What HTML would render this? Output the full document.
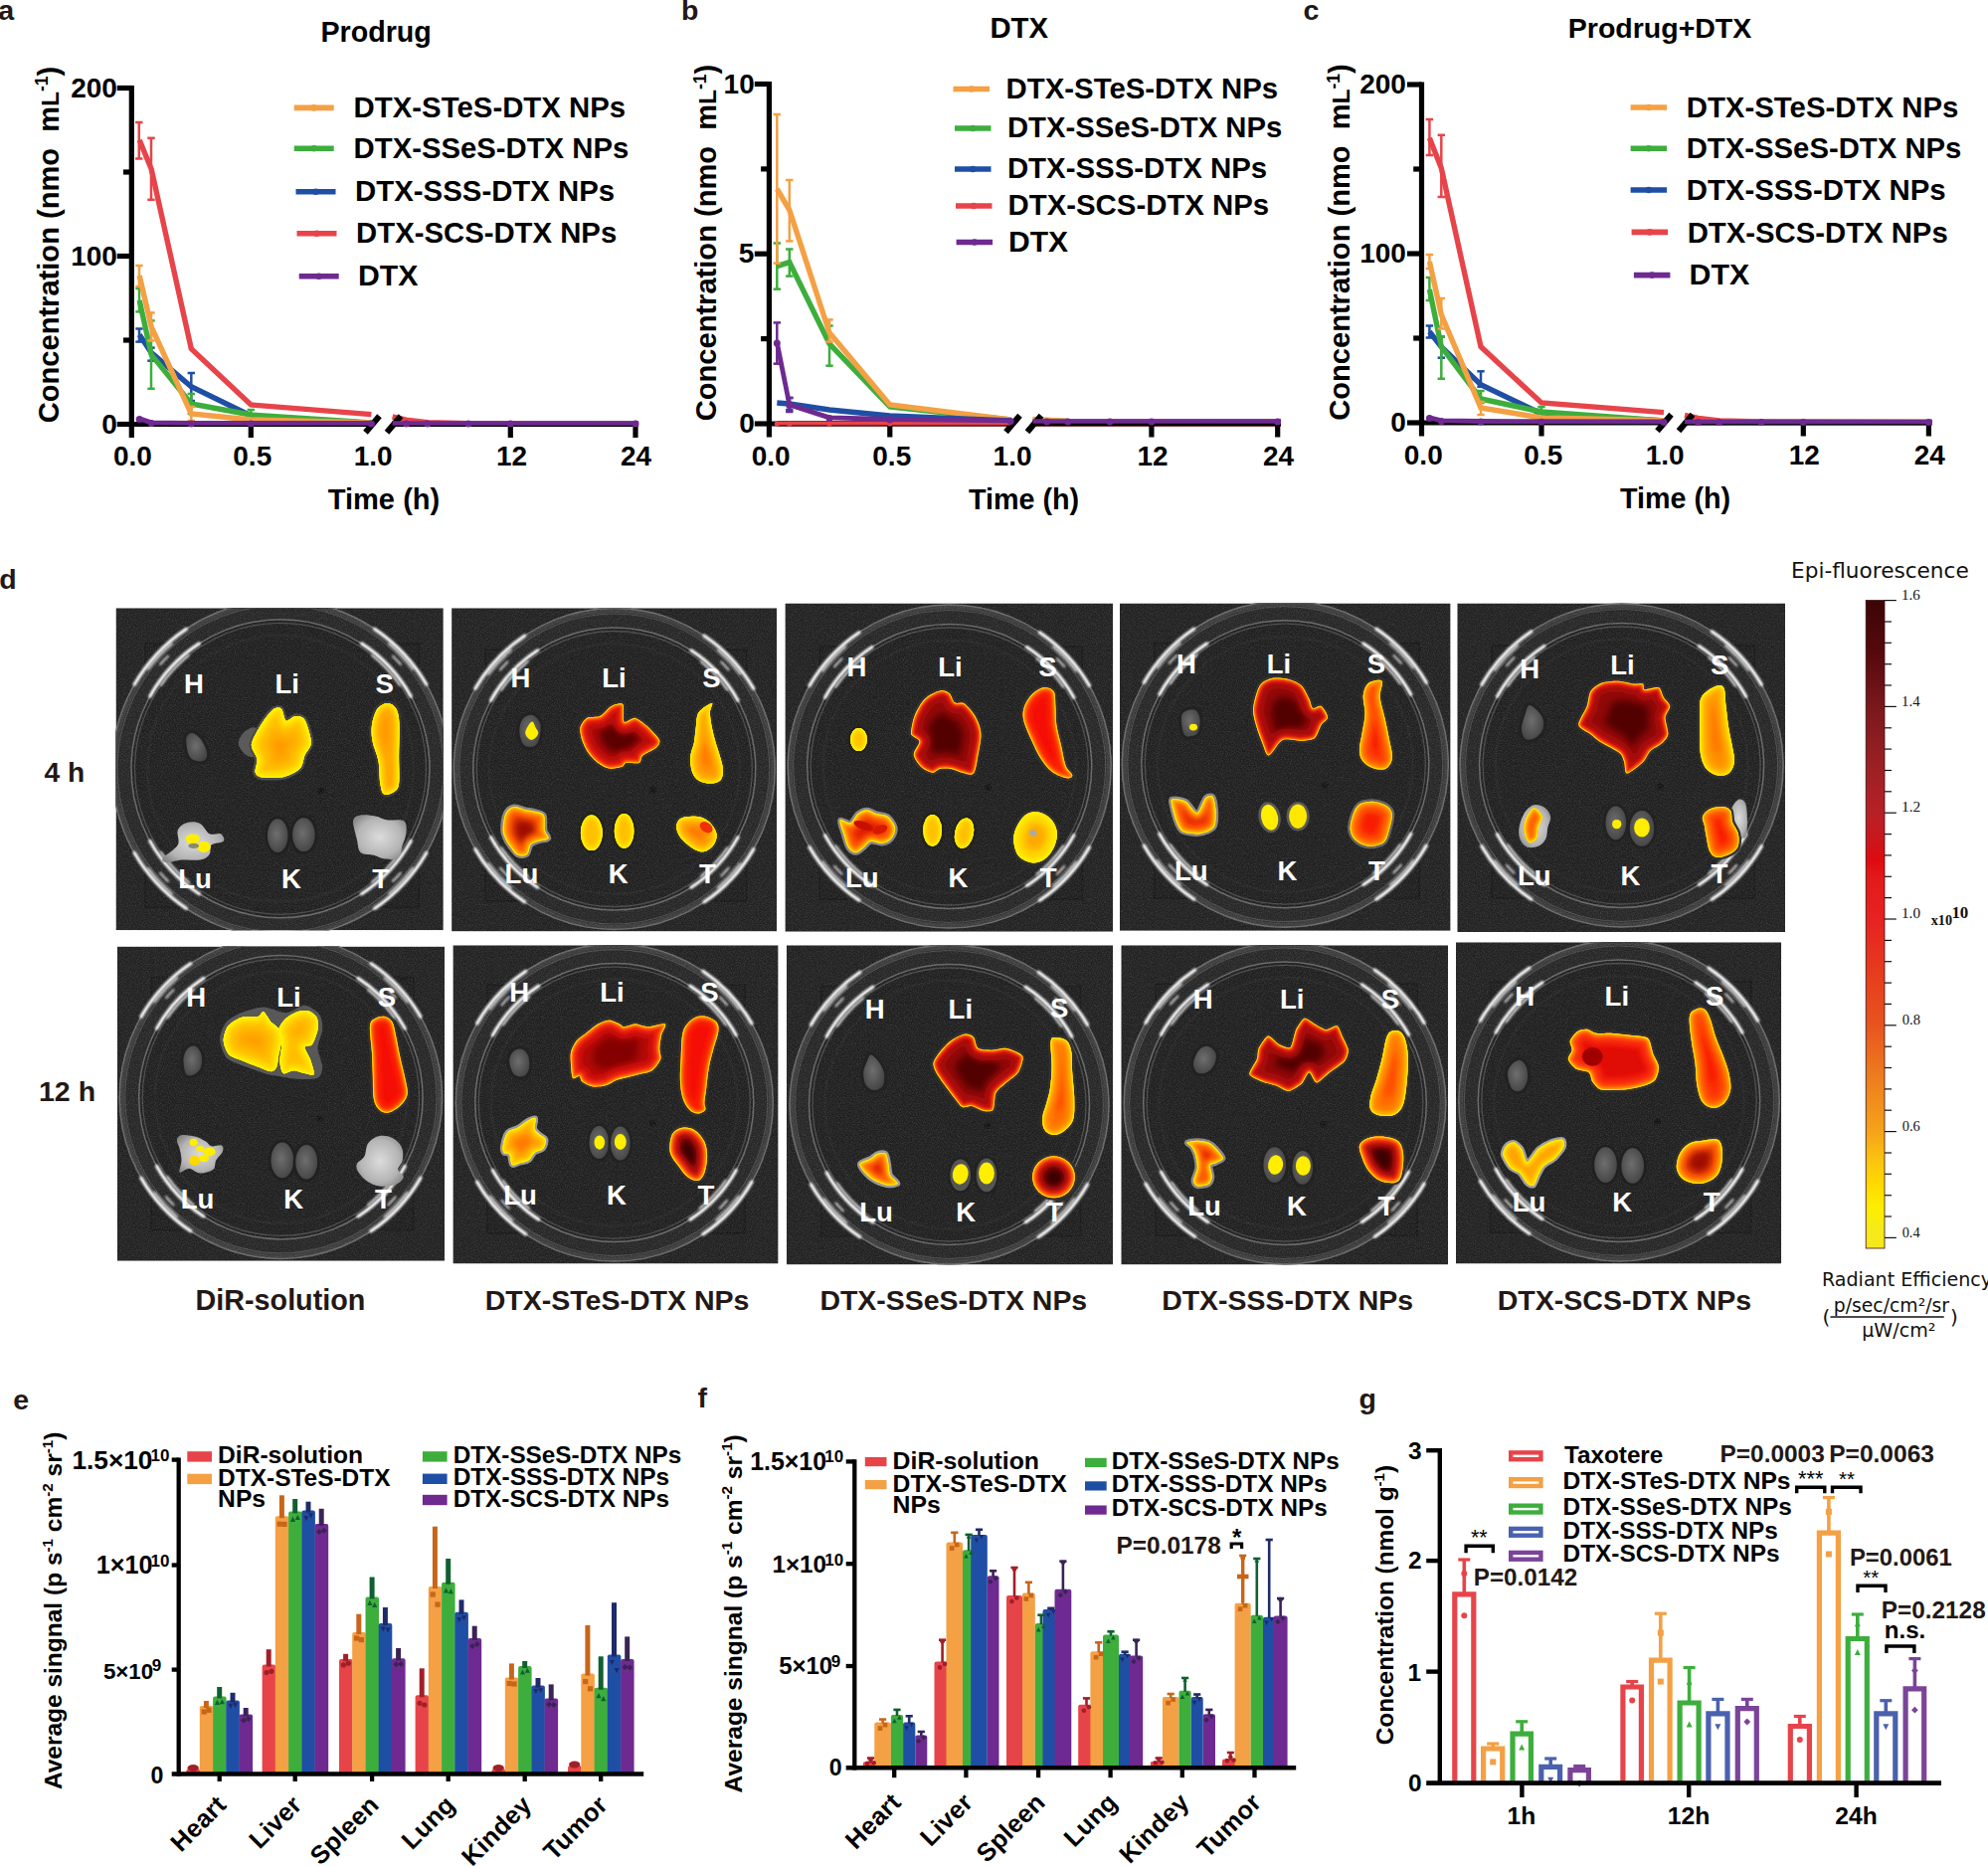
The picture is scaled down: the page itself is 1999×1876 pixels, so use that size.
<!DOCTYPE html>
<html lang="en"><head><meta charset="utf-8"><title>Figure</title>
<style>
html,body{margin:0;padding:0;background:#fff;}
body{width:1999px;height:1876px;overflow:hidden;}
svg{display:block;}
svg{font-family:"Liberation Sans","DejaVu Sans",sans-serif;}
</style></head><body>
<svg width="1999" height="1876" viewBox="0 0 1999 1876">
<rect width="1999" height="1876" fill="#fff"/>
<polyline points="140.2,336.5 152.2,354.6 192.3,388.8 252.3,418.0 373.4,425.5" fill="none" stroke="#1f4fa4" stroke-width="5.4" stroke-linejoin="miter" stroke-linecap="butt"/>
<polyline points="394.6,426.2 408.6,426.2 429.8,426.2 471.0,426.2 513.3,426.2 642.0,426.2" fill="none" stroke="#1f4fa4" stroke-width="5.4" stroke-linejoin="round"/>
<line x1="140.0" y1="330.5" x2="140.0" y2="343.6" stroke="#1f4fa4" stroke-width="2.5" />
<line x1="136.3" y1="330.5" x2="143.7" y2="330.5" stroke="#1f4fa4" stroke-width="2.5" />
<line x1="136.3" y1="343.6" x2="143.7" y2="343.6" stroke="#1f4fa4" stroke-width="2.5" />
<line x1="152.0" y1="349.6" x2="152.0" y2="362.7" stroke="#1f4fa4" stroke-width="2.5" />
<line x1="148.3" y1="349.6" x2="155.7" y2="349.6" stroke="#1f4fa4" stroke-width="2.5" />
<line x1="148.3" y1="362.7" x2="155.7" y2="362.7" stroke="#1f4fa4" stroke-width="2.5" />
<line x1="192.3" y1="375.0" x2="192.3" y2="403.0" stroke="#1f4fa4" stroke-width="2.5" />
<line x1="188.6" y1="375.0" x2="196.0" y2="375.0" stroke="#1f4fa4" stroke-width="2.5" />
<line x1="188.6" y1="403.0" x2="196.0" y2="403.0" stroke="#1f4fa4" stroke-width="2.5" />
<polyline points="140.2,302.0 152.2,356.6 192.3,406.0 252.3,417.0 373.4,425.0" fill="none" stroke="#3dae3c" stroke-width="5.4" stroke-linejoin="miter" stroke-linecap="butt"/>
<polyline points="394.6,426.0 408.6,426.0 429.8,426.0 471.0,426.0 513.3,426.0 642.0,426.0" fill="none" stroke="#3dae3c" stroke-width="5.4" stroke-linejoin="round"/>
<line x1="140.0" y1="290.0" x2="140.0" y2="313.4" stroke="#3dae3c" stroke-width="2.5" />
<line x1="136.3" y1="290.0" x2="143.7" y2="290.0" stroke="#3dae3c" stroke-width="2.5" />
<line x1="136.3" y1="313.4" x2="143.7" y2="313.4" stroke="#3dae3c" stroke-width="2.5" />
<line x1="152.0" y1="322.4" x2="152.0" y2="390.8" stroke="#3dae3c" stroke-width="2.5" />
<line x1="148.3" y1="322.4" x2="155.7" y2="322.4" stroke="#3dae3c" stroke-width="2.5" />
<line x1="148.3" y1="390.8" x2="155.7" y2="390.8" stroke="#3dae3c" stroke-width="2.5" />
<line x1="192.3" y1="396.0" x2="192.3" y2="416.0" stroke="#3dae3c" stroke-width="2.5" />
<line x1="188.6" y1="396.0" x2="196.0" y2="396.0" stroke="#3dae3c" stroke-width="2.5" />
<line x1="188.6" y1="416.0" x2="196.0" y2="416.0" stroke="#3dae3c" stroke-width="2.5" />
<line x1="252.3" y1="412.0" x2="252.3" y2="422.0" stroke="#3dae3c" stroke-width="2.5" />
<line x1="248.6" y1="412.0" x2="256.0" y2="412.0" stroke="#3dae3c" stroke-width="2.5" />
<line x1="248.6" y1="422.0" x2="256.0" y2="422.0" stroke="#3dae3c" stroke-width="2.5" />
<polyline points="140.2,277.0 152.2,328.5 192.3,416.0 252.3,422.0 373.4,425.0" fill="none" stroke="#f4a044" stroke-width="5.4" stroke-linejoin="miter" stroke-linecap="butt"/>
<polyline points="394.6,425.8 408.6,425.8 429.8,425.8 471.0,425.8 513.3,425.8 642.0,425.8" fill="none" stroke="#f4a044" stroke-width="5.4" stroke-linejoin="round"/>
<line x1="140.0" y1="267.0" x2="140.0" y2="288.0" stroke="#f4a044" stroke-width="2.5" />
<line x1="136.3" y1="267.0" x2="143.7" y2="267.0" stroke="#f4a044" stroke-width="2.5" />
<line x1="136.3" y1="288.0" x2="143.7" y2="288.0" stroke="#f4a044" stroke-width="2.5" />
<line x1="152.0" y1="314.4" x2="152.0" y2="342.5" stroke="#f4a044" stroke-width="2.5" />
<line x1="148.3" y1="314.4" x2="155.7" y2="314.4" stroke="#f4a044" stroke-width="2.5" />
<line x1="148.3" y1="342.5" x2="155.7" y2="342.5" stroke="#f4a044" stroke-width="2.5" />
<line x1="192.3" y1="409.0" x2="192.3" y2="423.0" stroke="#f4a044" stroke-width="2.5" />
<line x1="188.6" y1="409.0" x2="196.0" y2="409.0" stroke="#f4a044" stroke-width="2.5" />
<line x1="188.6" y1="423.0" x2="196.0" y2="423.0" stroke="#f4a044" stroke-width="2.5" />
<polyline points="140.2,140.8 152.2,170.0 192.3,350.6 252.3,407.0 373.4,416.6" fill="none" stroke="#e7444a" stroke-width="5.4" stroke-linejoin="miter" stroke-linecap="butt"/>
<polyline points="394.6,419.0 408.6,422.2 429.8,424.8 471.0,425.8 642.0,426.2" fill="none" stroke="#e7444a" stroke-width="5.4" stroke-linejoin="round"/>
<line x1="139.8" y1="123.0" x2="139.8" y2="159.5" stroke="#e7444a" stroke-width="2.5" />
<line x1="136.1" y1="123.0" x2="143.5" y2="123.0" stroke="#e7444a" stroke-width="2.5" />
<line x1="136.1" y1="159.5" x2="143.5" y2="159.5" stroke="#e7444a" stroke-width="2.5" />
<line x1="152.0" y1="138.8" x2="152.0" y2="200.8" stroke="#e7444a" stroke-width="2.5" />
<line x1="148.3" y1="138.8" x2="155.7" y2="138.8" stroke="#e7444a" stroke-width="2.5" />
<line x1="148.3" y1="200.8" x2="155.7" y2="200.8" stroke="#e7444a" stroke-width="2.5" />
<line x1="132.3" y1="85.9" x2="132.3" y2="440.0" stroke="#000" stroke-width="5.2" />
<line x1="129.7" y1="426.5" x2="375.4" y2="426.5" stroke="#000" stroke-width="5.2" />
<line x1="394.6" y1="426.5" x2="642.0" y2="426.5" stroke="#000" stroke-width="5.2" />
<line x1="367.5" y1="434.7" x2="381.5" y2="418.3" stroke="#000" stroke-width="6.0" />
<line x1="389.0" y1="434.7" x2="403.0" y2="418.3" stroke="#000" stroke-width="6.0" />
<line x1="117.7" y1="426.5" x2="132.3" y2="426.5" stroke="#000" stroke-width="5.2" />
<text x="102.3" y="435.7" font-size="28.0" font-weight="bold" textLength="15.6" lengthAdjust="spacingAndGlyphs">0</text>
<line x1="124.0" y1="342.0" x2="132.3" y2="342.0" stroke="#000" stroke-width="5.2" />
<line x1="117.7" y1="257.5" x2="132.3" y2="257.5" stroke="#000" stroke-width="5.2" />
<text x="71.2" y="266.7" font-size="28.0" font-weight="bold" textLength="46.7" lengthAdjust="spacingAndGlyphs">100</text>
<line x1="124.0" y1="173.0" x2="132.3" y2="173.0" stroke="#000" stroke-width="5.2" />
<line x1="117.7" y1="88.5" x2="132.3" y2="88.5" stroke="#000" stroke-width="5.2" />
<text x="71.2" y="97.7" font-size="28.0" font-weight="bold" textLength="46.7" lengthAdjust="spacingAndGlyphs">200</text>
<line x1="252.3" y1="426.5" x2="252.3" y2="440.0" stroke="#000" stroke-width="5.2" />
<line x1="513.3" y1="426.5" x2="513.3" y2="440.0" stroke="#000" stroke-width="5.2" />
<line x1="639.0" y1="426.5" x2="639.0" y2="440.0" stroke="#000" stroke-width="5.2" />
<text x="114.0" y="468.2" font-size="28.0" font-weight="bold" textLength="38.9" lengthAdjust="spacingAndGlyphs">0.0</text>
<text x="234.3" y="468.2" font-size="28.0" font-weight="bold" textLength="38.9" lengthAdjust="spacingAndGlyphs">0.5</text>
<text x="355.7" y="468.2" font-size="28.0" font-weight="bold" textLength="38.9" lengthAdjust="spacingAndGlyphs">1.0</text>
<text x="499.0" y="468.2" font-size="28.0" font-weight="bold" textLength="31.1" lengthAdjust="spacingAndGlyphs">12</text>
<text x="624.0" y="468.2" font-size="28.0" font-weight="bold" textLength="31.1" lengthAdjust="spacingAndGlyphs">24</text>
<polyline points="140.2,420.9 152.2,424.9 192.3,425.4 252.3,425.4 373.4,425.4" fill="none" stroke="#6e2a90" stroke-width="4.800000000000001" stroke-linejoin="round"/>
<polyline points="394.6,425.4 408.6,425.4 429.8,425.4 471.0,425.4 513.3,425.4 642.0,425.4" fill="none" stroke="#6e2a90" stroke-width="4.5" />
<circle cx="140.2" cy="421.4" r="3.5" fill="#6e2a90"/>
<circle cx="152.2" cy="425.4" r="3.5" fill="#6e2a90"/>
<circle cx="192.3" cy="425.9" r="3.5" fill="#6e2a90"/>
<circle cx="252.3" cy="425.9" r="3.5" fill="#6e2a90"/>
<circle cx="373.4" cy="425.9" r="3.5" fill="#6e2a90"/>
<circle cx="408.6" cy="425.9" r="3.5" fill="#6e2a90"/>
<circle cx="429.8" cy="425.9" r="3.5" fill="#6e2a90"/>
<circle cx="471.0" cy="425.9" r="3.5" fill="#6e2a90"/>
<circle cx="513.3" cy="425.9" r="3.5" fill="#6e2a90"/>
<circle cx="639.0" cy="425.9" r="3.5" fill="#6e2a90"/>
<text x="322.4" y="42.3" font-size="28.64" font-weight="bold" textLength="111.4" lengthAdjust="spacingAndGlyphs">Prodrug</text>
<text x="329.7" y="511.5" font-size="29.1" font-weight="bold" textLength="112.6" lengthAdjust="spacingAndGlyphs">Time (h)</text>
<text x="58.6" y="425.2" font-size="29.08" font-weight="bold" textLength="358.4" lengthAdjust="spacingAndGlyphs" transform="rotate(-90 58.6 425.2)" xml:space="preserve"><tspan>Concentration (nmo  m</tspan><tspan font-size="24.43">L</tspan><tspan font-size="17.45" dy="-10.47">-1</tspan><tspan dy="10.47">)</tspan></text>
<line x1="295.7" y1="108.4" x2="335.7" y2="108.4" stroke="#f4a044" stroke-width="5.6" />
<circle cx="315.7" cy="108.4" r="3.3" fill="#f4a044"/>
<text x="355.6" y="117.7" font-size="29.37" font-weight="bold" textLength="273.6" lengthAdjust="spacingAndGlyphs">DTX-STeS-DTX NPs</text>
<line x1="295.7" y1="149.3" x2="335.7" y2="149.3" stroke="#3dae3c" stroke-width="5.6" />
<circle cx="315.7" cy="149.3" r="3.3" fill="#3dae3c"/>
<text x="355.6" y="159.0" font-size="29.28" font-weight="bold" textLength="276.6" lengthAdjust="spacingAndGlyphs">DTX-SSeS-DTX NPs</text>
<line x1="297.5" y1="192.7" x2="337.5" y2="192.7" stroke="#1f4fa4" stroke-width="5.6" />
<circle cx="317.5" cy="192.7" r="3.3" fill="#1f4fa4"/>
<text x="357.1" y="201.8" font-size="29.37" font-weight="bold" textLength="261.1" lengthAdjust="spacingAndGlyphs">DTX-SSS-DTX NPs</text>
<line x1="298.5" y1="234.8" x2="338.5" y2="234.8" stroke="#e7444a" stroke-width="5.6" />
<circle cx="318.5" cy="234.8" r="3.3" fill="#e7444a"/>
<text x="358.1" y="244.0" font-size="29.3" font-weight="bold" textLength="262.1" lengthAdjust="spacingAndGlyphs">DTX-SCS-DTX NPs</text>
<line x1="300.7" y1="277.7" x2="340.7" y2="277.7" stroke="#6e2a90" stroke-width="5.6" />
<circle cx="320.7" cy="277.7" r="3.3" fill="#6e2a90"/>
<text x="360.0" y="286.7" font-size="30.23" font-weight="bold" textLength="60.5" lengthAdjust="spacingAndGlyphs">DTX</text>
<polyline points="781.3,426.0 793.8,426.0 834.0,426.0 894.8,426.0 1016.2,426.0" fill="none" stroke="#e7444a" stroke-width="5.4" stroke-linejoin="miter" stroke-linecap="butt"/>
<polyline points="1038.6,426.0 1052.7,426.0 1073.8,426.0 1116.0,426.0 1157.9,426.0 1288.0,426.0" fill="none" stroke="#e7444a" stroke-width="5.4" stroke-linejoin="round"/>
<polyline points="781.3,267.6 793.8,263.6 834.0,345.6 894.8,409.0 1016.2,422.0" fill="none" stroke="#3dae3c" stroke-width="5.4" stroke-linejoin="miter" stroke-linecap="butt"/>
<polyline points="1038.6,422.5 1073.8,423.5 1288.0,423.6" fill="none" stroke="#3dae3c" stroke-width="5.4" stroke-linejoin="round"/>
<line x1="781.3" y1="244.5" x2="781.3" y2="290.7" stroke="#3dae3c" stroke-width="2.5" />
<line x1="777.6" y1="244.5" x2="785.0" y2="244.5" stroke="#3dae3c" stroke-width="2.5" />
<line x1="777.6" y1="290.7" x2="785.0" y2="290.7" stroke="#3dae3c" stroke-width="2.5" />
<line x1="793.8" y1="250.5" x2="793.8" y2="277.6" stroke="#3dae3c" stroke-width="2.5" />
<line x1="790.1" y1="250.5" x2="797.5" y2="250.5" stroke="#3dae3c" stroke-width="2.5" />
<line x1="790.1" y1="277.6" x2="797.5" y2="277.6" stroke="#3dae3c" stroke-width="2.5" />
<line x1="834.0" y1="327.5" x2="834.0" y2="367.7" stroke="#3dae3c" stroke-width="2.5" />
<line x1="830.3" y1="327.5" x2="837.7" y2="327.5" stroke="#3dae3c" stroke-width="2.5" />
<line x1="830.3" y1="367.7" x2="837.7" y2="367.7" stroke="#3dae3c" stroke-width="2.5" />
<polyline points="781.3,190.0 793.8,211.0 834.0,334.5 894.8,407.0 1016.2,422.0" fill="none" stroke="#f4a044" stroke-width="5.4" stroke-linejoin="miter" stroke-linecap="butt"/>
<polyline points="1038.6,421.5 1073.8,423.5 1288.0,424.0" fill="none" stroke="#f4a044" stroke-width="5.4" stroke-linejoin="round"/>
<line x1="781.3" y1="115.0" x2="781.3" y2="264.6" stroke="#f4a044" stroke-width="2.5" />
<line x1="777.6" y1="115.0" x2="785.0" y2="115.0" stroke="#f4a044" stroke-width="2.5" />
<line x1="777.6" y1="264.6" x2="785.0" y2="264.6" stroke="#f4a044" stroke-width="2.5" />
<line x1="793.8" y1="181.0" x2="793.8" y2="242.4" stroke="#f4a044" stroke-width="2.5" />
<line x1="790.1" y1="181.0" x2="797.5" y2="181.0" stroke="#f4a044" stroke-width="2.5" />
<line x1="790.1" y1="242.4" x2="797.5" y2="242.4" stroke="#f4a044" stroke-width="2.5" />
<line x1="834.0" y1="321.4" x2="834.0" y2="343.6" stroke="#f4a044" stroke-width="2.5" />
<line x1="830.3" y1="321.4" x2="837.7" y2="321.4" stroke="#f4a044" stroke-width="2.5" />
<line x1="830.3" y1="343.6" x2="837.7" y2="343.6" stroke="#f4a044" stroke-width="2.5" />
<polyline points="781.3,405.0 793.8,406.0 834.0,412.0 894.8,418.0 1016.2,423.0" fill="none" stroke="#1f4fa4" stroke-width="5.4" stroke-linejoin="miter" stroke-linecap="butt"/>
<polyline points="1038.6,424.5 1052.7,424.5 1073.8,424.5 1116.0,424.5 1157.9,424.5 1288.0,424.5" fill="none" stroke="#1f4fa4" stroke-width="5.4" stroke-linejoin="round"/>
<line x1="793.8" y1="400.0" x2="793.8" y2="412.0" stroke="#1f4fa4" stroke-width="2.5" />
<line x1="790.1" y1="400.0" x2="797.5" y2="400.0" stroke="#1f4fa4" stroke-width="2.5" />
<line x1="790.1" y1="412.0" x2="797.5" y2="412.0" stroke="#1f4fa4" stroke-width="2.5" />
<line x1="773.4" y1="81.9" x2="773.4" y2="439.5" stroke="#000" stroke-width="5.2" />
<line x1="770.8" y1="426.0" x2="1017.5" y2="426.0" stroke="#000" stroke-width="5.2" />
<line x1="1038.6" y1="426.0" x2="1288.0" y2="426.0" stroke="#000" stroke-width="5.2" />
<line x1="1011.5" y1="434.2" x2="1025.5" y2="417.8" stroke="#000" stroke-width="6.0" />
<line x1="1033.0" y1="434.2" x2="1047.0" y2="417.8" stroke="#000" stroke-width="6.0" />
<line x1="758.8" y1="426.0" x2="773.4" y2="426.0" stroke="#000" stroke-width="5.2" />
<text x="743.2" y="435.2" font-size="28.0" font-weight="bold" textLength="15.6" lengthAdjust="spacingAndGlyphs">0</text>
<line x1="765.1" y1="340.6" x2="773.4" y2="340.6" stroke="#000" stroke-width="5.2" />
<line x1="758.8" y1="255.2" x2="773.4" y2="255.2" stroke="#000" stroke-width="5.2" />
<text x="742.8" y="264.4" font-size="28.0" font-weight="bold" textLength="15.6" lengthAdjust="spacingAndGlyphs">5</text>
<line x1="765.1" y1="169.9" x2="773.4" y2="169.9" stroke="#000" stroke-width="5.2" />
<line x1="758.8" y1="84.5" x2="773.4" y2="84.5" stroke="#000" stroke-width="5.2" />
<text x="727.6" y="93.7" font-size="28.0" font-weight="bold" textLength="31.1" lengthAdjust="spacingAndGlyphs">10</text>
<line x1="894.8" y1="426.0" x2="894.8" y2="439.5" stroke="#000" stroke-width="5.2" />
<line x1="1157.9" y1="426.0" x2="1157.9" y2="439.5" stroke="#000" stroke-width="5.2" />
<line x1="1284.7" y1="426.0" x2="1284.7" y2="439.5" stroke="#000" stroke-width="5.2" />
<text x="755.7" y="468.2" font-size="28.0" font-weight="bold" textLength="38.9" lengthAdjust="spacingAndGlyphs">0.0</text>
<text x="877.3" y="468.2" font-size="28.0" font-weight="bold" textLength="38.9" lengthAdjust="spacingAndGlyphs">0.5</text>
<text x="998.6" y="468.2" font-size="28.0" font-weight="bold" textLength="38.9" lengthAdjust="spacingAndGlyphs">1.0</text>
<text x="1143.4" y="468.2" font-size="28.0" font-weight="bold" textLength="31.1" lengthAdjust="spacingAndGlyphs">12</text>
<text x="1270.0" y="468.2" font-size="28.0" font-weight="bold" textLength="31.1" lengthAdjust="spacingAndGlyphs">24</text>
<polyline points="781.3,425.7 793.8,425.7 834.0,425.7 894.8,425.7 1016.2,425.7" fill="none" stroke="#e7444a" stroke-width="3.6" />
<circle cx="781.3" cy="426.0" r="2.6" fill="#e7444a"/>
<circle cx="793.8" cy="426.0" r="2.6" fill="#e7444a"/>
<circle cx="834.0" cy="426.0" r="2.6" fill="#e7444a"/>
<circle cx="894.8" cy="426.0" r="2.6" fill="#e7444a"/>
<polyline points="781.3,344.5 793.8,406.9 834.0,419.9 894.8,421.5 1016.2,422.9" fill="none" stroke="#6e2a90" stroke-width="4.800000000000001" stroke-linejoin="round"/>
<polyline points="1038.6,423.5 1052.7,423.5 1073.8,423.5 1116.0,423.5 1157.9,423.5 1288.0,423.5" fill="none" stroke="#6e2a90" stroke-width="4.5" />
<circle cx="781.3" cy="345.0" r="3.5" fill="#6e2a90"/>
<circle cx="793.8" cy="407.4" r="3.5" fill="#6e2a90"/>
<circle cx="834.0" cy="420.4" r="3.5" fill="#6e2a90"/>
<circle cx="894.8" cy="422.0" r="3.5" fill="#6e2a90"/>
<circle cx="1016.2" cy="423.4" r="3.5" fill="#6e2a90"/>
<circle cx="1052.7" cy="424.0" r="3.5" fill="#6e2a90"/>
<circle cx="1073.8" cy="424.0" r="3.5" fill="#6e2a90"/>
<circle cx="1116.0" cy="424.0" r="3.5" fill="#6e2a90"/>
<circle cx="1157.9" cy="424.0" r="3.5" fill="#6e2a90"/>
<circle cx="1284.7" cy="424.0" r="3.5" fill="#6e2a90"/>
<text x="995.4" y="38.2" font-size="29.3" font-weight="bold" textLength="58.6" lengthAdjust="spacingAndGlyphs">DTX</text>
<text x="973.9" y="511.6" font-size="28.75" font-weight="bold" textLength="111.3" lengthAdjust="spacingAndGlyphs">Time (h)</text>
<text x="720.4" y="423.2" font-size="29.08" font-weight="bold" textLength="358.4" lengthAdjust="spacingAndGlyphs" transform="rotate(-90 720.4 423.2)" xml:space="preserve"><tspan>Concentration (nmo  m</tspan><tspan font-size="24.43">L</tspan><tspan font-size="17.45" dy="-10.47">-1</tspan><tspan dy="10.47">)</tspan></text>
<line x1="958.5" y1="89.5" x2="995.0" y2="89.5" stroke="#f4a044" stroke-width="5.6" />
<circle cx="976.8" cy="89.5" r="3.3" fill="#f4a044"/>
<text x="1011.5" y="98.6" font-size="29.38" font-weight="bold" textLength="273.7" lengthAdjust="spacingAndGlyphs">DTX-STeS-DTX NPs</text>
<line x1="960.0" y1="129.0" x2="996.5" y2="129.0" stroke="#3dae3c" stroke-width="5.6" />
<circle cx="978.2" cy="129.0" r="3.3" fill="#3dae3c"/>
<text x="1012.9" y="138.4" font-size="29.25" font-weight="bold" textLength="276.3" lengthAdjust="spacingAndGlyphs">DTX-SSeS-DTX NPs</text>
<line x1="960.0" y1="170.0" x2="996.5" y2="170.0" stroke="#1f4fa4" stroke-width="5.6" />
<circle cx="978.2" cy="170.0" r="3.3" fill="#1f4fa4"/>
<text x="1012.9" y="178.7" font-size="29.39" font-weight="bold" textLength="261.3" lengthAdjust="spacingAndGlyphs">DTX-SSS-DTX NPs</text>
<line x1="961.0" y1="207.0" x2="997.5" y2="207.0" stroke="#e7444a" stroke-width="5.6" />
<circle cx="979.2" cy="207.0" r="3.3" fill="#e7444a"/>
<text x="1013.5" y="216.3" font-size="29.37" font-weight="bold" textLength="262.7" lengthAdjust="spacingAndGlyphs">DTX-SCS-DTX NPs</text>
<line x1="961.6" y1="243.5" x2="998.1" y2="243.5" stroke="#6e2a90" stroke-width="5.6" />
<circle cx="979.9" cy="243.5" r="3.3" fill="#6e2a90"/>
<text x="1014.0" y="252.5" font-size="30.03" font-weight="bold" textLength="60.1" lengthAdjust="spacingAndGlyphs">DTX</text>
<line x1="781.3" y1="324.4" x2="781.3" y2="365.7" stroke="#6e2a90" stroke-width="2.5" />
<line x1="777.6" y1="324.4" x2="785.0" y2="324.4" stroke="#6e2a90" stroke-width="2.5" />
<line x1="777.6" y1="365.7" x2="785.0" y2="365.7" stroke="#6e2a90" stroke-width="2.5" />
<line x1="793.8" y1="400.0" x2="793.8" y2="414.0" stroke="#6e2a90" stroke-width="2.5" />
<line x1="790.1" y1="400.0" x2="797.5" y2="400.0" stroke="#6e2a90" stroke-width="2.5" />
<line x1="790.1" y1="414.0" x2="797.5" y2="414.0" stroke="#6e2a90" stroke-width="2.5" />
<polyline points="1437.4,333.5 1449.3,348.6 1489.0,386.8 1550.0,416.0 1673.0,423.0" fill="none" stroke="#1f4fa4" stroke-width="5.4" stroke-linejoin="miter" stroke-linecap="butt"/>
<polyline points="1694.0,424.8 1707.6,424.8 1728.8,424.8 1771.0,424.8 1813.3,424.8 1942.5,424.8" fill="none" stroke="#1f4fa4" stroke-width="5.4" stroke-linejoin="round"/>
<line x1="1437.4" y1="327.5" x2="1437.4" y2="339.5" stroke="#1f4fa4" stroke-width="2.5" />
<line x1="1433.7" y1="327.5" x2="1441.1" y2="327.5" stroke="#1f4fa4" stroke-width="2.5" />
<line x1="1433.7" y1="339.5" x2="1441.1" y2="339.5" stroke="#1f4fa4" stroke-width="2.5" />
<line x1="1449.3" y1="338.5" x2="1449.3" y2="359.7" stroke="#1f4fa4" stroke-width="2.5" />
<line x1="1445.6" y1="338.5" x2="1453.0" y2="338.5" stroke="#1f4fa4" stroke-width="2.5" />
<line x1="1445.6" y1="359.7" x2="1453.0" y2="359.7" stroke="#1f4fa4" stroke-width="2.5" />
<line x1="1489.0" y1="373.3" x2="1489.0" y2="388.8" stroke="#1f4fa4" stroke-width="2.5" />
<line x1="1485.3" y1="373.3" x2="1492.7" y2="373.3" stroke="#1f4fa4" stroke-width="2.5" />
<line x1="1485.3" y1="388.8" x2="1492.7" y2="388.8" stroke="#1f4fa4" stroke-width="2.5" />
<polyline points="1437.4,291.0 1449.3,348.6 1489.0,401.0 1550.0,414.0 1673.0,423.0" fill="none" stroke="#3dae3c" stroke-width="5.4" stroke-linejoin="miter" stroke-linecap="butt"/>
<polyline points="1694.0,424.5 1707.6,424.5 1728.8,424.5 1771.0,424.5 1813.3,424.5 1942.5,424.5" fill="none" stroke="#3dae3c" stroke-width="5.4" stroke-linejoin="round"/>
<line x1="1437.4" y1="279.0" x2="1437.4" y2="302.0" stroke="#3dae3c" stroke-width="2.5" />
<line x1="1433.7" y1="279.0" x2="1441.1" y2="279.0" stroke="#3dae3c" stroke-width="2.5" />
<line x1="1433.7" y1="302.0" x2="1441.1" y2="302.0" stroke="#3dae3c" stroke-width="2.5" />
<line x1="1449.3" y1="338.5" x2="1449.3" y2="380.8" stroke="#3dae3c" stroke-width="2.5" />
<line x1="1445.6" y1="338.5" x2="1453.0" y2="338.5" stroke="#3dae3c" stroke-width="2.5" />
<line x1="1445.6" y1="380.8" x2="1453.0" y2="380.8" stroke="#3dae3c" stroke-width="2.5" />
<line x1="1489.0" y1="393.0" x2="1489.0" y2="405.0" stroke="#3dae3c" stroke-width="2.5" />
<line x1="1485.3" y1="393.0" x2="1492.7" y2="393.0" stroke="#3dae3c" stroke-width="2.5" />
<line x1="1485.3" y1="405.0" x2="1492.7" y2="405.0" stroke="#3dae3c" stroke-width="2.5" />
<line x1="1550.0" y1="409.0" x2="1550.0" y2="417.0" stroke="#3dae3c" stroke-width="2.5" />
<line x1="1546.3" y1="409.0" x2="1553.7" y2="409.0" stroke="#3dae3c" stroke-width="2.5" />
<line x1="1546.3" y1="417.0" x2="1553.7" y2="417.0" stroke="#3dae3c" stroke-width="2.5" />
<polyline points="1437.4,263.0 1449.3,316.4 1489.0,410.0 1550.0,420.0 1673.0,422.6" fill="none" stroke="#f4a044" stroke-width="5.4" stroke-linejoin="miter" stroke-linecap="butt"/>
<polyline points="1694.0,424.3 1707.6,424.3 1728.8,424.3 1771.0,424.3 1813.3,424.3 1942.5,424.3" fill="none" stroke="#f4a044" stroke-width="5.4" stroke-linejoin="round"/>
<line x1="1437.4" y1="256.0" x2="1437.4" y2="270.0" stroke="#f4a044" stroke-width="2.5" />
<line x1="1433.7" y1="256.0" x2="1441.1" y2="256.0" stroke="#f4a044" stroke-width="2.5" />
<line x1="1433.7" y1="270.0" x2="1441.1" y2="270.0" stroke="#f4a044" stroke-width="2.5" />
<line x1="1449.3" y1="300.0" x2="1449.3" y2="330.5" stroke="#f4a044" stroke-width="2.5" />
<line x1="1445.6" y1="300.0" x2="1453.0" y2="300.0" stroke="#f4a044" stroke-width="2.5" />
<line x1="1445.6" y1="330.5" x2="1453.0" y2="330.5" stroke="#f4a044" stroke-width="2.5" />
<line x1="1489.0" y1="404.0" x2="1489.0" y2="417.0" stroke="#f4a044" stroke-width="2.5" />
<line x1="1485.3" y1="404.0" x2="1492.7" y2="404.0" stroke="#f4a044" stroke-width="2.5" />
<line x1="1485.3" y1="417.0" x2="1492.7" y2="417.0" stroke="#f4a044" stroke-width="2.5" />
<polyline points="1437.4,138.8 1449.3,169.0 1489.0,348.6 1550.0,405.0 1673.0,414.6" fill="none" stroke="#e7444a" stroke-width="5.4" stroke-linejoin="miter" stroke-linecap="butt"/>
<polyline points="1694.0,417.5 1707.6,420.5 1728.8,423.0 1771.0,424.0 1942.5,424.6" fill="none" stroke="#e7444a" stroke-width="5.4" stroke-linejoin="round"/>
<line x1="1437.4" y1="120.0" x2="1437.4" y2="156.0" stroke="#e7444a" stroke-width="2.5" />
<line x1="1433.7" y1="120.0" x2="1441.1" y2="120.0" stroke="#e7444a" stroke-width="2.5" />
<line x1="1433.7" y1="156.0" x2="1441.1" y2="156.0" stroke="#e7444a" stroke-width="2.5" />
<line x1="1449.3" y1="135.8" x2="1449.3" y2="198.0" stroke="#e7444a" stroke-width="2.5" />
<line x1="1445.6" y1="135.8" x2="1453.0" y2="135.8" stroke="#e7444a" stroke-width="2.5" />
<line x1="1445.6" y1="198.0" x2="1453.0" y2="198.0" stroke="#e7444a" stroke-width="2.5" />
<line x1="1429.5" y1="82.4" x2="1429.5" y2="438.5" stroke="#000" stroke-width="5.2" />
<line x1="1426.9" y1="425.0" x2="1675.0" y2="425.0" stroke="#000" stroke-width="5.2" />
<line x1="1694.0" y1="425.0" x2="1942.5" y2="425.0" stroke="#000" stroke-width="5.2" />
<line x1="1666.5" y1="433.2" x2="1680.5" y2="416.8" stroke="#000" stroke-width="6.0" />
<line x1="1688.0" y1="433.2" x2="1702.0" y2="416.8" stroke="#000" stroke-width="6.0" />
<line x1="1414.9" y1="425.0" x2="1429.5" y2="425.0" stroke="#000" stroke-width="5.2" />
<text x="1398.3" y="434.2" font-size="28.0" font-weight="bold" textLength="15.6" lengthAdjust="spacingAndGlyphs">0</text>
<line x1="1421.2" y1="340.0" x2="1429.5" y2="340.0" stroke="#000" stroke-width="5.2" />
<line x1="1414.9" y1="255.0" x2="1429.5" y2="255.0" stroke="#000" stroke-width="5.2" />
<text x="1367.2" y="264.2" font-size="28.0" font-weight="bold" textLength="46.7" lengthAdjust="spacingAndGlyphs">100</text>
<line x1="1421.2" y1="170.0" x2="1429.5" y2="170.0" stroke="#000" stroke-width="5.2" />
<line x1="1414.9" y1="85.0" x2="1429.5" y2="85.0" stroke="#000" stroke-width="5.2" />
<text x="1367.2" y="94.2" font-size="28.0" font-weight="bold" textLength="46.7" lengthAdjust="spacingAndGlyphs">200</text>
<line x1="1550.0" y1="425.0" x2="1550.0" y2="438.5" stroke="#000" stroke-width="5.2" />
<line x1="1813.3" y1="425.0" x2="1813.3" y2="438.5" stroke="#000" stroke-width="5.2" />
<line x1="1939.4" y1="425.0" x2="1939.4" y2="438.5" stroke="#000" stroke-width="5.2" />
<text x="1411.8" y="467.4" font-size="28.0" font-weight="bold" textLength="38.9" lengthAdjust="spacingAndGlyphs">0.0</text>
<text x="1532.3" y="467.4" font-size="28.0" font-weight="bold" textLength="38.9" lengthAdjust="spacingAndGlyphs">0.5</text>
<text x="1654.7" y="467.4" font-size="28.0" font-weight="bold" textLength="38.9" lengthAdjust="spacingAndGlyphs">1.0</text>
<text x="1798.8" y="467.4" font-size="28.0" font-weight="bold" textLength="31.1" lengthAdjust="spacingAndGlyphs">12</text>
<text x="1924.8" y="467.4" font-size="28.0" font-weight="bold" textLength="31.1" lengthAdjust="spacingAndGlyphs">24</text>
<polyline points="1437.4,419.9 1449.3,422.9 1489.0,423.5 1550.0,423.7 1673.0,423.9" fill="none" stroke="#6e2a90" stroke-width="4.800000000000001" stroke-linejoin="round"/>
<polyline points="1694.0,423.9 1707.6,423.9 1728.8,423.9 1771.0,423.9 1813.3,423.9 1942.5,423.9" fill="none" stroke="#6e2a90" stroke-width="4.5" />
<circle cx="1437.4" cy="420.4" r="3.5" fill="#6e2a90"/>
<circle cx="1449.3" cy="423.4" r="3.5" fill="#6e2a90"/>
<circle cx="1489.0" cy="424.0" r="3.5" fill="#6e2a90"/>
<circle cx="1550.0" cy="424.2" r="3.5" fill="#6e2a90"/>
<circle cx="1673.0" cy="424.4" r="3.5" fill="#6e2a90"/>
<circle cx="1707.6" cy="424.4" r="3.5" fill="#6e2a90"/>
<circle cx="1728.8" cy="424.4" r="3.5" fill="#6e2a90"/>
<circle cx="1771.0" cy="424.4" r="3.5" fill="#6e2a90"/>
<circle cx="1813.3" cy="424.4" r="3.5" fill="#6e2a90"/>
<circle cx="1939.4" cy="424.4" r="3.5" fill="#6e2a90"/>
<text x="1576.8" y="38.2" font-size="28.51" font-weight="bold" textLength="184.5" lengthAdjust="spacingAndGlyphs">Prodrug+DTX</text>
<text x="1628.9" y="510.5" font-size="28.73" font-weight="bold" textLength="111.2" lengthAdjust="spacingAndGlyphs">Time (h)</text>
<text x="1357.3" y="422.7" font-size="29.08" font-weight="bold" textLength="358.4" lengthAdjust="spacingAndGlyphs" transform="rotate(-90 1357.3 422.7)" xml:space="preserve"><tspan>Concentration (nmo  m</tspan><tspan font-size="24.43">L</tspan><tspan font-size="17.45" dy="-10.47">-1</tspan><tspan dy="10.47">)</tspan></text>
<line x1="1639.6" y1="108.0" x2="1676.1" y2="108.0" stroke="#f4a044" stroke-width="5.6" />
<circle cx="1657.8" cy="108.0" r="3.3" fill="#f4a044"/>
<text x="1695.7" y="117.7" font-size="29.38" font-weight="bold" textLength="273.7" lengthAdjust="spacingAndGlyphs">DTX-STeS-DTX NPs</text>
<line x1="1639.6" y1="149.3" x2="1676.1" y2="149.3" stroke="#3dae3c" stroke-width="5.6" />
<circle cx="1657.8" cy="149.3" r="3.3" fill="#3dae3c"/>
<text x="1695.7" y="159.0" font-size="29.29" font-weight="bold" textLength="276.7" lengthAdjust="spacingAndGlyphs">DTX-SSeS-DTX NPs</text>
<line x1="1639.6" y1="191.0" x2="1676.1" y2="191.0" stroke="#1f4fa4" stroke-width="5.6" />
<circle cx="1657.8" cy="191.0" r="3.3" fill="#1f4fa4"/>
<text x="1695.7" y="201.2" font-size="29.36" font-weight="bold" textLength="261.0" lengthAdjust="spacingAndGlyphs">DTX-SSS-DTX NPs</text>
<line x1="1640.6" y1="233.4" x2="1677.1" y2="233.4" stroke="#e7444a" stroke-width="5.6" />
<circle cx="1658.8" cy="233.4" r="3.3" fill="#e7444a"/>
<text x="1696.7" y="243.5" font-size="29.29" font-weight="bold" textLength="262.0" lengthAdjust="spacingAndGlyphs">DTX-SCS-DTX NPs</text>
<line x1="1642.9" y1="276.6" x2="1679.4" y2="276.6" stroke="#6e2a90" stroke-width="5.6" />
<circle cx="1661.2" cy="276.6" r="3.3" fill="#6e2a90"/>
<text x="1698.6" y="285.7" font-size="30.34" font-weight="bold" textLength="60.7" lengthAdjust="spacingAndGlyphs">DTX</text>
<text x="-1.7" y="20.3" font-size="28.5" font-weight="bold" fill="#231815" textLength="15.9" lengthAdjust="spacingAndGlyphs">a</text>
<text x="685.1" y="20.3" font-size="28.5" font-weight="bold" fill="#231815" textLength="17.4" lengthAdjust="spacingAndGlyphs">b</text>
<text x="1310.4" y="20.3" font-size="28.5" font-weight="bold" fill="#231815" textLength="15.9" lengthAdjust="spacingAndGlyphs">c</text>
<defs>
<radialGradient id="gY" cx="0.58" cy="0.55" r="0.6"><stop offset="0" stop-color="#ff9a00"/><stop offset="0.55" stop-color="#ffc400"/><stop offset="0.9" stop-color="#ffee00"/><stop offset="1" stop-color="#fff200"/></radialGradient>
<linearGradient id="gYS" x1="0" y1="0" x2="0" y2="1"><stop offset="0" stop-color="#fff000"/><stop offset="0.22" stop-color="#ffd800"/><stop offset="0.45" stop-color="#ff9400"/><stop offset="0.8" stop-color="#ffae00"/><stop offset="1" stop-color="#ffe800"/></linearGradient>
<radialGradient id="gR" cx="0.55" cy="0.5" r="0.62"><stop offset="0" stop-color="#5a0000"/><stop offset="0.4" stop-color="#860000"/><stop offset="0.66" stop-color="#c40600"/><stop offset="0.84" stop-color="#f42000"/><stop offset="0.94" stop-color="#ff8a00"/><stop offset="1" stop-color="#ffe000"/></radialGradient>
<radialGradient id="gRb" cx="0.62" cy="0.52" r="0.62"><stop offset="0" stop-color="#6a0000"/><stop offset="0.3" stop-color="#a00000"/><stop offset="0.6" stop-color="#dc0c00"/><stop offset="0.85" stop-color="#ff2a00"/><stop offset="0.95" stop-color="#ff9000"/><stop offset="1" stop-color="#ffe000"/></radialGradient>
<radialGradient id="gR2" cx="0.55" cy="0.5" r="0.65"><stop offset="0" stop-color="#8a0000"/><stop offset="0.5" stop-color="#c80500"/><stop offset="0.8" stop-color="#f01800"/><stop offset="0.93" stop-color="#ff7000"/><stop offset="1" stop-color="#ffe000"/></radialGradient>
<radialGradient id="gR3" cx="0.58" cy="0.55" r="0.6"><stop offset="0" stop-color="#4a0000"/><stop offset="0.3" stop-color="#7a0000"/><stop offset="0.55" stop-color="#e01000"/><stop offset="0.8" stop-color="#ff5a00"/><stop offset="1" stop-color="#ffd000"/></radialGradient>
<radialGradient id="gR4" cx="0.45" cy="0.5" r="0.65"><stop offset="0" stop-color="#c00000"/><stop offset="0.5" stop-color="#f01000"/><stop offset="0.78" stop-color="#ff3c00"/><stop offset="0.92" stop-color="#ff9000"/><stop offset="1" stop-color="#ffe800"/></radialGradient>
<radialGradient id="gS" cx="0.5" cy="0.5" r="0.62"><stop offset="0" stop-color="#f80c00"/><stop offset="0.6" stop-color="#ff1c00"/><stop offset="0.82" stop-color="#ff5a00"/><stop offset="0.95" stop-color="#ffb000"/><stop offset="1" stop-color="#ffe000"/></radialGradient>
<radialGradient id="gS2" cx="0.5" cy="0.65" r="0.7"><stop offset="0" stop-color="#ff2000"/><stop offset="0.5" stop-color="#ff4800"/><stop offset="0.8" stop-color="#ff8800"/><stop offset="1" stop-color="#ffe000"/></radialGradient>
<radialGradient id="gO" cx="0.5" cy="0.6" r="0.65"><stop offset="0" stop-color="#ff8600"/><stop offset="0.6" stop-color="#ffae00"/><stop offset="0.9" stop-color="#ffdc00"/><stop offset="1" stop-color="#fff000"/></radialGradient>
<radialGradient id="gOS" cx="0.5" cy="0.72" r="0.6"><stop offset="0" stop-color="#ff2a00"/><stop offset="0.4" stop-color="#ff6a00"/><stop offset="0.75" stop-color="#ffa800"/><stop offset="1" stop-color="#ffe400"/></radialGradient>
<radialGradient id="gO3" cx="0.5" cy="0.6" r="0.65"><stop offset="0" stop-color="#ff5000"/><stop offset="0.6" stop-color="#ff7c00"/><stop offset="0.88" stop-color="#ffb400"/><stop offset="1" stop-color="#ffec00"/></radialGradient>
<radialGradient id="gO2" cx="0.5" cy="0.5" r="0.6"><stop offset="0" stop-color="#ff8000"/><stop offset="0.6" stop-color="#ffa400"/><stop offset="1" stop-color="#ffe600"/></radialGradient>
<radialGradient id="gK" cx="0.5" cy="0.5" r="0.6"><stop offset="0" stop-color="#ffb400"/><stop offset="0.6" stop-color="#ffd000"/><stop offset="1" stop-color="#fff000"/></radialGradient>
<radialGradient id="gT" cx="0.4" cy="0.6" r="0.6"><stop offset="0" stop-color="#ffb000"/><stop offset="0.4" stop-color="#ffe000"/><stop offset="1" stop-color="#fff000"/></radialGradient>
<radialGradient id="gM" cx="0.42" cy="0.5" r="0.6"><stop offset="0" stop-color="#700000"/><stop offset="0.3" stop-color="#e81800"/><stop offset="0.6" stop-color="#ff7800"/><stop offset="0.9" stop-color="#ffc800"/><stop offset="1" stop-color="#ffee00"/></radialGradient>
<radialGradient id="gM2" cx="0.6" cy="0.6" r="0.6"><stop offset="0" stop-color="#e81000"/><stop offset="0.4" stop-color="#ff6800"/><stop offset="0.8" stop-color="#ffb800"/><stop offset="1" stop-color="#fff000"/></radialGradient>
<radialGradient id="gM3" cx="0.5" cy="0.45" r="0.6"><stop offset="0" stop-color="#d80800"/><stop offset="0.45" stop-color="#ff4000"/><stop offset="0.8" stop-color="#ff9000"/><stop offset="1" stop-color="#ffe800"/></radialGradient>
<radialGradient id="gG" cx="0.45" cy="0.45" r="0.6"><stop offset="0" stop-color="#6e6e6e"/><stop offset="1" stop-color="#444444"/></radialGradient>
<radialGradient id="gL" cx="0.5" cy="0.5" r="0.6"><stop offset="0" stop-color="#dcdcdc"/><stop offset="0.7" stop-color="#b4b4b4"/><stop offset="1" stop-color="#8a8a8a"/></radialGradient>
<filter id="grain" x="0" y="0" width="100%" height="100%"><feTurbulence type="fractalNoise" baseFrequency="0.85" numOctaves="2" seed="7" result="n"/><feColorMatrix type="matrix" values="0 0 0 0 1  0 0 0 0 1  0 0 0 0 1  0.55 0 0 0 -0.2"/></filter>
<filter id="blur1" x="-10%" y="-10%" width="120%" height="120%"><feGaussianBlur stdDeviation="0.9"/></filter>
<filter id="blur2" x="-10%" y="-10%" width="120%" height="120%"><feGaussianBlur stdDeviation="1.5"/></filter>
<filter id="blur3" x="-10%" y="-10%" width="120%" height="120%"><feGaussianBlur stdDeviation="2.6"/></filter>
<filter id="blur4" x="-20%" y="-20%" width="140%" height="140%"><feGaussianBlur stdDeviation="7"/></filter>
</defs>
<clipPath id="cp1"><rect x="116.5" y="611.3" width="329.3" height="323.9"/></clipPath>
<g clip-path="url(#cp1)">
<rect x="116.5" y="611.3" width="329.3" height="323.9" fill="#212121" />
<rect x="146.0" y="647.0" width="275.4" height="265.2" fill="#1e1e1e" stroke="#171717" stroke-width="1.4"/>
<circle cx="282.0" cy="772.8" r="170.0" fill="#262626"/>
<circle cx="282.0" cy="772.8" r="150.0" fill="#1f1f1f"/>
<circle cx="282.0" cy="772.8" r="167.5" fill="none" stroke="#3c3c3c" stroke-width="5"/>
<circle cx="282.0" cy="772.8" r="169.5" fill="none" stroke="#686868" stroke-width="1.5"/>
<circle cx="282.0" cy="772.8" r="164.0" fill="none" stroke="#4a4a4a" stroke-width="1.2"/>
<circle cx="282.0" cy="772.8" r="150.0" fill="none" stroke="#666" stroke-width="1.5"/>
<circle cx="282.0" cy="772.8" r="146.5" fill="none" stroke="#484848" stroke-width="1.3"/>
<circle cx="282.0" cy="772.8" r="134.0" fill="none" stroke="#242424" stroke-width="3"/>
<path d="M428.8,857.5A169.5,169.5 0 0 1 376.8,913.3M413.2,845.5A150.0,150.0 0 0 1 363.7,898.6M187.2,913.3A169.5,169.5 0 0 1 135.2,857.5M200.3,898.6A150.0,150.0 0 0 1 150.8,845.5M135.2,688.0A169.5,169.5 0 0 1 187.2,632.3M150.8,700.1A150.0,150.0 0 0 1 200.3,647.0M376.8,632.3A169.5,169.5 0 0 1 428.8,688.0M363.7,647.0A150.0,150.0 0 0 1 413.2,700.1" fill="none" stroke="#fff" stroke-width="3.4" stroke-linecap="round" filter="url(#blur1)" opacity="0.95"/>
<path d="M415.0,873.0A166.5,166.5 0 0 1 391.2,898.5M402.0,856.8A146.5,146.5 0 0 1 374.2,886.7M402.8,877.8A160.0,160.0 0 0 1 395.1,885.9M172.8,898.5A166.5,166.5 0 0 1 149.0,873.0M189.8,886.7A146.5,146.5 0 0 1 162.0,856.8M168.9,885.9A160.0,160.0 0 0 1 161.2,877.8M149.0,672.6A166.5,166.5 0 0 1 172.8,647.1M162.0,688.8A146.5,146.5 0 0 1 189.8,658.9M161.2,667.8A160.0,160.0 0 0 1 168.9,659.7M391.2,647.1A166.5,166.5 0 0 1 415.0,672.6M374.2,658.9A146.5,146.5 0 0 1 402.0,688.8M395.1,659.7A160.0,160.0 0 0 1 402.8,667.8" fill="none" stroke="#fff" stroke-width="2.3" stroke-linecap="round" filter="url(#blur1)" opacity="0.7"/>
<circle cx="322.8" cy="794.9" r="2.6" fill="#0a0a0a" filter="url(#blur1)"/>
<rect x="116.5" y="611.3" width="329.3" height="323.9" fill="#fff" filter="url(#grain)" opacity="0.5"/>
<path d="M187.2,742.6C187.7,738.8 190.5,736.9 192.9,736.9C195.2,736.9 198.8,739.4 201.3,742.6C203.8,745.7 207.1,752.1 207.9,755.7C208.7,759.3 207.7,762.6 206.0,764.1C204.3,765.7 200.2,765.9 197.6,765.1C194.9,764.3 191.8,763.2 190.0,759.5C188.3,755.7 186.8,746.3 187.2,742.6Z" fill="#222" stroke="#222" stroke-width="6" stroke-linejoin="round"/>
<path d="M187.2,742.6C187.7,738.8 190.5,736.9 192.9,736.9C195.2,736.9 198.8,739.4 201.3,742.6C203.8,745.7 207.1,752.1 207.9,755.7C208.7,759.3 207.7,762.6 206.0,764.1C204.3,765.7 200.2,765.9 197.6,765.1C194.9,764.3 191.8,763.2 190.0,759.5C188.3,755.7 186.8,746.3 187.2,742.6Z" fill="url(#gG)"/>
<path d="M239.8,748.2C239.1,744.5 241.8,739.8 244.5,736.9C247.1,734.1 252.9,730.4 255.7,731.3C258.5,732.3 261.0,737.9 261.3,742.6C261.6,747.3 259.8,756.6 257.6,759.5C255.4,762.3 251.2,761.3 248.2,759.5C245.2,757.6 240.4,752.0 239.8,748.2Z" fill="#5a5a5a"/>
<defs><path id="s3" d="M252.9,748.2C253.6,743.2 260.2,732.4 263.2,727.6C266.2,722.7 271.7,715.6 274.5,713.5C277.2,711.4 281.1,711.0 282.9,712.6C284.7,714.1 285.6,723.7 287.6,724.8C289.6,725.8 294.4,720.2 297.0,720.1C299.6,719.9 304.1,720.1 306.4,723.8C308.6,727.5 312.9,741.3 312.9,746.3C312.9,751.3 307.9,755.8 306.4,759.5C304.8,763.1 304.6,769.6 301.7,772.6C298.8,775.6 291.1,779.8 285.7,781.0C280.3,782.3 267.3,782.3 263.2,781.6C259.1,780.9 257.3,778.9 256.6,776.3C256.0,773.8 259.0,767.2 258.5,763.2C258.0,759.3 252.2,753.2 252.9,748.2Z"/><clipPath id="cs3"><use href="#s3"/></clipPath></defs>
<use href="#s3" fill="#4c4c4c" stroke="#4c4c4c" stroke-width="5" stroke-linejoin="round"/>
<g clip-path="url(#cs3)"><use href="#s3" fill="#ff9c00"/><use href="#s3" fill="none" stroke="#ffac00" stroke-width="40" stroke-linejoin="round" filter="url(#blur3)"/><use href="#s3" fill="none" stroke="#ffc000" stroke-width="26" stroke-linejoin="round" filter="url(#blur3)"/><use href="#s3" fill="none" stroke="#ffd600" stroke-width="14" stroke-linejoin="round" filter="url(#blur2)"/><use href="#s3" fill="none" stroke="#ffea00" stroke-width="6.5" stroke-linejoin="round" filter="url(#blur1)"/><use href="#s3" fill="none" stroke="#fff400" stroke-width="2.6" stroke-linejoin="round"/></g>
<defs><path id="s4" d="M373.9,729.4C374.7,723.8 376.9,716.3 379.5,712.6C382.2,708.8 386.7,706.9 389.8,706.9C393.0,706.9 396.3,709.1 398.3,712.6C400.2,716.0 401.0,719.8 401.5,727.6C401.9,735.4 401.2,749.5 401.1,759.5C401.0,769.5 401.9,781.5 401.1,787.6C400.3,793.7 398.9,794.2 396.4,796.0C393.9,797.9 388.4,799.9 386.1,798.5C383.7,797.1 383.3,793.2 382.3,787.6C381.4,782.0 381.7,772.0 380.5,765.1C379.2,758.2 375.9,752.3 374.8,746.3C373.7,740.4 373.1,735.1 373.9,729.4Z"/><clipPath id="cs4"><use href="#s4"/></clipPath></defs>
<use href="#s4" fill="#3a3a3a" stroke="#3a3a3a" stroke-width="5" stroke-linejoin="round"/>
<g clip-path="url(#cs4)"><use href="#s4" fill="#ff9600"/><use href="#s4" fill="none" stroke="#ffa800" stroke-width="22" stroke-linejoin="round" filter="url(#blur3)"/><use href="#s4" fill="none" stroke="#ffc400" stroke-width="12" stroke-linejoin="round" filter="url(#blur2)"/><use href="#s4" fill="none" stroke="#ffe000" stroke-width="5.5" stroke-linejoin="round" filter="url(#blur1)"/><use href="#s4" fill="none" stroke="#fff200" stroke-width="2.2" stroke-linejoin="round"/></g>
<path d="M163.8,862.6C165.7,859.7 176.3,854.2 178.8,849.5C181.3,844.8 177.2,838.3 178.8,834.5C180.4,830.7 184.4,828.1 188.2,827.0C191.9,825.9 197.6,826.1 201.3,827.9C205.1,829.8 207.2,836.5 210.7,838.3C214.1,840.0 219.6,837.0 221.9,838.3C224.3,839.5 226.3,843.9 224.8,845.8C223.2,847.6 214.9,847.3 212.6,849.5C210.2,851.7 212.6,856.4 210.7,858.9C208.8,861.4 206.0,863.6 201.3,864.5C196.6,865.5 188.2,864.0 182.5,864.5C176.9,865.0 170.7,867.6 167.5,867.3C164.4,867.0 161.9,865.6 163.8,862.6Z" fill="url(#gL)"/>
<ellipse cx="193.8" cy="843.3" rx="7.1" ry="4.9" fill="#ffee00"/>
<ellipse cx="205.1" cy="851.4" rx="6.8" ry="5.6" fill="#ffee00"/>
<ellipse cx="194.7" cy="850.4" rx="5.3" ry="2.6" fill="#8a8a6a"/>
<ellipse cx="279.2" cy="840.1" rx="12.9" ry="19.5" fill="#202020"/>
<ellipse cx="279.2" cy="840.1" rx="10.3" ry="16.9" fill="url(#gG)"/>
<ellipse cx="305.4" cy="839.2" rx="13.9" ry="19.5" fill="#202020"/>
<ellipse cx="305.4" cy="839.2" rx="11.3" ry="16.9" fill="url(#gG)"/>
<path d="M355.1,825.1C355.8,821.1 358.9,820.3 362.6,819.5C366.4,818.7 373.3,819.6 377.6,820.4C382.0,821.2 384.2,823.4 388.9,824.2C393.6,825.0 402.5,823.1 405.8,825.1C409.1,827.2 408.8,832.3 408.6,836.4C408.4,840.4 406.3,845.1 404.8,849.5C403.4,853.9 403.1,860.3 400.2,862.6C397.2,865.0 391.1,864.0 387.0,863.6C383.0,863.1 379.8,860.9 375.8,859.8C371.7,858.7 365.5,859.7 362.6,857.0C359.8,854.4 360.1,849.2 358.9,843.9C357.6,838.6 354.5,829.2 355.1,825.1Z" fill="url(#gL)"/>
<text x="184.9" y="696.6" font-size="27.6" font-weight="bold" fill="#fff" textLength="19.9" lengthAdjust="spacingAndGlyphs">H</text>
<text x="276.4" y="696.6" font-size="27.6" font-weight="bold" fill="#fff" textLength="24.5" lengthAdjust="spacingAndGlyphs">Li</text>
<text x="377.4" y="696.6" font-size="27.6" font-weight="bold" fill="#fff" textLength="18.4" lengthAdjust="spacingAndGlyphs">S</text>
<text x="179.2" y="893.0" font-size="27.6" font-weight="bold" fill="#fff" textLength="33.7" lengthAdjust="spacingAndGlyphs">Lu</text>
<text x="283.0" y="893.0" font-size="27.6" font-weight="bold" fill="#fff" textLength="19.9" lengthAdjust="spacingAndGlyphs">K</text>
<text x="374.2" y="893.0" font-size="27.6" font-weight="bold" fill="#fff" textLength="16.9" lengthAdjust="spacingAndGlyphs">T</text>
</g>
<clipPath id="cp2"><rect x="454.1" y="611.3" width="326.9" height="325.1"/></clipPath>
<g clip-path="url(#cp2)">
<rect x="454.1" y="611.3" width="326.9" height="325.1" fill="#212121" />
<rect x="488.2" y="653.1" width="262.4" height="252.7" fill="#1e1e1e" stroke="#171717" stroke-width="1.4"/>
<circle cx="617.8" cy="773.0" r="162.0" fill="#262626"/>
<circle cx="617.8" cy="773.0" r="142.0" fill="#1f1f1f"/>
<circle cx="617.8" cy="773.0" r="159.5" fill="none" stroke="#3c3c3c" stroke-width="5"/>
<circle cx="617.8" cy="773.0" r="161.5" fill="none" stroke="#686868" stroke-width="1.5"/>
<circle cx="617.8" cy="773.0" r="156.0" fill="none" stroke="#4a4a4a" stroke-width="1.2"/>
<circle cx="617.8" cy="773.0" r="142.0" fill="none" stroke="#666" stroke-width="1.5"/>
<circle cx="617.8" cy="773.0" r="138.5" fill="none" stroke="#484848" stroke-width="1.3"/>
<circle cx="617.8" cy="773.0" r="126.0" fill="none" stroke="#242424" stroke-width="3"/>
<path d="M757.7,853.8A161.5,161.5 0 0 1 708.1,906.9M742.0,841.8A142.0,142.0 0 0 1 695.1,892.1M527.5,906.9A161.5,161.5 0 0 1 477.9,853.8M540.5,892.1A142.0,142.0 0 0 1 493.6,841.8M477.9,692.2A161.5,161.5 0 0 1 527.5,639.1M493.6,704.2A142.0,142.0 0 0 1 540.5,653.9M708.1,639.1A161.5,161.5 0 0 1 757.7,692.2M695.1,653.9A142.0,142.0 0 0 1 742.0,704.2" fill="none" stroke="#fff" stroke-width="3.4" stroke-linecap="round" filter="url(#blur1)" opacity="0.95"/>
<path d="M744.4,868.4A158.5,158.5 0 0 1 721.8,892.6M731.3,852.4A138.5,138.5 0 0 1 705.0,880.6M732.5,872.7A152.0,152.0 0 0 1 725.3,880.5M513.8,892.6A158.5,158.5 0 0 1 491.2,868.4M530.6,880.6A138.5,138.5 0 0 1 504.3,852.4M510.3,880.5A152.0,152.0 0 0 1 503.1,872.7M491.2,677.6A158.5,158.5 0 0 1 513.8,653.4M504.3,693.6A138.5,138.5 0 0 1 530.6,665.4M503.1,673.3A152.0,152.0 0 0 1 510.3,665.5M721.8,653.4A158.5,158.5 0 0 1 744.4,677.6M705.0,665.4A138.5,138.5 0 0 1 731.3,693.6M725.3,665.5A152.0,152.0 0 0 1 732.5,673.3" fill="none" stroke="#fff" stroke-width="2.3" stroke-linecap="round" filter="url(#blur1)" opacity="0.7"/>
<circle cx="656.7" cy="794.1" r="2.6" fill="#0a0a0a" filter="url(#blur1)"/>
<rect x="454.1" y="611.3" width="326.9" height="325.1" fill="#fff" filter="url(#grain)" opacity="0.5"/>
<path d="M522.5,731.3C523.0,727.9 524.1,724.0 526.3,721.9C528.5,719.9 532.9,718.2 535.7,719.1C538.5,720.1 542.1,723.7 543.2,727.6C544.3,731.5 543.2,738.8 542.2,742.6C541.3,746.3 539.9,748.8 537.6,750.1C535.2,751.3 530.5,751.3 528.2,750.1C525.8,748.8 524.4,745.7 523.5,742.6C522.5,739.4 522.1,734.8 522.5,731.3Z" fill="#222" stroke="#222" stroke-width="6" stroke-linejoin="round"/>
<path d="M522.5,731.3C523.0,727.9 524.1,724.0 526.3,721.9C528.5,719.9 532.9,718.2 535.7,719.1C538.5,720.1 542.1,723.7 543.2,727.6C544.3,731.5 543.2,738.8 542.2,742.6C541.3,746.3 539.9,748.8 537.6,750.1C535.2,751.3 530.5,751.3 528.2,750.1C525.8,748.8 524.4,745.7 523.5,742.6C522.5,739.4 522.1,734.8 522.5,731.3Z" fill="url(#gG)"/>
<path d="M528.2,736.9C528.0,734.4 530.7,730.4 531.9,728.5C533.2,726.6 534.6,725.2 535.7,725.7C536.8,726.2 537.6,729.4 538.5,731.3C539.4,733.2 541.5,735.1 541.3,736.9C541.1,738.8 539.0,741.5 537.6,742.6C536.1,743.7 534.4,744.5 532.9,743.5C531.3,742.6 528.3,739.4 528.2,736.9Z" fill="#ffee00"/>
<defs><path id="s14" d="M583.5,731.3C584.2,728.2 587.3,723.5 590.1,721.9C592.8,720.4 599.9,721.6 603.2,720.1C606.5,718.5 611.2,712.4 613.5,710.7C615.9,709.0 618.3,708.1 620.1,707.9C621.9,707.6 625.6,706.3 626.7,708.8C627.7,711.3 625.9,723.9 627.6,725.7C629.3,727.5 635.7,721.4 638.9,721.9C642.0,722.5 647.7,727.6 650.1,729.4C652.5,731.3 653.9,733.0 655.7,735.1C657.6,737.2 662.7,742.1 663.2,744.5C663.8,746.8 661.9,749.9 659.5,752.0C657.1,754.1 648.7,757.4 646.4,759.5C644.0,761.6 645.0,765.9 642.6,767.0C640.2,768.0 631.8,766.4 629.5,767.0C627.1,767.5 628.1,769.9 625.7,770.7C623.4,771.5 616.0,773.1 612.6,772.6C609.2,772.1 604.2,769.1 601.3,767.0C598.4,764.9 594.2,760.7 592.0,757.6C589.7,754.4 586.6,748.1 585.4,744.5C584.2,740.8 582.9,734.5 583.5,731.3Z"/><clipPath id="cs14"><use href="#s14"/></clipPath></defs>
<use href="#s14" fill="#333" stroke="#333" stroke-width="5" stroke-linejoin="round"/>
<g clip-path="url(#cs14)"><use href="#s14" fill="#a40808"/><use href="#s14" fill="#5c0404" filter="url(#blur4)" transform="translate(623.4 740.7) scale(0.5) translate(-623.4 -740.7)"/><use href="#s14" fill="none" stroke="#bc0c08" stroke-width="24" stroke-linejoin="round" filter="url(#blur3)"/><use href="#s14" fill="none" stroke="#dc1608" stroke-width="14" stroke-linejoin="round" filter="url(#blur2)"/><use href="#s14" fill="none" stroke="#f83008" stroke-width="7.5" stroke-linejoin="round" filter="url(#blur1)"/><use href="#s14" fill="none" stroke="#ff8000" stroke-width="3.8" stroke-linejoin="round" filter="url(#blur1)"/><use href="#s14" fill="none" stroke="#ffe800" stroke-width="1.7" stroke-linejoin="round"/></g>
<defs><path id="s15" d="M715.8,706.9C713.9,706.9 705.3,712.2 702.6,716.3C700.0,720.4 700.6,726.3 699.8,731.3C699.0,736.3 698.9,741.3 698.0,746.3C697.0,751.3 694.5,756.3 694.2,761.3C693.9,766.3 694.7,772.4 696.1,776.3C697.5,780.3 699.7,782.9 702.6,784.8C705.6,786.7 710.3,787.6 713.9,787.6C717.5,787.6 722.0,787.0 724.2,784.8C726.4,782.6 727.0,778.4 727.0,774.5C727.0,770.6 725.5,766.0 724.2,761.3C723.0,756.6 720.9,751.3 719.5,746.3C718.1,741.3 716.7,736.3 715.8,731.3C714.8,726.3 713.9,720.4 713.9,716.3C713.9,712.2 717.6,706.9 715.8,706.9Z"/><clipPath id="cs15"><use href="#s15"/></clipPath></defs>
<use href="#s15" fill="#333" stroke="#333" stroke-width="5" stroke-linejoin="round"/>
<g clip-path="url(#cs15)"><use href="#s15" fill="#ff9000"/><use href="#s15" fill="#ff7c00" filter="url(#blur4)" transform="translate(710.5 751.8) scale(0.5) translate(-710.5 -751.8)"/><use href="#s15" fill="none" stroke="#ffa600" stroke-width="18" stroke-linejoin="round" filter="url(#blur3)"/><use href="#s15" fill="none" stroke="#ffc000" stroke-width="10" stroke-linejoin="round" filter="url(#blur2)"/><use href="#s15" fill="none" stroke="#ffdc00" stroke-width="5" stroke-linejoin="round" filter="url(#blur1)"/><use href="#s15" fill="none" stroke="#fff000" stroke-width="2.0" stroke-linejoin="round"/></g>
<defs><path id="s16" d="M505.7,834.5C505.7,830.1 506.6,821.5 508.5,817.6C510.3,813.7 513.6,811.7 516.9,811.0C520.2,810.4 524.7,813.1 528.2,813.9C531.6,814.6 534.4,814.8 537.6,815.7C540.7,816.7 545.2,816.4 546.9,819.5C548.7,822.6 547.1,830.6 547.9,834.5C548.7,838.4 552.7,841.1 551.6,842.9C550.5,844.8 544.3,844.7 541.3,845.8C538.3,846.9 535.7,847.3 533.8,849.5C531.9,851.7 532.2,857.2 530.0,858.9C527.9,860.6 523.5,861.1 520.7,859.8C517.9,858.6 515.2,854.0 513.2,851.4C511.1,848.7 509.7,846.7 508.5,843.9C507.2,841.1 505.7,838.9 505.7,834.5Z"/><clipPath id="cs16"><use href="#s16"/></clipPath></defs>
<use href="#s16" fill="#8a8a8a" stroke="#8a8a8a" stroke-width="5" stroke-linejoin="round"/>
<g clip-path="url(#cs16)"><use href="#s16" fill="#f04004"/><use href="#s16" fill="#a00a04" filter="url(#blur4)" transform="translate(527.9 835.6) scale(0.5) translate(-527.9 -835.6)"/><use href="#s16" fill="none" stroke="#ff6404" stroke-width="16" stroke-linejoin="round" filter="url(#blur3)"/><use href="#s16" fill="none" stroke="#ff8e00" stroke-width="9" stroke-linejoin="round" filter="url(#blur2)"/><use href="#s16" fill="none" stroke="#ffb800" stroke-width="4.6" stroke-linejoin="round" filter="url(#blur1)"/><use href="#s16" fill="none" stroke="#ffec00" stroke-width="2.2" stroke-linejoin="round"/></g>
<ellipse cx="594.8" cy="837.3" rx="13.5" ry="20.4" fill="#222"/>
<defs><ellipse id="s17" cx="594.8" cy="837.3" rx="10.9" ry="17.8"/><clipPath id="cs17"><use href="#s17"/></clipPath></defs>
<g clip-path="url(#cs17)"><use href="#s17" fill="#ffc000"/><use href="#s17" fill="none" stroke="#ffd000" stroke-width="10" stroke-linejoin="round" filter="url(#blur2)"/><use href="#s17" fill="none" stroke="#ffe400" stroke-width="5" stroke-linejoin="round" filter="url(#blur1)"/><use href="#s17" fill="none" stroke="#fff200" stroke-width="2.2" stroke-linejoin="round"/></g>
<ellipse cx="627.6" cy="835.4" rx="12.4" ry="19.9" fill="#222"/>
<defs><ellipse id="s18" cx="627.6" cy="835.4" rx="9.8" ry="17.3"/><clipPath id="cs18"><use href="#s18"/></clipPath></defs>
<g clip-path="url(#cs18)"><use href="#s18" fill="#ffc000"/><use href="#s18" fill="none" stroke="#ffd000" stroke-width="10" stroke-linejoin="round" filter="url(#blur2)"/><use href="#s18" fill="none" stroke="#ffe400" stroke-width="5" stroke-linejoin="round" filter="url(#blur1)"/><use href="#s18" fill="none" stroke="#fff200" stroke-width="2.2" stroke-linejoin="round"/></g>
<defs><path id="s19" d="M680.1,830.7C680.3,827.9 681.7,824.9 683.9,823.2C686.1,821.6 689.8,821.3 693.3,821.0C696.7,820.7 701.1,820.4 704.5,821.4C708.0,822.4 711.2,824.2 713.9,827.0C716.6,829.8 719.8,834.5 720.5,838.3C721.1,842.0 719.7,846.5 717.6,849.5C715.6,852.5 711.4,855.3 708.3,856.1C705.1,856.9 702.0,855.6 698.9,854.2C695.8,852.8 692.2,850.0 689.5,847.6C686.9,845.3 684.5,842.9 682.9,840.1C681.4,837.3 680.0,833.6 680.1,830.7Z"/><clipPath id="cs19"><use href="#s19"/></clipPath></defs>
<use href="#s19" fill="#333" stroke="#333" stroke-width="5" stroke-linejoin="round"/>
<g clip-path="url(#cs19)"><use href="#s19" fill="#ff9000"/><use href="#s19" fill="#ff7c00" filter="url(#blur4)" transform="translate(699.4 837.2) scale(0.5) translate(-699.4 -837.2)"/><use href="#s19" fill="none" stroke="#ffa600" stroke-width="18" stroke-linejoin="round" filter="url(#blur3)"/><use href="#s19" fill="none" stroke="#ffc000" stroke-width="10" stroke-linejoin="round" filter="url(#blur2)"/><use href="#s19" fill="none" stroke="#ffdc00" stroke-width="5" stroke-linejoin="round" filter="url(#blur1)"/><use href="#s19" fill="none" stroke="#fff000" stroke-width="2.0" stroke-linejoin="round"/></g>
<ellipse cx="710.1" cy="831.7" rx="7.1" ry="4.9" transform="rotate(35 710.1 831.7)" fill="#f03000"/>
<text x="513.6" y="691.4" font-size="27.6" font-weight="bold" fill="#fff" textLength="19.9" lengthAdjust="spacingAndGlyphs">H</text>
<text x="605.2" y="691.4" font-size="27.6" font-weight="bold" fill="#fff" textLength="24.5" lengthAdjust="spacingAndGlyphs">Li</text>
<text x="706.2" y="691.4" font-size="27.6" font-weight="bold" fill="#fff" textLength="18.4" lengthAdjust="spacingAndGlyphs">S</text>
<text x="507.6" y="888.0" font-size="27.6" font-weight="bold" fill="#fff" textLength="33.7" lengthAdjust="spacingAndGlyphs">Lu</text>
<text x="611.7" y="888.0" font-size="27.6" font-weight="bold" fill="#fff" textLength="19.9" lengthAdjust="spacingAndGlyphs">K</text>
<text x="702.9" y="888.0" font-size="27.6" font-weight="bold" fill="#fff" textLength="16.9" lengthAdjust="spacingAndGlyphs">T</text>
</g>
<clipPath id="cp3"><rect x="789.4" y="606.5" width="329.8" height="330.2"/></clipPath>
<g clip-path="url(#cp3)">
<rect x="789.4" y="606.5" width="329.8" height="330.2" fill="#212121" />
<rect x="824.3" y="649.9" width="264.1" height="254.3" fill="#1e1e1e" stroke="#171717" stroke-width="1.4"/>
<circle cx="954.7" cy="770.5" r="163.0" fill="#262626"/>
<circle cx="954.7" cy="770.5" r="143.0" fill="#1f1f1f"/>
<circle cx="954.7" cy="770.5" r="160.5" fill="none" stroke="#3c3c3c" stroke-width="5"/>
<circle cx="954.7" cy="770.5" r="162.5" fill="none" stroke="#686868" stroke-width="1.5"/>
<circle cx="954.7" cy="770.5" r="157.0" fill="none" stroke="#4a4a4a" stroke-width="1.2"/>
<circle cx="954.7" cy="770.5" r="143.0" fill="none" stroke="#666" stroke-width="1.5"/>
<circle cx="954.7" cy="770.5" r="139.5" fill="none" stroke="#484848" stroke-width="1.3"/>
<circle cx="954.7" cy="770.5" r="127.0" fill="none" stroke="#242424" stroke-width="3"/>
<path d="M1095.4,851.8A162.5,162.5 0 0 1 1045.6,905.2M1079.8,839.8A143.0,143.0 0 0 1 1032.6,890.4M863.8,905.2A162.5,162.5 0 0 1 814.0,851.8M876.8,890.4A143.0,143.0 0 0 1 829.6,839.8M814.0,689.2A162.5,162.5 0 0 1 863.8,635.8M829.6,701.2A143.0,143.0 0 0 1 876.8,650.6M1045.6,635.8A162.5,162.5 0 0 1 1095.4,689.2M1032.6,650.6A143.0,143.0 0 0 1 1079.8,701.2" fill="none" stroke="#fff" stroke-width="3.4" stroke-linecap="round" filter="url(#blur1)" opacity="0.95"/>
<path d="M1082.1,866.5A159.5,159.5 0 0 1 1059.3,890.9M1069.0,850.5A139.5,139.5 0 0 1 1042.5,878.9M1070.2,870.9A153.0,153.0 0 0 1 1062.9,878.7M850.1,890.9A159.5,159.5 0 0 1 827.3,866.5M866.9,878.9A139.5,139.5 0 0 1 840.4,850.5M846.5,878.7A153.0,153.0 0 0 1 839.2,870.9M827.3,674.5A159.5,159.5 0 0 1 850.1,650.1M840.4,690.5A139.5,139.5 0 0 1 866.9,662.1M839.2,670.1A153.0,153.0 0 0 1 846.5,662.3M1059.3,650.1A159.5,159.5 0 0 1 1082.1,674.5M1042.5,662.1A139.5,139.5 0 0 1 1069.0,690.5M1062.9,662.3A153.0,153.0 0 0 1 1070.2,670.1" fill="none" stroke="#fff" stroke-width="2.3" stroke-linecap="round" filter="url(#blur1)" opacity="0.7"/>
<circle cx="993.8" cy="791.7" r="2.6" fill="#0a0a0a" filter="url(#blur1)"/>
<rect x="789.4" y="606.5" width="329.8" height="330.2" fill="#fff" filter="url(#grain)" opacity="0.5"/>
<ellipse cx="863.5" cy="743.5" rx="11.0" ry="14.2" fill="#222"/>
<defs><ellipse id="s21" cx="863.5" cy="743.5" rx="8.4" ry="11.6"/><clipPath id="cs21"><use href="#s21"/></clipPath></defs>
<g clip-path="url(#cs21)"><use href="#s21" fill="#ffc000"/><use href="#s21" fill="none" stroke="#ffd000" stroke-width="10" stroke-linejoin="round" filter="url(#blur2)"/><use href="#s21" fill="none" stroke="#ffe400" stroke-width="5" stroke-linejoin="round" filter="url(#blur1)"/><use href="#s21" fill="none" stroke="#fff200" stroke-width="2.2" stroke-linejoin="round"/></g>
<defs><path id="s22" d="M916.0,736.3C916.3,733.2 917.7,724.5 919.8,719.4C921.9,714.4 926.3,706.3 930.1,702.6C933.9,698.8 941.4,695.3 945.1,694.5C948.7,693.6 952.2,695.2 954.5,696.9C956.7,698.7 957.8,704.8 960.1,706.3C962.3,707.9 966.7,705.6 969.5,707.2C972.3,708.9 976.6,714.3 978.9,717.6C981.1,720.8 983.4,725.4 984.5,728.8C985.6,732.2 986.5,735.6 986.4,740.1C986.2,744.6 984.7,753.2 983.5,758.8C982.4,764.5 981.2,774.9 978.9,777.6C976.5,780.3 971.0,777.4 967.6,776.7C964.2,776.0 959.7,773.5 956.3,772.9C953.0,772.3 947.9,772.3 945.1,772.9C942.3,773.5 940.4,776.9 937.6,776.7C934.8,776.4 929.1,773.7 926.3,771.0C923.5,768.4 919.1,762.6 918.8,758.8C918.5,755.0 924.6,748.5 924.5,745.7C924.3,742.9 919.2,741.5 917.9,740.1C916.6,738.7 915.7,739.4 916.0,736.3Z"/><clipPath id="cs22"><use href="#s22"/></clipPath></defs>
<use href="#s22" fill="#333" stroke="#333" stroke-width="5" stroke-linejoin="round"/>
<g clip-path="url(#cs22)"><use href="#s22" fill="#900808"/><use href="#s22" fill="#520404" filter="url(#blur4)" transform="translate(950.1 740.1) scale(0.5) translate(-950.1 -740.1)"/><use href="#s22" fill="none" stroke="#a40a08" stroke-width="22" stroke-linejoin="round" filter="url(#blur3)"/><use href="#s22" fill="none" stroke="#c00e08" stroke-width="13" stroke-linejoin="round" filter="url(#blur2)"/><use href="#s22" fill="none" stroke="#e82408" stroke-width="7.5" stroke-linejoin="round" filter="url(#blur1)"/><use href="#s22" fill="none" stroke="#ff7a00" stroke-width="3.8" stroke-linejoin="round" filter="url(#blur1)"/><use href="#s22" fill="none" stroke="#ffe800" stroke-width="1.7" stroke-linejoin="round"/></g>
<defs><path id="s23" d="M1049.2,691.3C1053.0,690.7 1057.5,691.9 1059.5,695.1C1061.6,698.2 1060.9,704.4 1061.4,710.1C1061.9,715.7 1061.4,722.3 1062.3,728.8C1063.3,735.4 1065.5,742.6 1067.0,749.5C1068.6,756.3 1069.8,765.1 1071.7,770.1C1073.6,775.1 1078.1,777.4 1078.3,779.5C1078.4,781.5 1076.1,782.9 1072.7,782.3C1069.2,781.7 1062.0,779.0 1057.6,775.7C1053.3,772.4 1049.8,767.9 1046.4,762.6C1043.0,757.3 1039.8,750.1 1037.0,743.8C1034.2,737.6 1030.8,730.4 1029.5,725.1C1028.3,719.8 1028.3,716.3 1029.5,711.9C1030.8,707.6 1033.7,702.2 1037.0,698.8C1040.3,695.4 1045.5,691.9 1049.2,691.3Z"/><clipPath id="cs23"><use href="#s23"/></clipPath></defs>
<use href="#s23" fill="#333" stroke="#333" stroke-width="5" stroke-linejoin="round"/>
<g clip-path="url(#cs23)"><use href="#s23" fill="#f40e06"/><use href="#s23" fill="none" stroke="#fc2006" stroke-width="16" stroke-linejoin="round" filter="url(#blur3)"/><use href="#s23" fill="none" stroke="#ff4c06" stroke-width="8" stroke-linejoin="round" filter="url(#blur2)"/><use href="#s23" fill="none" stroke="#ff9000" stroke-width="4.2" stroke-linejoin="round" filter="url(#blur1)"/><use href="#s23" fill="none" stroke="#ffe000" stroke-width="1.9" stroke-linejoin="round"/></g>
<defs><path id="s24" d="M844.7,824.5C845.8,822.5 852.1,828.4 855.0,827.3C858.0,826.2 859.7,820.1 862.5,817.9C865.4,815.7 868.8,814.2 871.9,814.2C875.1,814.2 877.9,816.8 881.3,817.9C884.7,819.0 889.4,818.4 892.6,820.7C895.7,823.1 899.4,828.3 900.1,832.0C900.7,835.8 898.5,840.6 896.3,843.3C894.1,845.9 890.4,847.5 886.9,848.0C883.5,848.4 878.8,845.3 875.7,846.1C872.5,846.9 870.7,850.8 868.2,852.6C865.7,854.5 863.2,857.3 860.7,857.3C858.2,857.3 855.2,855.6 853.2,852.6C851.1,849.7 849.9,844.2 848.5,839.5C847.1,834.8 843.6,826.5 844.7,824.5Z"/><clipPath id="cs24"><use href="#s24"/></clipPath></defs>
<use href="#s24" fill="#8a8a8a" stroke="#8a8a8a" stroke-width="5" stroke-linejoin="round"/>
<g clip-path="url(#cs24)"><use href="#s24" fill="#f43a04"/><use href="#s24" fill="#e01c04" filter="url(#blur4)" transform="translate(871.3 835.3) scale(0.5) translate(-871.3 -835.3)"/><use href="#s24" fill="none" stroke="#ff6404" stroke-width="15" stroke-linejoin="round" filter="url(#blur3)"/><use href="#s24" fill="none" stroke="#ff9600" stroke-width="8" stroke-linejoin="round" filter="url(#blur2)"/><use href="#s24" fill="none" stroke="#ffc600" stroke-width="4.2" stroke-linejoin="round" filter="url(#blur1)"/><use href="#s24" fill="none" stroke="#fff000" stroke-width="2.0" stroke-linejoin="round"/></g>
<ellipse cx="868.2" cy="830.1" rx="10.3" ry="4.1" transform="rotate(20 868.2 830.1)" fill="#c81000"/>
<ellipse cx="885.1" cy="833.9" rx="7.5" ry="4.1" transform="rotate(-20 885.1 833.9)" fill="#d81800"/>
<ellipse cx="937.6" cy="834.8" rx="12.0" ry="18.5" fill="#222"/>
<defs><ellipse id="s27" cx="937.6" cy="834.8" rx="9.4" ry="15.9"/><clipPath id="cs27"><use href="#s27"/></clipPath></defs>
<g clip-path="url(#cs27)"><use href="#s27" fill="#ffc000"/><use href="#s27" fill="none" stroke="#ffd000" stroke-width="10" stroke-linejoin="round" filter="url(#blur2)"/><use href="#s27" fill="none" stroke="#ffe400" stroke-width="5" stroke-linejoin="round" filter="url(#blur1)"/><use href="#s27" fill="none" stroke="#fff200" stroke-width="2.2" stroke-linejoin="round"/></g>
<ellipse cx="969.5" cy="837.6" rx="12.0" ry="18.0" fill="#222" transform="rotate(12 969.5 837.6)"/>
<defs><ellipse id="s28" cx="969.5" cy="837.6" rx="9.4" ry="15.4" transform="rotate(12 969.5 837.6)"/><clipPath id="cs28"><use href="#s28"/></clipPath></defs>
<g clip-path="url(#cs28)"><use href="#s28" fill="#ffc000"/><use href="#s28" fill="none" stroke="#ffd000" stroke-width="10" stroke-linejoin="round" filter="url(#blur2)"/><use href="#s28" fill="none" stroke="#ffe400" stroke-width="5" stroke-linejoin="round" filter="url(#blur1)"/><use href="#s28" fill="none" stroke="#fff200" stroke-width="2.2" stroke-linejoin="round"/></g>
<defs><path id="s29" d="M1019.2,843.3C1019.2,837.9 1021.5,832.5 1023.9,828.3C1026.2,824.0 1029.5,819.8 1033.3,817.9C1037.0,816.1 1042.3,815.9 1046.4,817.0C1050.5,818.1 1054.9,821.1 1057.6,824.5C1060.4,827.9 1062.6,832.9 1062.9,837.6C1063.2,842.3 1061.7,848.3 1059.5,852.6C1057.4,857.0 1053.9,861.5 1050.1,863.9C1046.4,866.3 1041.4,867.9 1037.0,867.3C1032.6,866.6 1026.9,864.1 1023.9,860.1C1020.9,856.1 1019.2,848.6 1019.2,843.3Z"/><clipPath id="cs29"><use href="#s29"/></clipPath></defs>
<use href="#s29" fill="#333" stroke="#333" stroke-width="5" stroke-linejoin="round"/>
<g clip-path="url(#cs29)"><use href="#s29" fill="#ffc800"/><use href="#s29" fill="#ffa800" filter="url(#blur4)" transform="translate(1041.4 841.3) scale(0.5) translate(-1041.4 -841.3)"/><use href="#s29" fill="none" stroke="#ffd800" stroke-width="18" stroke-linejoin="round" filter="url(#blur3)"/><use href="#s29" fill="none" stroke="#ffe800" stroke-width="9" stroke-linejoin="round" filter="url(#blur2)"/><use href="#s29" fill="none" stroke="#fff200" stroke-width="2.6" stroke-linejoin="round"/></g>
<ellipse cx="1038.9" cy="837.6" rx="3.8" ry="3.0" transform="rotate(30 1038.9 837.6)" fill="#aaa"/>
<text x="851.4" y="680.4" font-size="27.6" font-weight="bold" fill="#fff" textLength="19.9" lengthAdjust="spacingAndGlyphs">H</text>
<text x="943.2" y="680.4" font-size="27.6" font-weight="bold" fill="#fff" textLength="24.5" lengthAdjust="spacingAndGlyphs">Li</text>
<text x="1044.2" y="680.4" font-size="27.6" font-weight="bold" fill="#fff" textLength="18.4" lengthAdjust="spacingAndGlyphs">S</text>
<text x="849.9" y="892.0" font-size="27.6" font-weight="bold" fill="#fff" textLength="33.7" lengthAdjust="spacingAndGlyphs">Lu</text>
<text x="953.6" y="892.0" font-size="27.6" font-weight="bold" fill="#fff" textLength="19.9" lengthAdjust="spacingAndGlyphs">K</text>
<text x="1045.7" y="892.0" font-size="27.6" font-weight="bold" fill="#fff" textLength="16.9" lengthAdjust="spacingAndGlyphs">T</text>
</g>
<clipPath id="cp4"><rect x="1126.0" y="606.5" width="332.6" height="329.3"/></clipPath>
<g clip-path="url(#cp4)">
<rect x="1126.0" y="606.5" width="332.6" height="329.3" fill="#212121" />
<rect x="1160.7" y="646.5" width="266.5" height="256.6" fill="#1e1e1e" stroke="#171717" stroke-width="1.4"/>
<circle cx="1292.3" cy="768.2" r="164.5" fill="#262626"/>
<circle cx="1292.3" cy="768.2" r="144.5" fill="#1f1f1f"/>
<circle cx="1292.3" cy="768.2" r="162.0" fill="none" stroke="#3c3c3c" stroke-width="5"/>
<circle cx="1292.3" cy="768.2" r="164.0" fill="none" stroke="#686868" stroke-width="1.5"/>
<circle cx="1292.3" cy="768.2" r="158.5" fill="none" stroke="#4a4a4a" stroke-width="1.2"/>
<circle cx="1292.3" cy="768.2" r="144.5" fill="none" stroke="#666" stroke-width="1.5"/>
<circle cx="1292.3" cy="768.2" r="141.0" fill="none" stroke="#484848" stroke-width="1.3"/>
<circle cx="1292.3" cy="768.2" r="128.5" fill="none" stroke="#242424" stroke-width="3"/>
<path d="M1434.3,850.2A164.0,164.0 0 0 1 1384.0,904.2M1418.7,838.3A144.5,144.5 0 0 1 1371.0,889.4M1200.6,904.2A164.0,164.0 0 0 1 1150.3,850.2M1213.6,889.4A144.5,144.5 0 0 1 1165.9,838.3M1150.3,686.2A164.0,164.0 0 0 1 1200.6,632.2M1165.9,698.1A144.5,144.5 0 0 1 1213.6,647.0M1384.0,632.2A164.0,164.0 0 0 1 1434.3,686.2M1371.0,647.0A144.5,144.5 0 0 1 1418.7,698.1" fill="none" stroke="#fff" stroke-width="3.4" stroke-linecap="round" filter="url(#blur1)" opacity="0.95"/>
<path d="M1420.9,865.1A161.0,161.0 0 0 1 1397.9,889.7M1407.8,849.1A141.0,141.0 0 0 1 1381.0,877.8M1408.9,869.6A154.5,154.5 0 0 1 1401.5,877.4M1186.7,889.7A161.0,161.0 0 0 1 1163.7,865.1M1203.6,877.8A141.0,141.0 0 0 1 1176.8,849.1M1183.1,877.4A154.5,154.5 0 0 1 1175.7,869.6M1163.7,671.3A161.0,161.0 0 0 1 1186.7,646.7M1176.8,687.3A141.0,141.0 0 0 1 1203.6,658.6M1175.7,666.8A154.5,154.5 0 0 1 1183.1,659.0M1397.9,646.7A161.0,161.0 0 0 1 1420.9,671.3M1381.0,658.6A141.0,141.0 0 0 1 1407.8,687.3M1401.5,659.0A154.5,154.5 0 0 1 1408.9,666.8" fill="none" stroke="#fff" stroke-width="2.3" stroke-linecap="round" filter="url(#blur1)" opacity="0.7"/>
<circle cx="1331.8" cy="789.6" r="2.6" fill="#0a0a0a" filter="url(#blur1)"/>
<rect x="1126.0" y="606.5" width="332.6" height="329.3" fill="#fff" filter="url(#grain)" opacity="0.5"/>
<path d="M1187.9,721.3C1188.2,717.4 1190.2,716.0 1192.5,714.8C1194.9,713.5 1199.6,712.4 1201.9,713.8C1204.3,715.2 1206.1,719.4 1206.6,723.2C1207.1,726.9 1206.1,733.5 1204.7,736.3C1203.3,739.1 1200.5,739.8 1198.2,740.1C1195.8,740.4 1192.4,741.3 1190.7,738.2C1188.9,735.1 1187.5,725.2 1187.9,721.3Z" fill="#222" stroke="#222" stroke-width="6" stroke-linejoin="round"/>
<path d="M1187.9,721.3C1188.2,717.4 1190.2,716.0 1192.5,714.8C1194.9,713.5 1199.6,712.4 1201.9,713.8C1204.3,715.2 1206.1,719.4 1206.6,723.2C1207.1,726.9 1206.1,733.5 1204.7,736.3C1203.3,739.1 1200.5,739.8 1198.2,740.1C1195.8,740.4 1192.4,741.3 1190.7,738.2C1188.9,735.1 1187.5,725.2 1187.9,721.3Z" fill="url(#gG)"/>
<ellipse cx="1200.0" cy="731.1" rx="4.1" ry="3.4" fill="#ffee00"/>
<defs><path id="s33" d="M1266.6,689.4C1269.3,685.2 1274.8,682.8 1278.8,681.9C1282.9,681.0 1291.5,681.8 1295.7,682.9C1299.9,683.9 1306.0,686.7 1308.9,689.4C1311.7,692.2 1314.8,699.4 1316.4,702.6C1317.9,705.7 1318.4,710.9 1320.1,711.9C1321.8,713.0 1326.5,708.8 1328.6,710.1C1330.7,711.4 1335.1,718.7 1335.1,721.3C1335.1,723.9 1330.4,725.9 1328.6,728.8C1326.7,731.7 1324.7,739.7 1322.0,742.0C1319.2,744.2 1313.3,744.5 1308.9,744.8C1304.4,745.0 1294.3,742.1 1290.1,743.8C1285.9,745.5 1281.1,754.9 1278.8,757.0C1276.6,759.1 1275.5,760.2 1274.2,758.8C1272.8,757.5 1271.0,751.8 1269.5,747.6C1267.9,743.4 1264.2,733.8 1262.9,728.8C1261.6,723.8 1259.6,717.5 1260.1,711.9C1260.6,706.4 1264.0,693.6 1266.6,689.4Z"/><clipPath id="cs33"><use href="#s33"/></clipPath></defs>
<use href="#s33" fill="#333" stroke="#333" stroke-width="5" stroke-linejoin="round"/>
<g clip-path="url(#cs33)"><use href="#s33" fill="#900808"/><use href="#s33" fill="#520404" filter="url(#blur4)" transform="translate(1296.8 720.8) scale(0.5) translate(-1296.8 -720.8)"/><use href="#s33" fill="none" stroke="#a40a08" stroke-width="22" stroke-linejoin="round" filter="url(#blur3)"/><use href="#s33" fill="none" stroke="#c00e08" stroke-width="13" stroke-linejoin="round" filter="url(#blur2)"/><use href="#s33" fill="none" stroke="#e82408" stroke-width="7.5" stroke-linejoin="round" filter="url(#blur1)"/><use href="#s33" fill="none" stroke="#ff7a00" stroke-width="3.8" stroke-linejoin="round" filter="url(#blur1)"/><use href="#s33" fill="none" stroke="#ffe800" stroke-width="1.7" stroke-linejoin="round"/></g>
<defs><path id="s34" d="M1389.5,684.7C1387.6,682.4 1379.5,684.3 1376.4,686.6C1373.3,689.0 1371.4,693.6 1370.8,698.8C1370.1,704.0 1372.8,711.3 1372.6,717.6C1372.5,723.8 1370.8,730.4 1369.8,736.3C1368.9,742.3 1367.0,748.5 1367.0,753.2C1367.0,757.9 1367.6,761.3 1369.8,764.5C1372.0,767.6 1376.2,770.6 1380.1,772.0C1384.1,773.4 1390.0,774.5 1393.3,772.9C1396.6,771.3 1399.2,767.4 1399.8,762.6C1400.5,757.7 1398.3,750.7 1397.0,743.8C1395.8,737.0 1393.9,728.5 1392.3,721.3C1390.8,714.1 1388.1,706.8 1387.6,700.7C1387.2,694.6 1391.4,687.1 1389.5,684.7Z"/><clipPath id="cs34"><use href="#s34"/></clipPath></defs>
<use href="#s34" fill="#333" stroke="#333" stroke-width="5" stroke-linejoin="round"/>
<g clip-path="url(#cs34)"><use href="#s34" fill="#fc3006"/><use href="#s34" fill="#f81c04" filter="url(#blur4)" transform="translate(1382.0 731.9) scale(0.5) translate(-1382.0 -731.9)"/><use href="#s34" fill="none" stroke="#ff5006" stroke-width="20" stroke-linejoin="round" filter="url(#blur3)"/><use href="#s34" fill="none" stroke="#ff7600" stroke-width="11" stroke-linejoin="round" filter="url(#blur2)"/><use href="#s34" fill="none" stroke="#ffa400" stroke-width="5" stroke-linejoin="round" filter="url(#blur1)"/><use href="#s34" fill="none" stroke="#ffe600" stroke-width="2.0" stroke-linejoin="round"/></g>
<defs><path id="s35" d="M1177.5,805.7C1177.4,802.9 1179.3,802.9 1181.3,802.9C1183.3,802.9 1189.5,803.9 1192.5,805.7C1195.5,807.6 1201.2,817.5 1203.8,817.0C1206.4,816.5 1210.1,804.1 1212.2,802.0C1214.4,799.9 1218.4,799.3 1219.7,801.0C1221.1,802.8 1222.3,811.2 1222.6,815.1C1222.8,819.0 1222.6,827.4 1221.6,830.1C1220.6,832.9 1217.4,834.6 1215.1,835.8C1212.7,836.9 1207.3,838.6 1203.8,838.6C1200.3,838.6 1191.7,837.6 1188.8,835.8C1185.9,833.9 1183.7,828.5 1182.2,824.5C1180.7,820.5 1177.7,808.6 1177.5,805.7Z"/><clipPath id="cs35"><use href="#s35"/></clipPath></defs>
<use href="#s35" fill="#8a8a8a" stroke="#8a8a8a" stroke-width="5" stroke-linejoin="round"/>
<g clip-path="url(#cs35)"><use href="#s35" fill="#f43a04"/><use href="#s35" fill="#e01c04" filter="url(#blur4)" transform="translate(1201.8 817.9) scale(0.5) translate(-1201.8 -817.9)"/><use href="#s35" fill="none" stroke="#ff6404" stroke-width="15" stroke-linejoin="round" filter="url(#blur3)"/><use href="#s35" fill="none" stroke="#ff9600" stroke-width="8" stroke-linejoin="round" filter="url(#blur2)"/><use href="#s35" fill="none" stroke="#ffc600" stroke-width="4.2" stroke-linejoin="round" filter="url(#blur1)"/><use href="#s35" fill="none" stroke="#fff000" stroke-width="2.0" stroke-linejoin="round"/></g>
<ellipse cx="1276.6" cy="821.7" rx="11.0" ry="15.7" fill="#5a5a5a" transform="rotate(-12 1276.6 821.7)"/>
<ellipse cx="1276.6" cy="821.7" rx="8.4" ry="13.1" transform="rotate(-12 1276.6 821.7)" fill="#ffee00"/>
<ellipse cx="1305.1" cy="820.7" rx="11.6" ry="14.8" fill="#5a5a5a"/>
<ellipse cx="1305.1" cy="820.7" rx="9.0" ry="12.2" fill="#ffe800"/>
<defs><path id="s38" d="M1357.6,833.9C1357.2,829.5 1358.9,823.1 1360.4,818.9C1362.0,814.7 1363.7,810.7 1367.0,808.6C1370.3,806.4 1375.8,805.6 1380.1,805.7C1384.5,805.9 1390.0,807.5 1393.3,809.5C1396.6,811.5 1399.2,813.9 1399.8,817.9C1400.5,822.0 1398.4,829.0 1397.0,833.9C1395.6,838.7 1394.8,844.2 1391.4,847.0C1388.0,849.8 1381.1,851.1 1376.4,850.8C1371.7,850.5 1366.4,847.9 1363.3,845.1C1360.1,842.3 1358.1,838.3 1357.6,833.9Z"/><clipPath id="cs38"><use href="#s38"/></clipPath></defs>
<use href="#s38" fill="#666" stroke="#666" stroke-width="5" stroke-linejoin="round"/>
<g clip-path="url(#cs38)"><use href="#s38" fill="#fc3006"/><use href="#s38" fill="#f81c04" filter="url(#blur4)" transform="translate(1378.6 827.1) scale(0.5) translate(-1378.6 -827.1)"/><use href="#s38" fill="none" stroke="#ff5006" stroke-width="20" stroke-linejoin="round" filter="url(#blur3)"/><use href="#s38" fill="none" stroke="#ff7600" stroke-width="11" stroke-linejoin="round" filter="url(#blur2)"/><use href="#s38" fill="none" stroke="#ffa400" stroke-width="5" stroke-linejoin="round" filter="url(#blur1)"/><use href="#s38" fill="none" stroke="#ffe600" stroke-width="2.0" stroke-linejoin="round"/></g>
<text x="1182.9" y="676.7" font-size="27.6" font-weight="bold" fill="#fff" textLength="19.9" lengthAdjust="spacingAndGlyphs">H</text>
<text x="1273.7" y="676.7" font-size="27.6" font-weight="bold" fill="#fff" textLength="24.5" lengthAdjust="spacingAndGlyphs">Li</text>
<text x="1374.7" y="676.7" font-size="27.6" font-weight="bold" fill="#fff" textLength="18.4" lengthAdjust="spacingAndGlyphs">S</text>
<text x="1181.0" y="884.5" font-size="27.6" font-weight="bold" fill="#fff" textLength="33.7" lengthAdjust="spacingAndGlyphs">Lu</text>
<text x="1284.5" y="884.5" font-size="27.6" font-weight="bold" fill="#fff" textLength="19.9" lengthAdjust="spacingAndGlyphs">K</text>
<text x="1376.1" y="884.5" font-size="27.6" font-weight="bold" fill="#fff" textLength="16.9" lengthAdjust="spacingAndGlyphs">T</text>
</g>
<clipPath id="cp5"><rect x="1465.3" y="606.5" width="329.7" height="330.5"/></clipPath>
<g clip-path="url(#cp5)">
<rect x="1465.3" y="606.5" width="329.7" height="330.5" fill="#212121" />
<rect x="1500.2" y="648.9" width="264.1" height="254.3" fill="#1e1e1e" stroke="#171717" stroke-width="1.4"/>
<circle cx="1630.6" cy="769.5" r="163.0" fill="#262626"/>
<circle cx="1630.6" cy="769.5" r="143.0" fill="#1f1f1f"/>
<circle cx="1630.6" cy="769.5" r="160.5" fill="none" stroke="#3c3c3c" stroke-width="5"/>
<circle cx="1630.6" cy="769.5" r="162.5" fill="none" stroke="#686868" stroke-width="1.5"/>
<circle cx="1630.6" cy="769.5" r="157.0" fill="none" stroke="#4a4a4a" stroke-width="1.2"/>
<circle cx="1630.6" cy="769.5" r="143.0" fill="none" stroke="#666" stroke-width="1.5"/>
<circle cx="1630.6" cy="769.5" r="139.5" fill="none" stroke="#484848" stroke-width="1.3"/>
<circle cx="1630.6" cy="769.5" r="127.0" fill="none" stroke="#242424" stroke-width="3"/>
<path d="M1771.3,850.8A162.5,162.5 0 0 1 1721.5,904.2M1755.7,838.8A143.0,143.0 0 0 1 1708.5,889.4M1539.7,904.2A162.5,162.5 0 0 1 1489.9,850.8M1552.7,889.4A143.0,143.0 0 0 1 1505.5,838.8M1489.9,688.2A162.5,162.5 0 0 1 1539.7,634.8M1505.5,700.2A143.0,143.0 0 0 1 1552.7,649.6M1721.5,634.8A162.5,162.5 0 0 1 1771.3,688.2M1708.5,649.6A143.0,143.0 0 0 1 1755.7,700.2" fill="none" stroke="#fff" stroke-width="3.4" stroke-linecap="round" filter="url(#blur1)" opacity="0.95"/>
<path d="M1758.0,865.5A159.5,159.5 0 0 1 1735.2,889.9M1744.9,849.5A139.5,139.5 0 0 1 1718.4,877.9M1746.1,869.9A153.0,153.0 0 0 1 1738.8,877.7M1526.0,889.9A159.5,159.5 0 0 1 1503.2,865.5M1542.8,877.9A139.5,139.5 0 0 1 1516.3,849.5M1522.4,877.7A153.0,153.0 0 0 1 1515.1,869.9M1503.2,673.5A159.5,159.5 0 0 1 1526.0,649.1M1516.3,689.5A139.5,139.5 0 0 1 1542.8,661.1M1515.1,669.1A153.0,153.0 0 0 1 1522.4,661.3M1735.2,649.1A159.5,159.5 0 0 1 1758.0,673.5M1718.4,661.1A139.5,139.5 0 0 1 1744.9,689.5M1738.8,661.3A153.0,153.0 0 0 1 1746.1,669.1" fill="none" stroke="#fff" stroke-width="2.3" stroke-linecap="round" filter="url(#blur1)" opacity="0.7"/>
<circle cx="1669.7" cy="790.7" r="2.6" fill="#0a0a0a" filter="url(#blur1)"/>
<rect x="1465.3" y="606.5" width="329.7" height="330.5" fill="#fff" filter="url(#grain)" opacity="0.5"/>
<path d="M1530.0,732.6C1530.0,728.4 1532.5,721.5 1533.8,717.6C1535.1,713.7 1535.7,709.8 1537.6,709.1C1539.4,708.5 1542.7,711.5 1545.1,713.8C1547.4,716.2 1550.7,719.8 1551.6,723.2C1552.6,726.6 1552.1,731.3 1550.7,734.5C1549.3,737.6 1546.0,740.5 1543.2,742.0C1540.4,743.4 1536.0,744.5 1533.8,742.9C1531.6,741.3 1530.0,736.8 1530.0,732.6Z" fill="#222" stroke="#222" stroke-width="6" stroke-linejoin="round"/>
<path d="M1530.0,732.6C1530.0,728.4 1532.5,721.5 1533.8,717.6C1535.1,713.7 1535.7,709.8 1537.6,709.1C1539.4,708.5 1542.7,711.5 1545.1,713.8C1547.4,716.2 1550.7,719.8 1551.6,723.2C1552.6,726.6 1552.1,731.3 1550.7,734.5C1549.3,737.6 1546.0,740.5 1543.2,742.0C1540.4,743.4 1536.0,744.5 1533.8,742.9C1531.6,741.3 1530.0,736.8 1530.0,732.6Z" fill="url(#gG)"/>
<defs><path id="s40" d="M1587.3,728.8C1586.8,725.1 1594.1,714.6 1595.7,710.1C1597.3,705.6 1597.5,698.2 1599.5,695.1C1601.5,691.9 1607.0,688.0 1610.7,686.6C1614.5,685.2 1623.3,684.6 1627.6,684.7C1631.9,684.9 1639.4,687.2 1642.6,687.6C1645.9,687.9 1650.5,686.8 1652.0,687.6C1653.5,688.3 1651.7,692.7 1653.9,693.2C1656.0,693.7 1665.4,690.3 1667.9,691.3C1670.4,692.3 1671.1,698.2 1672.6,700.7C1674.1,703.2 1678.9,707.3 1679.2,710.1C1679.4,712.8 1674.8,717.6 1674.5,721.3C1674.2,725.1 1677.8,734.7 1677.3,738.2C1676.8,741.7 1673.1,745.3 1670.7,747.6C1668.4,749.8 1662.0,752.6 1659.5,755.1C1657.0,757.6 1655.1,763.3 1652.0,766.3C1648.9,769.3 1638.5,777.6 1636.0,777.6C1633.5,777.6 1634.2,769.1 1633.2,766.3C1632.2,763.6 1631.8,759.7 1628.5,757.0C1625.3,754.2 1612.7,748.2 1608.8,745.7C1605.0,743.2 1602.3,740.5 1599.5,738.2C1596.6,736.0 1587.8,732.6 1587.3,728.8Z"/><clipPath id="cs40"><use href="#s40"/></clipPath></defs>
<use href="#s40" fill="#333" stroke="#333" stroke-width="5" stroke-linejoin="round"/>
<g clip-path="url(#cs40)"><use href="#s40" fill="#900808"/><use href="#s40" fill="#520404" filter="url(#blur4)" transform="translate(1639.5 723.3) scale(0.5) translate(-1639.5 -723.3)"/><use href="#s40" fill="none" stroke="#a40a08" stroke-width="22" stroke-linejoin="round" filter="url(#blur3)"/><use href="#s40" fill="none" stroke="#c00e08" stroke-width="13" stroke-linejoin="round" filter="url(#blur2)"/><use href="#s40" fill="none" stroke="#e82408" stroke-width="7.5" stroke-linejoin="round" filter="url(#blur1)"/><use href="#s40" fill="none" stroke="#ff7a00" stroke-width="3.8" stroke-linejoin="round" filter="url(#blur1)"/><use href="#s40" fill="none" stroke="#ffe800" stroke-width="1.7" stroke-linejoin="round"/></g>
<defs><path id="s41" d="M1710.1,702.6C1711.6,698.7 1714.8,696.3 1717.6,694.1C1720.5,691.9 1724.4,689.7 1727.0,689.4C1729.7,689.1 1732.2,688.8 1733.6,692.2C1735.0,695.7 1734.7,703.3 1735.5,710.1C1736.3,716.8 1737.2,725.7 1738.3,732.6C1739.4,739.5 1741.1,745.7 1742.0,751.3C1743.0,757.0 1744.5,762.0 1743.9,766.3C1743.3,770.7 1741.1,775.4 1738.3,777.6C1735.5,779.8 1730.8,780.3 1727.0,779.5C1723.3,778.7 1718.6,776.3 1715.8,772.9C1713.0,769.5 1711.2,764.9 1710.1,758.8C1709.0,752.7 1709.4,743.2 1709.2,736.3C1709.0,729.4 1709.0,723.2 1709.2,717.6C1709.4,711.9 1708.7,706.5 1710.1,702.6Z"/><clipPath id="cs41"><use href="#s41"/></clipPath></defs>
<use href="#s41" fill="#333" stroke="#333" stroke-width="5" stroke-linejoin="round"/>
<g clip-path="url(#cs41)"><use href="#s41" fill="#ff9000"/><use href="#s41" fill="#ff7c00" filter="url(#blur4)" transform="translate(1725.6 734.4) scale(0.5) translate(-1725.6 -734.4)"/><use href="#s41" fill="none" stroke="#ffa600" stroke-width="18" stroke-linejoin="round" filter="url(#blur3)"/><use href="#s41" fill="none" stroke="#ffc000" stroke-width="10" stroke-linejoin="round" filter="url(#blur2)"/><use href="#s41" fill="none" stroke="#ffdc00" stroke-width="5" stroke-linejoin="round" filter="url(#blur1)"/><use href="#s41" fill="none" stroke="#fff000" stroke-width="2.0" stroke-linejoin="round"/></g>
<path d="M1527.2,833.9C1527.7,829.5 1529.6,822.9 1531.9,818.9C1534.3,814.8 1537.9,810.7 1541.3,809.5C1544.7,808.2 1549.6,809.5 1552.6,811.4C1555.5,813.2 1558.5,817.3 1559.1,820.7C1559.8,824.2 1557.1,828.3 1556.3,832.0C1555.5,835.8 1556.0,840.1 1554.4,843.3C1552.9,846.4 1550.1,849.4 1546.9,850.8C1543.8,852.2 1538.6,852.6 1535.7,851.7C1532.7,850.8 1530.5,848.1 1529.1,845.1C1527.7,842.2 1526.8,838.3 1527.2,833.9Z" fill="url(#gL)"/>
<defs><path id="s43" d="M1533.8,824.5C1535.4,820.3 1539.4,812.9 1542.2,812.3C1545.1,811.7 1549.9,817.5 1550.7,820.7C1551.5,824.0 1547.9,828.3 1546.9,832.0C1546.0,835.8 1546.6,840.8 1545.1,843.3C1543.5,845.8 1539.6,847.9 1537.6,847.0C1535.5,846.1 1533.5,841.4 1532.9,837.6C1532.2,833.9 1532.2,828.7 1533.8,824.5Z"/><clipPath id="cs43"><use href="#s43"/></clipPath></defs>
<g clip-path="url(#cs43)"><use href="#s43" fill="#f43a04"/><use href="#s43" fill="#e01c04" filter="url(#blur4)" transform="translate(1541.3 831.1) scale(0.5) translate(-1541.3 -831.1)"/><use href="#s43" fill="none" stroke="#ff6404" stroke-width="15" stroke-linejoin="round" filter="url(#blur3)"/><use href="#s43" fill="none" stroke="#ff9600" stroke-width="8" stroke-linejoin="round" filter="url(#blur2)"/><use href="#s43" fill="none" stroke="#ffc600" stroke-width="4.2" stroke-linejoin="round" filter="url(#blur1)"/><use href="#s43" fill="none" stroke="#fff000" stroke-width="2.0" stroke-linejoin="round"/></g>
<ellipse cx="1624.8" cy="827.3" rx="12.9" ry="19.5" fill="#222"/>
<ellipse cx="1624.8" cy="827.3" rx="10.3" ry="16.9" fill="url(#gG)"/>
<ellipse cx="1651.0" cy="832.9" rx="14.8" ry="20.4" fill="#222"/>
<ellipse cx="1651.0" cy="832.9" rx="12.2" ry="17.8" fill="url(#gG)"/>
<ellipse cx="1625.7" cy="828.6" rx="4.7" ry="4.7" fill="#ffee00"/>
<ellipse cx="1651.0" cy="832.0" rx="7.9" ry="9.4" fill="#ffee00"/>
<path d="M1740.2,815.1C1741.3,811.1 1745.2,805.1 1747.7,803.9C1750.2,802.6 1753.6,803.9 1755.2,807.6C1756.7,811.4 1757.0,820.7 1757.0,826.4C1757.0,832.0 1756.7,839.2 1755.2,841.4C1753.6,843.6 1750.0,841.7 1747.7,839.5C1745.3,837.3 1742.3,832.3 1741.1,828.3C1739.8,824.2 1739.1,819.2 1740.2,815.1Z" fill="url(#gL)"/>
<defs><path id="s49" d="M1712.0,820.7C1713.0,817.9 1716.1,814.9 1719.5,813.2C1723.0,811.6 1729.2,810.7 1732.7,811.0C1736.1,811.3 1738.6,812.6 1740.2,815.1C1741.7,817.7 1740.8,822.6 1742.0,826.4C1743.3,830.1 1746.7,833.6 1747.7,837.6C1748.6,841.7 1748.9,847.3 1747.7,850.8C1746.4,854.2 1743.6,856.4 1740.2,858.3C1736.7,860.1 1730.5,862.3 1727.0,862.0C1723.6,861.7 1721.4,859.8 1719.5,856.4C1717.6,853.0 1716.7,845.8 1715.8,841.4C1714.8,837.0 1714.5,833.6 1713.9,830.1C1713.3,826.7 1711.1,823.6 1712.0,820.7Z"/><clipPath id="cs49"><use href="#s49"/></clipPath></defs>
<use href="#s49" fill="#333" stroke="#333" stroke-width="5" stroke-linejoin="round"/>
<g clip-path="url(#cs49)"><use href="#s49" fill="#fc3006"/><use href="#s49" fill="#f81c04" filter="url(#blur4)" transform="translate(1729.8 835.3) scale(0.5) translate(-1729.8 -835.3)"/><use href="#s49" fill="none" stroke="#ff5006" stroke-width="20" stroke-linejoin="round" filter="url(#blur3)"/><use href="#s49" fill="none" stroke="#ff7600" stroke-width="11" stroke-linejoin="round" filter="url(#blur2)"/><use href="#s49" fill="none" stroke="#ffa400" stroke-width="5" stroke-linejoin="round" filter="url(#blur1)"/><use href="#s49" fill="none" stroke="#ffe600" stroke-width="2.0" stroke-linejoin="round"/></g>
<text x="1528.2" y="682.0" font-size="27.6" font-weight="bold" fill="#fff" textLength="19.9" lengthAdjust="spacingAndGlyphs">H</text>
<text x="1619.2" y="677.8" font-size="27.6" font-weight="bold" fill="#fff" textLength="24.5" lengthAdjust="spacingAndGlyphs">Li</text>
<text x="1720.0" y="678.2" font-size="27.6" font-weight="bold" fill="#fff" textLength="18.4" lengthAdjust="spacingAndGlyphs">S</text>
<text x="1526.0" y="890.0" font-size="27.6" font-weight="bold" fill="#fff" textLength="33.7" lengthAdjust="spacingAndGlyphs">Lu</text>
<text x="1629.6" y="890.0" font-size="27.6" font-weight="bold" fill="#fff" textLength="19.9" lengthAdjust="spacingAndGlyphs">K</text>
<text x="1720.5" y="888.0" font-size="27.6" font-weight="bold" fill="#fff" textLength="16.9" lengthAdjust="spacingAndGlyphs">T</text>
</g>
<clipPath id="cp6"><rect x="117.8" y="951.6" width="329.2" height="316.1"/></clipPath>
<g clip-path="url(#cp6)">
<rect x="117.8" y="951.6" width="329.2" height="316.1" fill="#212121" />
<rect x="152.2" y="982.8" width="263.6" height="253.8" fill="#1e1e1e" stroke="#171717" stroke-width="1.4"/>
<circle cx="282.4" cy="1103.2" r="162.7" fill="#262626"/>
<circle cx="282.4" cy="1103.2" r="142.7" fill="#1f1f1f"/>
<circle cx="282.4" cy="1103.2" r="160.2" fill="none" stroke="#3c3c3c" stroke-width="5"/>
<circle cx="282.4" cy="1103.2" r="162.2" fill="none" stroke="#686868" stroke-width="1.5"/>
<circle cx="282.4" cy="1103.2" r="156.7" fill="none" stroke="#4a4a4a" stroke-width="1.2"/>
<circle cx="282.4" cy="1103.2" r="142.7" fill="none" stroke="#666" stroke-width="1.5"/>
<circle cx="282.4" cy="1103.2" r="139.2" fill="none" stroke="#484848" stroke-width="1.3"/>
<circle cx="282.4" cy="1103.2" r="126.7" fill="none" stroke="#242424" stroke-width="3"/>
<path d="M422.9,1184.3A162.2,162.2 0 0 1 373.1,1237.7M407.2,1172.4A142.7,142.7 0 0 1 360.1,1222.9M191.7,1237.7A162.2,162.2 0 0 1 141.9,1184.3M204.7,1222.9A142.7,142.7 0 0 1 157.6,1172.4M141.9,1022.1A162.2,162.2 0 0 1 191.7,968.7M157.6,1034.0A142.7,142.7 0 0 1 204.7,983.5M373.1,968.7A162.2,162.2 0 0 1 422.9,1022.1M360.1,983.5A142.7,142.7 0 0 1 407.2,1034.0" fill="none" stroke="#fff" stroke-width="3.4" stroke-linecap="round" filter="url(#blur1)" opacity="0.95"/>
<path d="M409.5,1199.0A159.2,159.2 0 0 1 386.8,1223.3M396.4,1183.0A139.2,139.2 0 0 1 370.0,1211.4M397.6,1203.4A152.7,152.7 0 0 1 390.4,1211.2M178.0,1223.3A159.2,159.2 0 0 1 155.3,1199.0M194.8,1211.4A139.2,139.2 0 0 1 168.4,1183.0M174.4,1211.2A152.7,152.7 0 0 1 167.2,1203.4M155.3,1007.4A159.2,159.2 0 0 1 178.0,983.1M168.4,1023.4A139.2,139.2 0 0 1 194.8,995.0M167.2,1003.0A152.7,152.7 0 0 1 174.4,995.2M386.8,983.1A159.2,159.2 0 0 1 409.5,1007.4M370.0,995.0A139.2,139.2 0 0 1 396.4,1023.4M390.4,995.2A152.7,152.7 0 0 1 397.6,1003.0" fill="none" stroke="#fff" stroke-width="2.3" stroke-linecap="round" filter="url(#blur1)" opacity="0.7"/>
<circle cx="321.4" cy="1124.4" r="2.6" fill="#0a0a0a" filter="url(#blur1)"/>
<rect x="117.8" y="951.6" width="329.2" height="316.1" fill="#fff" filter="url(#grain)" opacity="0.5"/>
<path d="M184.4,1065.1C184.6,1060.9 186.3,1057.0 188.2,1054.8C190.0,1052.5 193.3,1050.8 195.7,1051.6C198.0,1052.3 201.1,1055.9 202.2,1059.4C203.3,1062.9 203.3,1069.1 202.2,1072.6C201.1,1076.0 198.2,1078.8 195.7,1080.1C193.2,1081.3 189.1,1082.6 187.2,1080.1C185.4,1077.6 184.3,1069.3 184.4,1065.1Z" fill="#222" stroke="#222" stroke-width="6" stroke-linejoin="round"/>
<path d="M184.4,1065.1C184.6,1060.9 186.3,1057.0 188.2,1054.8C190.0,1052.5 193.3,1050.8 195.7,1051.6C198.0,1052.3 201.1,1055.9 202.2,1059.4C203.3,1062.9 203.3,1069.1 202.2,1072.6C201.1,1076.0 198.2,1078.8 195.7,1080.1C193.2,1081.3 189.1,1082.6 187.2,1080.1C185.4,1077.6 184.3,1069.3 184.4,1065.1Z" fill="url(#gG)"/>
<path d="M221.0,1044.4C221.0,1039.7 224.7,1031.1 227.6,1027.6C230.4,1024.1 237.6,1020.2 242.6,1018.2C247.6,1016.2 259.1,1012.5 265.1,1012.5C271.1,1012.5 282.1,1018.4 287.6,1018.2C293.1,1017.9 301.9,1010.4 306.4,1010.7C310.9,1010.9 319.0,1016.8 321.4,1020.0C323.7,1023.3 324.4,1030.6 324.2,1035.1C323.9,1039.6 319.5,1048.8 319.5,1053.8C319.5,1058.8 324.2,1068.6 324.2,1072.6C324.2,1076.6 322.9,1082.2 319.5,1083.8C316.1,1085.5 304.1,1085.0 298.9,1084.8C293.6,1084.5 284.1,1082.6 280.1,1082.0C276.1,1081.3 273.8,1081.6 268.8,1080.1C263.8,1078.6 248.1,1073.0 242.6,1070.7C237.1,1068.4 230.4,1066.7 227.6,1063.2C224.7,1059.7 221.0,1049.2 221.0,1044.4Z" fill="#585858"/>
<defs><path id="s52" d="M224.8,1044.4C225.1,1041.3 226.9,1034.3 229.4,1031.3C231.9,1028.3 238.4,1024.2 242.6,1022.9C246.8,1021.5 256.3,1022.7 259.5,1021.9C262.6,1021.1 263.2,1016.4 265.1,1017.2C266.9,1018.0 270.5,1025.2 272.6,1027.6C274.7,1029.9 278.7,1031.5 280.1,1034.1C281.5,1036.7 282.9,1042.5 282.9,1046.3C282.9,1050.1 280.8,1057.6 280.1,1061.3C279.4,1065.0 279.3,1070.3 278.2,1072.6C277.2,1074.8 275.2,1077.3 272.6,1077.3C270.0,1077.3 263.7,1074.2 259.5,1072.6C255.3,1071.0 246.5,1067.6 242.6,1066.0C238.6,1064.4 233.6,1063.0 231.3,1061.3C229.1,1059.6 227.5,1056.2 226.6,1053.8C225.7,1051.5 224.4,1047.6 224.8,1044.4Z"/><clipPath id="cs52"><use href="#s52"/></clipPath></defs>
<g clip-path="url(#cs52)"><use href="#s52" fill="#ff9c00"/><use href="#s52" fill="none" stroke="#ffac00" stroke-width="40" stroke-linejoin="round" filter="url(#blur3)"/><use href="#s52" fill="none" stroke="#ffc000" stroke-width="26" stroke-linejoin="round" filter="url(#blur3)"/><use href="#s52" fill="none" stroke="#ffd600" stroke-width="14" stroke-linejoin="round" filter="url(#blur2)"/><use href="#s52" fill="none" stroke="#ffea00" stroke-width="6.5" stroke-linejoin="round" filter="url(#blur1)"/><use href="#s52" fill="none" stroke="#fff400" stroke-width="2.6" stroke-linejoin="round"/></g>
<defs><path id="s53" d="M280.5,1034.5C281.0,1031.0 285.1,1026.1 287.6,1023.8C290.1,1021.5 295.9,1018.2 298.9,1017.2C301.9,1016.2 307.5,1015.5 310.1,1016.3C312.7,1017.0 317.3,1020.4 318.6,1022.9C319.8,1025.4 320.1,1031.4 319.5,1035.1C318.9,1038.7 315.6,1047.7 313.9,1050.1C312.1,1052.4 306.6,1050.9 306.4,1052.9C306.1,1054.9 310.7,1061.4 312.0,1065.1C313.2,1068.7 316.5,1078.2 315.7,1080.1C315.0,1082.0 309.1,1079.6 306.4,1079.1C303.6,1078.6 298.0,1076.3 295.1,1076.3C292.2,1076.3 286.6,1080.4 284.8,1079.1C283.0,1077.9 281.6,1070.8 281.4,1066.9C281.2,1063.1 283.4,1054.4 283.3,1050.1C283.2,1045.7 279.9,1038.0 280.5,1034.5Z"/><clipPath id="cs53"><use href="#s53"/></clipPath></defs>
<g clip-path="url(#cs53)"><use href="#s53" fill="#ff9c00"/><use href="#s53" fill="none" stroke="#ffac00" stroke-width="40" stroke-linejoin="round" filter="url(#blur3)"/><use href="#s53" fill="none" stroke="#ffc000" stroke-width="26" stroke-linejoin="round" filter="url(#blur3)"/><use href="#s53" fill="none" stroke="#ffd600" stroke-width="14" stroke-linejoin="round" filter="url(#blur2)"/><use href="#s53" fill="none" stroke="#ffea00" stroke-width="6.5" stroke-linejoin="round" filter="url(#blur1)"/><use href="#s53" fill="none" stroke="#fff400" stroke-width="2.6" stroke-linejoin="round"/></g>
<defs><path id="s54" d="M372.0,1031.3C372.6,1025.7 375.1,1025.4 377.6,1023.8C380.1,1022.2 384.2,1021.3 387.0,1021.9C389.8,1022.5 392.7,1024.1 394.5,1027.6C396.4,1031.0 397.0,1036.9 398.3,1042.6C399.5,1048.2 400.5,1054.1 402.0,1061.3C403.6,1068.5 406.4,1079.1 407.7,1085.7C408.9,1092.3 410.5,1096.3 409.5,1100.7C408.6,1105.1 405.2,1109.0 402.0,1112.0C398.9,1114.9 394.2,1117.9 390.8,1118.5C387.3,1119.2 383.9,1118.1 381.4,1115.7C378.9,1113.4 376.9,1110.4 375.8,1104.5C374.7,1098.5 375.1,1087.9 374.8,1080.1C374.5,1072.3 374.4,1065.7 373.9,1057.6C373.4,1049.4 371.4,1036.9 372.0,1031.3Z"/><clipPath id="cs54"><use href="#s54"/></clipPath></defs>
<use href="#s54" fill="#333" stroke="#333" stroke-width="5" stroke-linejoin="round"/>
<g clip-path="url(#cs54)"><use href="#s54" fill="#f40e06"/><use href="#s54" fill="none" stroke="#fc2006" stroke-width="16" stroke-linejoin="round" filter="url(#blur3)"/><use href="#s54" fill="none" stroke="#ff4c06" stroke-width="8" stroke-linejoin="round" filter="url(#blur2)"/><use href="#s54" fill="none" stroke="#ff9000" stroke-width="4.2" stroke-linejoin="round" filter="url(#blur1)"/><use href="#s54" fill="none" stroke="#ffe000" stroke-width="1.9" stroke-linejoin="round"/></g>
<path d="M177.9,1145.7C178.3,1143.4 180.2,1141.5 183.5,1141.0C186.8,1140.6 193.6,1141.8 197.6,1142.9C201.5,1144.0 204.4,1146.1 206.9,1147.6C209.4,1149.2 209.9,1151.7 212.6,1152.3C215.2,1152.9 221.0,1150.4 222.9,1151.4C224.8,1152.3 224.8,1155.4 223.8,1157.9C222.9,1160.4 218.8,1163.4 217.2,1166.4C215.7,1169.3 217.1,1173.6 214.4,1175.8C211.8,1177.9 205.4,1179.7 201.3,1179.5C197.2,1179.4 193.5,1175.0 190.0,1174.8C186.6,1174.7 181.9,1180.0 180.7,1178.6C179.4,1177.2 182.5,1170.3 182.5,1166.4C182.5,1162.5 181.4,1158.6 180.7,1155.1C179.9,1151.7 177.4,1148.1 177.9,1145.7Z" fill="url(#gL)"/>
<ellipse cx="194.7" cy="1148.6" rx="4.1" ry="3.8" fill="#ffee00"/>
<ellipse cx="210.7" cy="1157.9" rx="6.0" ry="4.5" fill="#ffee00"/>
<ellipse cx="195.7" cy="1166.8" rx="5.6" ry="4.9" fill="#ffd800"/>
<ellipse cx="205.1" cy="1164.5" rx="4.9" ry="3.8" fill="#ffee00"/>
<ellipse cx="201.3" cy="1155.1" rx="4.1" ry="3.0" fill="#ffee00"/>
<ellipse cx="283.8" cy="1166.4" rx="13.9" ry="20.4" fill="#202020"/>
<ellipse cx="283.8" cy="1166.4" rx="11.3" ry="17.8" fill="url(#gG)"/>
<ellipse cx="308.2" cy="1168.3" rx="13.5" ry="19.9" fill="#202020"/>
<ellipse cx="308.2" cy="1168.3" rx="10.9" ry="17.3" fill="url(#gG)"/>
<path d="M358.9,1170.1C360.0,1167.6 364.5,1166.1 366.4,1162.6C368.3,1159.2 367.6,1152.9 370.1,1149.5C372.6,1146.1 377.3,1142.9 381.4,1142.0C385.5,1141.1 390.8,1142.0 394.5,1143.9C398.3,1145.7 402.2,1149.5 403.9,1153.2C405.6,1157.0 405.5,1162.6 404.8,1166.4C404.2,1170.1 400.0,1172.9 400.2,1175.8C400.3,1178.6 406.1,1180.8 405.8,1183.3C405.5,1185.8 402.3,1189.2 398.3,1190.8C394.2,1192.3 386.4,1193.3 381.4,1192.6C376.4,1192.0 371.9,1189.5 368.3,1187.0C364.7,1184.5 361.4,1180.4 359.8,1177.6C358.3,1174.8 357.8,1172.6 358.9,1170.1Z" fill="url(#gL)"/>
<text x="187.2" y="1011.6" font-size="27.6" font-weight="bold" fill="#fff" textLength="19.9" lengthAdjust="spacingAndGlyphs">H</text>
<text x="278.2" y="1011.6" font-size="27.6" font-weight="bold" fill="#fff" textLength="24.5" lengthAdjust="spacingAndGlyphs">Li</text>
<text x="379.7" y="1011.6" font-size="27.6" font-weight="bold" fill="#fff" textLength="18.4" lengthAdjust="spacingAndGlyphs">S</text>
<text x="181.7" y="1215.0" font-size="27.6" font-weight="bold" fill="#fff" textLength="33.7" lengthAdjust="spacingAndGlyphs">Lu</text>
<text x="285.2" y="1215.0" font-size="27.6" font-weight="bold" fill="#fff" textLength="19.9" lengthAdjust="spacingAndGlyphs">K</text>
<text x="377.0" y="1215.0" font-size="27.6" font-weight="bold" fill="#fff" textLength="16.9" lengthAdjust="spacingAndGlyphs">T</text>
</g>
<clipPath id="cp7"><rect x="455.4" y="950.3" width="327.2" height="320.2"/></clipPath>
<g clip-path="url(#cp7)">
<rect x="455.4" y="950.3" width="327.2" height="320.2" fill="#212121" />
<rect x="489.8" y="990.2" width="259.2" height="249.6" fill="#1e1e1e" stroke="#171717" stroke-width="1.4"/>
<circle cx="617.8" cy="1108.6" r="160.0" fill="#262626"/>
<circle cx="617.8" cy="1108.6" r="140.0" fill="#1f1f1f"/>
<circle cx="617.8" cy="1108.6" r="157.5" fill="none" stroke="#3c3c3c" stroke-width="5"/>
<circle cx="617.8" cy="1108.6" r="159.5" fill="none" stroke="#686868" stroke-width="1.5"/>
<circle cx="617.8" cy="1108.6" r="154.0" fill="none" stroke="#4a4a4a" stroke-width="1.2"/>
<circle cx="617.8" cy="1108.6" r="140.0" fill="none" stroke="#666" stroke-width="1.5"/>
<circle cx="617.8" cy="1108.6" r="136.5" fill="none" stroke="#484848" stroke-width="1.3"/>
<circle cx="617.8" cy="1108.6" r="124.0" fill="none" stroke="#242424" stroke-width="3"/>
<path d="M755.9,1188.3A159.5,159.5 0 0 1 707.0,1240.8M740.2,1176.5A140.0,140.0 0 0 1 694.0,1226.0M528.6,1240.8A159.5,159.5 0 0 1 479.7,1188.3M541.6,1226.0A140.0,140.0 0 0 1 495.4,1176.5M479.7,1028.8A159.5,159.5 0 0 1 528.6,976.4M495.4,1040.7A140.0,140.0 0 0 1 541.6,991.2M707.0,976.4A159.5,159.5 0 0 1 755.9,1028.8M694.0,991.2A140.0,140.0 0 0 1 740.2,1040.7" fill="none" stroke="#fff" stroke-width="3.4" stroke-linecap="round" filter="url(#blur1)" opacity="0.95"/>
<path d="M742.8,1202.8A156.5,156.5 0 0 1 720.5,1226.7M729.6,1186.9A136.5,136.5 0 0 1 703.7,1214.7M731.0,1207.0A150.0,150.0 0 0 1 723.9,1214.7M515.1,1226.7A156.5,156.5 0 0 1 492.8,1202.8M531.9,1214.7A136.5,136.5 0 0 1 506.0,1186.9M511.7,1214.7A150.0,150.0 0 0 1 504.6,1207.0M492.8,1014.4A156.5,156.5 0 0 1 515.1,990.5M506.0,1030.3A136.5,136.5 0 0 1 531.9,1002.5M504.6,1010.2A150.0,150.0 0 0 1 511.7,1002.5M720.5,990.5A156.5,156.5 0 0 1 742.8,1014.4M703.7,1002.5A136.5,136.5 0 0 1 729.6,1030.3M723.9,1002.5A150.0,150.0 0 0 1 731.0,1010.2" fill="none" stroke="#fff" stroke-width="2.3" stroke-linecap="round" filter="url(#blur1)" opacity="0.7"/>
<circle cx="656.2" cy="1129.4" r="2.6" fill="#0a0a0a" filter="url(#blur1)"/>
<rect x="455.4" y="950.3" width="327.2" height="320.2" fill="#fff" filter="url(#grain)" opacity="0.5"/>
<path d="M512.2,1066.9C512.1,1063.2 513.9,1059.6 516.0,1057.6C518.0,1055.5 521.9,1054.1 524.4,1054.8C526.9,1055.4 529.7,1058.0 531.0,1061.3C532.2,1064.6 532.7,1071.0 531.9,1074.5C531.1,1077.9 528.8,1081.0 526.3,1082.0C523.8,1082.9 519.3,1082.6 516.9,1080.1C514.6,1077.6 512.4,1070.7 512.2,1066.9Z" fill="#222" stroke="#222" stroke-width="6" stroke-linejoin="round"/>
<path d="M512.2,1066.9C512.1,1063.2 513.9,1059.6 516.0,1057.6C518.0,1055.5 521.9,1054.1 524.4,1054.8C526.9,1055.4 529.7,1058.0 531.0,1061.3C532.2,1064.6 532.7,1071.0 531.9,1074.5C531.1,1077.9 528.8,1081.0 526.3,1082.0C523.8,1082.9 519.3,1082.6 516.9,1080.1C514.6,1077.6 512.4,1070.7 512.2,1066.9Z" fill="url(#gG)"/>
<defs><path id="s65" d="M574.1,1057.6C574.9,1054.2 577.5,1049.1 579.8,1046.3C582.0,1043.6 587.1,1040.2 590.1,1037.9C593.1,1035.5 598.2,1031.1 601.3,1029.4C604.5,1027.7 609.6,1025.7 612.6,1025.7C615.6,1025.7 620.8,1028.5 622.9,1029.4C625.0,1030.3 625.4,1032.2 627.6,1032.2C629.8,1032.2 635.4,1029.4 638.9,1029.4C642.3,1029.4 647.8,1032.2 652.0,1032.2C656.2,1032.2 667.0,1028.2 668.9,1029.4C670.7,1030.6 665.9,1037.3 665.1,1040.7C664.3,1044.1 663.4,1050.4 663.2,1053.8C663.1,1057.2 665.2,1061.9 664.2,1065.1C663.1,1068.2 658.8,1074.2 655.7,1076.3C652.7,1078.4 646.0,1079.2 642.6,1080.1C639.2,1081.0 634.5,1082.1 631.4,1082.9C628.2,1083.7 623.2,1084.5 620.1,1085.7C616.9,1086.9 612.3,1090.4 608.8,1091.3C605.4,1092.3 599.0,1092.8 595.7,1092.3C592.4,1091.7 587.2,1089.0 585.4,1087.6C583.6,1086.1 583.9,1082.5 582.6,1082.0C581.3,1081.4 577.2,1085.4 576.0,1083.8C574.8,1082.3 574.4,1074.4 574.1,1070.7C573.9,1067.0 573.3,1061.0 574.1,1057.6Z"/><clipPath id="cs65"><use href="#s65"/></clipPath></defs>
<use href="#s65" fill="#333" stroke="#333" stroke-width="5" stroke-linejoin="round"/>
<g clip-path="url(#cs65)"><use href="#s65" fill="#b00a06"/><use href="#s65" fill="#840606" filter="url(#blur4)" transform="translate(618.8 1058.3) scale(0.5) translate(-618.8 -1058.3)"/><use href="#s65" fill="none" stroke="#cc1008" stroke-width="24" stroke-linejoin="round" filter="url(#blur3)"/><use href="#s65" fill="none" stroke="#ec200a" stroke-width="14" stroke-linejoin="round" filter="url(#blur2)"/><use href="#s65" fill="none" stroke="#ff4a0a" stroke-width="7" stroke-linejoin="round" filter="url(#blur1)"/><use href="#s65" fill="none" stroke="#ff9400" stroke-width="3.6" stroke-linejoin="round" filter="url(#blur1)"/><use href="#s65" fill="none" stroke="#ffec00" stroke-width="1.7" stroke-linejoin="round"/></g>
<defs><path id="s66" d="M689.5,1031.3C691.7,1028.0 695.4,1024.4 698.9,1022.9C702.3,1021.3 706.5,1021.1 710.1,1021.9C713.7,1022.7 718.4,1025.1 720.5,1027.6C722.5,1030.1 722.8,1032.6 722.3,1036.9C721.9,1041.3 719.2,1047.9 717.6,1053.8C716.1,1059.8 714.2,1065.7 713.0,1072.6C711.7,1079.5 710.9,1089.1 710.1,1095.1C709.4,1101.0 708.4,1104.8 708.3,1108.2C708.1,1111.7 710.3,1113.8 709.2,1115.7C708.1,1117.6 704.4,1119.5 701.7,1119.5C699.0,1119.5 695.8,1118.2 693.3,1115.7C690.8,1113.2 688.3,1109.5 686.7,1104.5C685.1,1099.5 684.2,1092.9 683.9,1085.7C683.6,1078.5 684.5,1068.5 684.8,1061.3C685.1,1054.1 685.0,1047.6 685.8,1042.6C686.5,1037.6 687.3,1034.6 689.5,1031.3Z"/><clipPath id="cs66"><use href="#s66"/></clipPath></defs>
<use href="#s66" fill="#333" stroke="#333" stroke-width="5" stroke-linejoin="round"/>
<g clip-path="url(#cs66)"><use href="#s66" fill="#f40e06"/><use href="#s66" fill="none" stroke="#fc2006" stroke-width="16" stroke-linejoin="round" filter="url(#blur3)"/><use href="#s66" fill="none" stroke="#ff4c06" stroke-width="8" stroke-linejoin="round" filter="url(#blur2)"/><use href="#s66" fill="none" stroke="#ff9000" stroke-width="4.2" stroke-linejoin="round" filter="url(#blur1)"/><use href="#s66" fill="none" stroke="#ffe000" stroke-width="1.9" stroke-linejoin="round"/></g>
<defs><path id="s67" d="M505.7,1151.4C506.3,1147.9 507.8,1141.2 510.4,1138.2C512.9,1135.3 517.4,1135.4 520.7,1133.5C524.0,1131.7 527.1,1128.5 530.0,1127.0C533.0,1125.4 537.2,1122.9 538.5,1124.2C539.7,1125.4 536.9,1131.8 537.6,1134.5C538.2,1137.1 540.4,1138.2 542.2,1140.1C544.1,1142.0 548.2,1143.2 548.8,1145.7C549.4,1148.2 547.9,1152.9 546.0,1155.1C544.1,1157.3 539.9,1157.0 537.6,1158.9C535.2,1160.7 534.4,1164.7 531.9,1166.4C529.4,1168.1 525.4,1168.4 522.5,1169.2C519.7,1170.0 516.8,1172.5 515.0,1171.1C513.3,1169.7 513.6,1162.8 512.2,1160.7C510.8,1158.7 507.7,1160.4 506.6,1158.9C505.5,1157.3 505.0,1154.8 505.7,1151.4Z"/><clipPath id="cs67"><use href="#s67"/></clipPath></defs>
<use href="#s67" fill="#9a9a9a" stroke="#9a9a9a" stroke-width="5" stroke-linejoin="round"/>
<g clip-path="url(#cs67)"><use href="#s67" fill="#ff9000"/><use href="#s67" fill="#ff7c00" filter="url(#blur4)" transform="translate(527.0 1149.0) scale(0.5) translate(-527.0 -1149.0)"/><use href="#s67" fill="none" stroke="#ffa600" stroke-width="18" stroke-linejoin="round" filter="url(#blur3)"/><use href="#s67" fill="none" stroke="#ffc000" stroke-width="10" stroke-linejoin="round" filter="url(#blur2)"/><use href="#s67" fill="none" stroke="#ffdc00" stroke-width="5" stroke-linejoin="round" filter="url(#blur1)"/><use href="#s67" fill="none" stroke="#fff000" stroke-width="2.0" stroke-linejoin="round"/></g>
<ellipse cx="602.3" cy="1148.6" rx="12.4" ry="19.1" fill="#222"/>
<ellipse cx="602.3" cy="1148.6" rx="9.8" ry="16.5" fill="url(#gG)"/>
<ellipse cx="623.8" cy="1149.5" rx="12.4" ry="19.5" fill="#222"/>
<ellipse cx="623.8" cy="1149.5" rx="9.8" ry="16.9" fill="url(#gG)"/>
<ellipse cx="602.8" cy="1148.6" rx="5.3" ry="7.1" fill="#ffee00"/>
<ellipse cx="623.8" cy="1148.0" rx="6.0" ry="7.9" fill="#ffee00"/>
<defs><path id="s72" d="M673.6,1149.5C674.0,1145.7 675.0,1140.9 677.3,1138.2C679.7,1135.6 684.0,1133.9 687.6,1133.5C691.2,1133.2 695.4,1134.0 698.9,1136.4C702.3,1138.7 706.2,1143.2 708.3,1147.6C710.3,1152.0 711.1,1157.3 711.1,1162.6C711.1,1167.9 709.8,1175.4 708.3,1179.5C706.7,1183.6 704.5,1186.4 701.7,1187.0C698.9,1187.6 694.7,1185.8 691.4,1183.3C688.1,1180.8 684.8,1175.8 682.0,1172.0C679.2,1168.3 675.9,1164.5 674.5,1160.7C673.1,1157.0 673.1,1153.2 673.6,1149.5Z"/><clipPath id="cs72"><use href="#s72"/></clipPath></defs>
<use href="#s72" fill="#333" stroke="#333" stroke-width="5" stroke-linejoin="round"/>
<g clip-path="url(#cs72)"><use href="#s72" fill="#7a0606"/><use href="#s72" fill="#3e0303" filter="url(#blur4)" transform="translate(692.2 1159.1) scale(0.5) translate(-692.2 -1159.1)"/><use href="#s72" fill="none" stroke="#a80a08" stroke-width="22" stroke-linejoin="round" filter="url(#blur3)"/><use href="#s72" fill="none" stroke="#dc1c0a" stroke-width="14" stroke-linejoin="round" filter="url(#blur2)"/><use href="#s72" fill="none" stroke="#ff4e0a" stroke-width="8" stroke-linejoin="round" filter="url(#blur2)"/><use href="#s72" fill="none" stroke="#ff9a00" stroke-width="4.2" stroke-linejoin="round" filter="url(#blur1)"/><use href="#s72" fill="none" stroke="#ffe400" stroke-width="1.9" stroke-linejoin="round"/></g>
<text x="512.2" y="1007.3" font-size="27.6" font-weight="bold" fill="#fff" textLength="19.9" lengthAdjust="spacingAndGlyphs">H</text>
<text x="603.2" y="1007.3" font-size="27.6" font-weight="bold" fill="#fff" textLength="24.5" lengthAdjust="spacingAndGlyphs">Li</text>
<text x="704.2" y="1007.3" font-size="27.6" font-weight="bold" fill="#fff" textLength="18.4" lengthAdjust="spacingAndGlyphs">S</text>
<text x="506.2" y="1211.4" font-size="27.6" font-weight="bold" fill="#fff" textLength="33.7" lengthAdjust="spacingAndGlyphs">Lu</text>
<text x="609.9" y="1211.4" font-size="27.6" font-weight="bold" fill="#fff" textLength="19.9" lengthAdjust="spacingAndGlyphs">K</text>
<text x="701.4" y="1211.4" font-size="27.6" font-weight="bold" fill="#fff" textLength="16.9" lengthAdjust="spacingAndGlyphs">T</text>
</g>
<clipPath id="cp8"><rect x="790.9" y="950.3" width="328.3" height="321.1"/></clipPath>
<g clip-path="url(#cp8)">
<rect x="790.9" y="950.3" width="328.3" height="321.1" fill="#212121" />
<rect x="825.7" y="991.4" width="260.8" height="251.2" fill="#1e1e1e" stroke="#171717" stroke-width="1.4"/>
<circle cx="954.5" cy="1110.5" r="161.0" fill="#262626"/>
<circle cx="954.5" cy="1110.5" r="141.0" fill="#1f1f1f"/>
<circle cx="954.5" cy="1110.5" r="158.5" fill="none" stroke="#3c3c3c" stroke-width="5"/>
<circle cx="954.5" cy="1110.5" r="160.5" fill="none" stroke="#686868" stroke-width="1.5"/>
<circle cx="954.5" cy="1110.5" r="155.0" fill="none" stroke="#4a4a4a" stroke-width="1.2"/>
<circle cx="954.5" cy="1110.5" r="141.0" fill="none" stroke="#666" stroke-width="1.5"/>
<circle cx="954.5" cy="1110.5" r="137.5" fill="none" stroke="#484848" stroke-width="1.3"/>
<circle cx="954.5" cy="1110.5" r="125.0" fill="none" stroke="#242424" stroke-width="3"/>
<path d="M1093.5,1190.8A160.5,160.5 0 0 1 1044.3,1243.6M1077.8,1178.9A141.0,141.0 0 0 1 1031.3,1228.8M864.7,1243.6A160.5,160.5 0 0 1 815.5,1190.8M877.7,1228.8A141.0,141.0 0 0 1 831.2,1178.9M815.5,1030.2A160.5,160.5 0 0 1 864.7,977.4M831.2,1042.1A141.0,141.0 0 0 1 877.7,992.2M1044.3,977.4A160.5,160.5 0 0 1 1093.5,1030.2M1031.3,992.2A141.0,141.0 0 0 1 1077.8,1042.1" fill="none" stroke="#fff" stroke-width="3.4" stroke-linecap="round" filter="url(#blur1)" opacity="0.95"/>
<path d="M1080.3,1205.3A157.5,157.5 0 0 1 1057.8,1229.4M1067.1,1189.4A137.5,137.5 0 0 1 1041.0,1217.4M1068.5,1209.6A151.0,151.0 0 0 1 1061.3,1217.3M851.2,1229.4A157.5,157.5 0 0 1 828.7,1205.3M868.0,1217.4A137.5,137.5 0 0 1 841.9,1189.4M847.7,1217.3A151.0,151.0 0 0 1 840.5,1209.6M828.7,1015.7A157.5,157.5 0 0 1 851.2,991.6M841.9,1031.6A137.5,137.5 0 0 1 868.0,1003.6M840.5,1011.4A151.0,151.0 0 0 1 847.7,1003.7M1057.8,991.6A157.5,157.5 0 0 1 1080.3,1015.7M1041.0,1003.6A137.5,137.5 0 0 1 1067.1,1031.6M1061.3,1003.7A151.0,151.0 0 0 1 1068.5,1011.4" fill="none" stroke="#fff" stroke-width="2.3" stroke-linecap="round" filter="url(#blur1)" opacity="0.7"/>
<circle cx="993.1" cy="1131.4" r="2.6" fill="#0a0a0a" filter="url(#blur1)"/>
<rect x="790.9" y="950.3" width="328.3" height="321.1" fill="#fff" filter="url(#grain)" opacity="0.5"/>
<path d="M868.2,1078.2C868.3,1074.1 870.7,1069.9 871.9,1066.9C873.2,1064.0 873.8,1060.4 875.7,1060.4C877.6,1060.4 881.0,1064.0 883.2,1066.9C885.4,1069.9 888.0,1074.1 888.8,1078.2C889.6,1082.3 889.4,1088.4 887.9,1091.3C886.3,1094.3 882.2,1096.0 879.4,1096.0C876.6,1096.0 872.9,1094.3 871.0,1091.3C869.1,1088.4 868.0,1082.3 868.2,1078.2Z" fill="#222" stroke="#222" stroke-width="6" stroke-linejoin="round"/>
<path d="M868.2,1078.2C868.3,1074.1 870.7,1069.9 871.9,1066.9C873.2,1064.0 873.8,1060.4 875.7,1060.4C877.6,1060.4 881.0,1064.0 883.2,1066.9C885.4,1069.9 888.0,1074.1 888.8,1078.2C889.6,1082.3 889.4,1088.4 887.9,1091.3C886.3,1094.3 882.2,1096.0 879.4,1096.0C876.6,1096.0 872.9,1094.3 871.0,1091.3C869.1,1088.4 868.0,1082.3 868.2,1078.2Z" fill="url(#gG)"/>
<defs><path id="s74" d="M938.5,1068.8C939.0,1065.9 942.6,1060.7 945.1,1057.6C947.6,1054.4 952.9,1048.8 956.3,1046.3C959.8,1043.8 966.3,1040.3 969.5,1039.7C972.6,1039.2 976.9,1040.6 978.9,1042.6C980.8,1044.5 980.9,1052.0 983.5,1053.8C986.2,1055.7 993.8,1055.7 997.6,1055.7C1001.4,1055.7 1007.3,1053.6 1010.7,1053.8C1014.2,1054.1 1019.5,1056.3 1022.0,1057.6C1024.5,1058.9 1028.3,1060.3 1028.6,1063.2C1028.8,1066.1 1026.4,1074.5 1023.9,1078.2C1021.4,1081.9 1013.9,1086.6 1010.7,1089.5C1007.6,1092.3 1003.1,1095.2 1001.4,1098.8C999.7,1102.5 1000.4,1113.2 998.6,1115.7C996.7,1118.2 991.3,1117.2 988.2,1116.7C985.2,1116.1 979.9,1112.5 977.0,1112.0C974.1,1111.4 970.0,1114.0 967.6,1112.9C965.2,1111.9 962.7,1107.8 960.1,1104.5C957.5,1101.2 951.5,1093.1 948.8,1089.5C946.2,1085.8 942.8,1081.1 941.3,1078.2C939.9,1075.3 938.0,1071.7 938.5,1068.8Z"/><clipPath id="cs74"><use href="#s74"/></clipPath></defs>
<use href="#s74" fill="#333" stroke="#333" stroke-width="5" stroke-linejoin="round"/>
<g clip-path="url(#cs74)"><use href="#s74" fill="#900808"/><use href="#s74" fill="#520404" filter="url(#blur4)" transform="translate(982.4 1076.8) scale(0.5) translate(-982.4 -1076.8)"/><use href="#s74" fill="none" stroke="#a40a08" stroke-width="22" stroke-linejoin="round" filter="url(#blur3)"/><use href="#s74" fill="none" stroke="#c00e08" stroke-width="13" stroke-linejoin="round" filter="url(#blur2)"/><use href="#s74" fill="none" stroke="#e82408" stroke-width="7.5" stroke-linejoin="round" filter="url(#blur1)"/><use href="#s74" fill="none" stroke="#ff7a00" stroke-width="3.8" stroke-linejoin="round" filter="url(#blur1)"/><use href="#s74" fill="none" stroke="#ffe800" stroke-width="1.7" stroke-linejoin="round"/></g>
<defs><path id="s75" d="M1056.7,1046.3C1057.6,1041.5 1060.6,1043.5 1063.3,1043.5C1065.9,1043.5 1070.3,1044.0 1072.7,1046.3C1075.0,1048.7 1076.4,1051.9 1077.3,1057.6C1078.3,1063.2 1077.8,1072.6 1078.3,1080.1C1078.8,1087.6 1080.0,1095.1 1080.2,1102.6C1080.3,1110.1 1080.8,1119.5 1079.2,1125.1C1077.7,1130.7 1074.1,1133.7 1070.8,1136.4C1067.5,1139.0 1063.0,1141.2 1059.5,1141.0C1056.1,1140.9 1052.0,1138.4 1050.1,1135.4C1048.3,1132.5 1048.0,1127.4 1048.3,1123.2C1048.6,1119.0 1050.8,1114.8 1052.0,1110.1C1053.3,1105.4 1054.8,1101.3 1055.8,1095.1C1056.7,1088.8 1057.5,1080.7 1057.6,1072.6C1057.8,1064.4 1055.8,1051.2 1056.7,1046.3Z"/><clipPath id="cs75"><use href="#s75"/></clipPath></defs>
<use href="#s75" fill="#333" stroke="#333" stroke-width="5" stroke-linejoin="round"/>
<g clip-path="url(#cs75)"><use href="#s75" fill="#ff6c00"/><use href="#s75" fill="#ff5000" filter="url(#blur4)" transform="translate(1064.4 1093.9) scale(0.5) translate(-1064.4 -1093.9)"/><use href="#s75" fill="none" stroke="#ff8400" stroke-width="18" stroke-linejoin="round" filter="url(#blur3)"/><use href="#s75" fill="none" stroke="#ffa200" stroke-width="9" stroke-linejoin="round" filter="url(#blur2)"/><use href="#s75" fill="none" stroke="#ffc800" stroke-width="4.4" stroke-linejoin="round" filter="url(#blur1)"/><use href="#s75" fill="none" stroke="#ffee00" stroke-width="2.0" stroke-linejoin="round"/></g>
<defs><path id="s76" d="M864.4,1170.1C865.2,1168.1 873.3,1165.9 875.7,1164.5C878.1,1163.1 880.2,1160.4 882.2,1159.8C884.2,1159.2 889.2,1158.4 890.7,1159.8C892.2,1161.2 892.9,1167.3 893.5,1170.1C894.1,1173.0 894.1,1178.8 895.4,1181.4C896.6,1184.0 903.3,1188.5 902.9,1189.8C902.5,1191.2 895.7,1192.1 892.6,1191.7C889.4,1191.3 882.4,1188.6 879.4,1187.0C876.4,1185.4 872.0,1181.8 870.0,1179.5C868.0,1177.3 863.7,1172.1 864.4,1170.1Z"/><clipPath id="cs76"><use href="#s76"/></clipPath></defs>
<use href="#s76" fill="#9a9a9a" stroke="#9a9a9a" stroke-width="5" stroke-linejoin="round"/>
<g clip-path="url(#cs76)"><use href="#s76" fill="#f43a04"/><use href="#s76" fill="#e01c04" filter="url(#blur4)" transform="translate(884.7 1175.4) scale(0.5) translate(-884.7 -1175.4)"/><use href="#s76" fill="none" stroke="#ff6404" stroke-width="15" stroke-linejoin="round" filter="url(#blur3)"/><use href="#s76" fill="none" stroke="#ff9600" stroke-width="8" stroke-linejoin="round" filter="url(#blur2)"/><use href="#s76" fill="none" stroke="#ffc600" stroke-width="4.2" stroke-linejoin="round" filter="url(#blur1)"/><use href="#s76" fill="none" stroke="#fff000" stroke-width="2.0" stroke-linejoin="round"/></g>
<ellipse cx="965.7" cy="1181.4" rx="12.9" ry="18.5" fill="#222"/>
<ellipse cx="965.7" cy="1181.4" rx="10.3" ry="15.9" fill="#555"/>
<ellipse cx="992.0" cy="1181.4" rx="12.9" ry="19.5" fill="#222"/>
<ellipse cx="992.0" cy="1181.4" rx="10.3" ry="16.9" fill="#555"/>
<ellipse cx="965.7" cy="1180.4" rx="7.9" ry="10.3" transform="rotate(10 965.7 1180.4)" fill="#ffee00"/>
<ellipse cx="992.0" cy="1179.5" rx="7.9" ry="10.9" fill="#ffee00"/>
<ellipse cx="1059.5" cy="1183.3" rx="24.0" ry="23.6" fill="#333"/>
<defs><ellipse id="s81" cx="1059.5" cy="1183.3" rx="21.4" ry="21.0"/><clipPath id="cs81"><use href="#s81"/></clipPath></defs>
<g clip-path="url(#cs81)"><use href="#s81" fill="#7a0606"/><use href="#s81" fill="#3e0303" filter="url(#blur4)" transform="translate(1061.5 1184.3) scale(0.5) translate(-1061.5 -1184.3)"/><use href="#s81" fill="none" stroke="#a80a08" stroke-width="22" stroke-linejoin="round" filter="url(#blur3)"/><use href="#s81" fill="none" stroke="#dc1c0a" stroke-width="14" stroke-linejoin="round" filter="url(#blur2)"/><use href="#s81" fill="none" stroke="#ff4e0a" stroke-width="8" stroke-linejoin="round" filter="url(#blur2)"/><use href="#s81" fill="none" stroke="#ff9a00" stroke-width="4.2" stroke-linejoin="round" filter="url(#blur1)"/><use href="#s81" fill="none" stroke="#ffe400" stroke-width="1.9" stroke-linejoin="round"/></g>
<text x="869.7" y="1023.8" font-size="27.6" font-weight="bold" fill="#fff" textLength="19.9" lengthAdjust="spacingAndGlyphs">H</text>
<text x="953.6" y="1023.8" font-size="27.6" font-weight="bold" fill="#fff" textLength="24.5" lengthAdjust="spacingAndGlyphs">Li</text>
<text x="1055.9" y="1022.9" font-size="27.6" font-weight="bold" fill="#fff" textLength="18.4" lengthAdjust="spacingAndGlyphs">S</text>
<text x="864.2" y="1228.3" font-size="27.6" font-weight="bold" fill="#fff" textLength="33.7" lengthAdjust="spacingAndGlyphs">Lu</text>
<text x="961.2" y="1228.3" font-size="27.6" font-weight="bold" fill="#fff" textLength="19.9" lengthAdjust="spacingAndGlyphs">K</text>
<text x="1051.7" y="1228.3" font-size="27.6" font-weight="bold" fill="#fff" textLength="16.9" lengthAdjust="spacingAndGlyphs">T</text>
</g>
<clipPath id="cp9"><rect x="1127.3" y="950.3" width="328.8" height="321.1"/></clipPath>
<g clip-path="url(#cp9)">
<rect x="1127.3" y="950.3" width="328.8" height="321.1" fill="#212121" />
<rect x="1162.2" y="989.1" width="262.9" height="253.2" fill="#1e1e1e" stroke="#171717" stroke-width="1.4"/>
<circle cx="1292.0" cy="1109.2" r="162.3" fill="#262626"/>
<circle cx="1292.0" cy="1109.2" r="142.3" fill="#1f1f1f"/>
<circle cx="1292.0" cy="1109.2" r="159.8" fill="none" stroke="#3c3c3c" stroke-width="5"/>
<circle cx="1292.0" cy="1109.2" r="161.8" fill="none" stroke="#686868" stroke-width="1.5"/>
<circle cx="1292.0" cy="1109.2" r="156.3" fill="none" stroke="#4a4a4a" stroke-width="1.2"/>
<circle cx="1292.0" cy="1109.2" r="142.3" fill="none" stroke="#666" stroke-width="1.5"/>
<circle cx="1292.0" cy="1109.2" r="138.8" fill="none" stroke="#484848" stroke-width="1.3"/>
<circle cx="1292.0" cy="1109.2" r="126.3" fill="none" stroke="#242424" stroke-width="3"/>
<path d="M1432.1,1190.1A161.8,161.8 0 0 1 1382.5,1243.3M1416.5,1178.2A142.3,142.3 0 0 1 1369.5,1228.5M1201.5,1243.3A161.8,161.8 0 0 1 1151.9,1190.1M1214.5,1228.5A142.3,142.3 0 0 1 1167.5,1178.2M1151.9,1028.3A161.8,161.8 0 0 1 1201.5,975.1M1167.5,1040.2A142.3,142.3 0 0 1 1214.5,989.9M1382.5,975.1A161.8,161.8 0 0 1 1432.1,1028.3M1369.5,989.9A142.3,142.3 0 0 1 1416.5,1040.2" fill="none" stroke="#fff" stroke-width="3.4" stroke-linecap="round" filter="url(#blur1)" opacity="0.95"/>
<path d="M1418.8,1204.8A158.8,158.8 0 0 1 1396.2,1229.0M1405.7,1188.8A138.8,138.8 0 0 1 1379.3,1217.1M1406.9,1209.1A152.3,152.3 0 0 1 1399.7,1216.9M1187.8,1229.0A158.8,158.8 0 0 1 1165.2,1204.8M1204.7,1217.1A138.8,138.8 0 0 1 1178.3,1188.8M1184.3,1216.9A152.3,152.3 0 0 1 1177.1,1209.1M1165.2,1013.6A158.8,158.8 0 0 1 1187.8,989.4M1178.3,1029.6A138.8,138.8 0 0 1 1204.7,1001.3M1177.1,1009.3A152.3,152.3 0 0 1 1184.3,1001.5M1396.2,989.4A158.8,158.8 0 0 1 1418.8,1013.6M1379.3,1001.3A138.8,138.8 0 0 1 1405.7,1029.6M1399.7,1001.5A152.3,152.3 0 0 1 1406.9,1009.3" fill="none" stroke="#fff" stroke-width="2.3" stroke-linecap="round" filter="url(#blur1)" opacity="0.7"/>
<circle cx="1331.0" cy="1130.3" r="2.6" fill="#0a0a0a" filter="url(#blur1)"/>
<rect x="1127.3" y="950.3" width="328.8" height="321.1" fill="#fff" filter="url(#grain)" opacity="0.5"/>
<path d="M1200.0,1068.8C1200.4,1065.1 1203.2,1058.5 1205.7,1055.7C1208.2,1052.9 1212.2,1051.3 1215.1,1051.9C1217.9,1052.6 1221.6,1056.3 1222.6,1059.4C1223.5,1062.6 1222.2,1067.6 1220.7,1070.7C1219.1,1073.8 1216.0,1077.0 1213.2,1078.2C1210.4,1079.5 1206.0,1079.8 1203.8,1078.2C1201.6,1076.6 1199.7,1072.6 1200.0,1068.8Z" fill="#222" stroke="#222" stroke-width="6" stroke-linejoin="round"/>
<path d="M1200.0,1068.8C1200.4,1065.1 1203.2,1058.5 1205.7,1055.7C1208.2,1052.9 1212.2,1051.3 1215.1,1051.9C1217.9,1052.6 1221.6,1056.3 1222.6,1059.4C1223.5,1062.6 1222.2,1067.6 1220.7,1070.7C1219.1,1073.8 1216.0,1077.0 1213.2,1078.2C1210.4,1079.5 1206.0,1079.8 1203.8,1078.2C1201.6,1076.6 1199.7,1072.6 1200.0,1068.8Z" fill="url(#gG)"/>
<defs><path id="s83" d="M1256.3,1080.1C1255.7,1077.5 1262.7,1068.1 1263.8,1065.1C1264.9,1062.0 1264.4,1056.6 1265.7,1053.8C1267.0,1051.1 1272.7,1042.1 1275.1,1041.6C1277.5,1041.2 1283.7,1048.8 1286.3,1050.1C1289.0,1051.4 1295.6,1054.6 1297.6,1052.9C1299.6,1051.1 1301.6,1038.4 1303.2,1035.1C1304.9,1031.7 1309.5,1024.5 1311.7,1023.8C1313.9,1023.1 1319.5,1028.1 1322.0,1029.4C1324.5,1030.7 1330.6,1034.8 1333.2,1035.1C1335.9,1035.3 1342.5,1030.4 1344.5,1031.3C1346.5,1032.2 1348.8,1039.7 1350.1,1042.6C1351.4,1045.4 1355.5,1052.8 1355.8,1055.7C1356.0,1058.5 1354.2,1064.3 1352.0,1066.9C1349.8,1069.6 1340.3,1075.7 1337.0,1078.2C1333.7,1080.7 1326.3,1088.5 1323.9,1088.5C1321.5,1088.5 1318.1,1078.1 1316.4,1078.2C1314.6,1078.3 1311.3,1087.3 1308.9,1089.5C1306.4,1091.6 1298.8,1096.7 1295.7,1097.0C1292.7,1097.2 1285.7,1092.4 1282.6,1091.3C1279.5,1090.2 1272.5,1088.9 1269.5,1087.6C1266.4,1086.3 1257.0,1082.7 1256.3,1080.1Z"/><clipPath id="cs83"><use href="#s83"/></clipPath></defs>
<use href="#s83" fill="#333" stroke="#333" stroke-width="5" stroke-linejoin="round"/>
<g clip-path="url(#cs83)"><use href="#s83" fill="#900808"/><use href="#s83" fill="#520404" filter="url(#blur4)" transform="translate(1307.2 1060.7) scale(0.5) translate(-1307.2 -1060.7)"/><use href="#s83" fill="none" stroke="#a40a08" stroke-width="22" stroke-linejoin="round" filter="url(#blur3)"/><use href="#s83" fill="none" stroke="#c00e08" stroke-width="13" stroke-linejoin="round" filter="url(#blur2)"/><use href="#s83" fill="none" stroke="#e82408" stroke-width="7.5" stroke-linejoin="round" filter="url(#blur1)"/><use href="#s83" fill="none" stroke="#ff7a00" stroke-width="3.8" stroke-linejoin="round" filter="url(#blur1)"/><use href="#s83" fill="none" stroke="#ffe800" stroke-width="1.7" stroke-linejoin="round"/></g>
<defs><path id="s84" d="M1395.2,1040.7C1397.7,1035.8 1401.7,1035.7 1404.5,1036.0C1407.3,1036.3 1410.2,1038.3 1412.0,1042.6C1413.9,1046.8 1415.3,1054.1 1415.8,1061.3C1416.3,1068.5 1415.6,1077.6 1414.8,1085.7C1414.1,1093.8 1413.1,1104.3 1411.1,1110.1C1409.1,1115.9 1406.6,1118.5 1402.7,1120.4C1398.7,1122.3 1391.7,1122.1 1387.6,1121.4C1383.6,1120.6 1379.8,1118.9 1378.3,1115.7C1376.7,1112.6 1377.3,1107.6 1378.3,1102.6C1379.2,1097.6 1382.0,1092.0 1383.9,1085.7C1385.8,1079.5 1387.6,1072.6 1389.5,1065.1C1391.4,1057.6 1392.7,1045.5 1395.2,1040.7Z"/><clipPath id="cs84"><use href="#s84"/></clipPath></defs>
<use href="#s84" fill="#333" stroke="#333" stroke-width="5" stroke-linejoin="round"/>
<g clip-path="url(#cs84)"><use href="#s84" fill="#ff6c00"/><use href="#s84" fill="#ff5000" filter="url(#blur4)" transform="translate(1397.8 1082.3) scale(0.5) translate(-1397.8 -1082.3)"/><use href="#s84" fill="none" stroke="#ff8400" stroke-width="18" stroke-linejoin="round" filter="url(#blur3)"/><use href="#s84" fill="none" stroke="#ffa200" stroke-width="9" stroke-linejoin="round" filter="url(#blur2)"/><use href="#s84" fill="none" stroke="#ffc800" stroke-width="4.4" stroke-linejoin="round" filter="url(#blur1)"/><use href="#s84" fill="none" stroke="#ffee00" stroke-width="2.0" stroke-linejoin="round"/></g>
<defs><path id="s85" d="M1193.5,1148.6C1194.2,1147.7 1200.9,1146.7 1203.8,1146.7C1206.7,1146.7 1212.6,1147.6 1215.1,1148.6C1217.6,1149.6 1220.6,1152.1 1222.6,1154.2C1224.6,1156.3 1230.1,1162.5 1230.1,1164.5C1230.1,1166.5 1224.3,1168.2 1222.6,1169.2C1220.8,1170.2 1217.4,1170.1 1216.9,1172.0C1216.4,1173.9 1219.1,1180.8 1218.8,1183.3C1218.6,1185.8 1217.1,1189.5 1215.1,1190.8C1213.1,1192.0 1205.8,1193.1 1203.8,1192.6C1201.8,1192.1 1200.0,1189.5 1200.0,1187.0C1200.0,1184.5 1203.5,1177.4 1203.8,1173.9C1204.1,1170.4 1202.7,1163.5 1201.9,1160.7C1201.2,1158.0 1199.3,1154.9 1198.2,1153.2C1197.0,1151.6 1192.7,1149.4 1193.5,1148.6Z"/><clipPath id="cs85"><use href="#s85"/></clipPath></defs>
<use href="#s85" fill="#8a8a8a" stroke="#8a8a8a" stroke-width="5" stroke-linejoin="round"/>
<g clip-path="url(#cs85)"><use href="#s85" fill="#f43a04"/><use href="#s85" fill="#e01c04" filter="url(#blur4)" transform="translate(1210.4 1167.5) scale(0.5) translate(-1210.4 -1167.5)"/><use href="#s85" fill="none" stroke="#ff6404" stroke-width="15" stroke-linejoin="round" filter="url(#blur3)"/><use href="#s85" fill="none" stroke="#ff9600" stroke-width="8" stroke-linejoin="round" filter="url(#blur2)"/><use href="#s85" fill="none" stroke="#ffc600" stroke-width="4.2" stroke-linejoin="round" filter="url(#blur1)"/><use href="#s85" fill="none" stroke="#fff000" stroke-width="2.0" stroke-linejoin="round"/></g>
<ellipse cx="1281.7" cy="1171.1" rx="13.9" ry="20.4" fill="#222"/>
<ellipse cx="1281.7" cy="1171.1" rx="11.3" ry="17.8" fill="url(#gG)"/>
<ellipse cx="1309.8" cy="1173.9" rx="12.9" ry="19.5" fill="#222"/>
<ellipse cx="1309.8" cy="1173.9" rx="10.3" ry="16.9" fill="url(#gG)"/>
<ellipse cx="1282.6" cy="1171.1" rx="7.5" ry="9.8" transform="rotate(10 1282.6 1171.1)" fill="#ffee00"/>
<ellipse cx="1310.4" cy="1172.0" rx="7.5" ry="9.8" fill="#ffee00"/>
<defs><path id="s90" d="M1367.0,1151.4C1368.1,1147.9 1372.0,1145.3 1376.4,1143.9C1380.8,1142.5 1388.3,1142.3 1393.3,1142.9C1398.3,1143.6 1403.4,1144.6 1406.4,1147.6C1409.4,1150.6 1410.6,1155.1 1411.1,1160.7C1411.6,1166.4 1410.6,1176.7 1409.2,1181.4C1407.8,1186.1 1406.3,1187.9 1402.7,1188.9C1399.1,1189.8 1392.0,1188.9 1387.6,1187.0C1383.3,1185.1 1379.4,1181.4 1376.4,1177.6C1373.4,1173.9 1371.4,1168.9 1369.8,1164.5C1368.3,1160.1 1365.9,1154.8 1367.0,1151.4Z"/><clipPath id="cs90"><use href="#s90"/></clipPath></defs>
<use href="#s90" fill="#333" stroke="#333" stroke-width="5" stroke-linejoin="round"/>
<g clip-path="url(#cs90)"><use href="#s90" fill="#7a0606"/><use href="#s90" fill="#3e0303" filter="url(#blur4)" transform="translate(1390.0 1164.6) scale(0.5) translate(-1390.0 -1164.6)"/><use href="#s90" fill="none" stroke="#a80a08" stroke-width="22" stroke-linejoin="round" filter="url(#blur3)"/><use href="#s90" fill="none" stroke="#dc1c0a" stroke-width="14" stroke-linejoin="round" filter="url(#blur2)"/><use href="#s90" fill="none" stroke="#ff4e0a" stroke-width="8" stroke-linejoin="round" filter="url(#blur2)"/><use href="#s90" fill="none" stroke="#ff9a00" stroke-width="4.2" stroke-linejoin="round" filter="url(#blur1)"/><use href="#s90" fill="none" stroke="#ffe400" stroke-width="1.9" stroke-linejoin="round"/></g>
<text x="1199.7" y="1014.4" font-size="27.6" font-weight="bold" fill="#fff" textLength="19.9" lengthAdjust="spacingAndGlyphs">H</text>
<text x="1287.0" y="1014.4" font-size="27.6" font-weight="bold" fill="#fff" textLength="24.5" lengthAdjust="spacingAndGlyphs">Li</text>
<text x="1388.7" y="1013.8" font-size="27.6" font-weight="bold" fill="#fff" textLength="18.4" lengthAdjust="spacingAndGlyphs">S</text>
<text x="1194.2" y="1222.3" font-size="27.6" font-weight="bold" fill="#fff" textLength="33.7" lengthAdjust="spacingAndGlyphs">Lu</text>
<text x="1293.9" y="1222.3" font-size="27.6" font-weight="bold" fill="#fff" textLength="19.9" lengthAdjust="spacingAndGlyphs">K</text>
<text x="1385.5" y="1222.3" font-size="27.6" font-weight="bold" fill="#fff" textLength="16.9" lengthAdjust="spacingAndGlyphs">T</text>
</g>
<clipPath id="cp10"><rect x="1464.0" y="947.3" width="327.2" height="323.2"/></clipPath>
<g clip-path="url(#cp10)">
<rect x="1464.0" y="947.3" width="327.2" height="323.2" fill="#212121" />
<rect x="1498.6" y="987.0" width="262.0" height="252.3" fill="#1e1e1e" stroke="#171717" stroke-width="1.4"/>
<circle cx="1628.0" cy="1106.7" r="161.7" fill="#262626"/>
<circle cx="1628.0" cy="1106.7" r="141.7" fill="#1f1f1f"/>
<circle cx="1628.0" cy="1106.7" r="159.2" fill="none" stroke="#3c3c3c" stroke-width="5"/>
<circle cx="1628.0" cy="1106.7" r="161.2" fill="none" stroke="#686868" stroke-width="1.5"/>
<circle cx="1628.0" cy="1106.7" r="155.7" fill="none" stroke="#4a4a4a" stroke-width="1.2"/>
<circle cx="1628.0" cy="1106.7" r="141.7" fill="none" stroke="#666" stroke-width="1.5"/>
<circle cx="1628.0" cy="1106.7" r="138.2" fill="none" stroke="#484848" stroke-width="1.3"/>
<circle cx="1628.0" cy="1106.7" r="125.7" fill="none" stroke="#242424" stroke-width="3"/>
<path d="M1767.6,1187.3A161.2,161.2 0 0 1 1718.1,1240.3M1751.9,1175.4A141.7,141.7 0 0 1 1705.2,1225.5M1537.9,1240.3A161.2,161.2 0 0 1 1488.4,1187.3M1550.8,1225.5A141.7,141.7 0 0 1 1504.1,1175.4M1488.4,1026.1A161.2,161.2 0 0 1 1537.9,973.1M1504.1,1038.0A141.7,141.7 0 0 1 1550.8,987.9M1718.1,973.1A161.2,161.2 0 0 1 1767.6,1026.1M1705.2,987.9A141.7,141.7 0 0 1 1751.9,1038.0" fill="none" stroke="#fff" stroke-width="3.4" stroke-linecap="round" filter="url(#blur1)" opacity="0.95"/>
<path d="M1754.3,1201.9A158.2,158.2 0 0 1 1731.8,1226.1M1741.2,1186.0A138.2,138.2 0 0 1 1715.0,1214.1M1742.5,1206.2A151.7,151.7 0 0 1 1735.3,1214.0M1524.2,1226.1A158.2,158.2 0 0 1 1501.7,1201.9M1541.0,1214.1A138.2,138.2 0 0 1 1514.8,1186.0M1520.7,1214.0A151.7,151.7 0 0 1 1513.5,1206.2M1501.7,1011.5A158.2,158.2 0 0 1 1524.2,987.3M1514.8,1027.4A138.2,138.2 0 0 1 1541.0,999.3M1513.5,1007.2A151.7,151.7 0 0 1 1520.7,999.4M1731.8,987.3A158.2,158.2 0 0 1 1754.3,1011.5M1715.0,999.3A138.2,138.2 0 0 1 1741.2,1027.4M1735.3,999.4A151.7,151.7 0 0 1 1742.5,1007.2" fill="none" stroke="#fff" stroke-width="2.3" stroke-linecap="round" filter="url(#blur1)" opacity="0.7"/>
<circle cx="1666.8" cy="1127.7" r="2.6" fill="#0a0a0a" filter="url(#blur1)"/>
<rect x="1464.0" y="947.3" width="327.2" height="323.2" fill="#fff" filter="url(#grain)" opacity="0.5"/>
<path d="M1516.0,1080.1C1515.8,1076.0 1517.7,1073.0 1519.7,1070.7C1521.8,1068.4 1525.7,1065.7 1528.2,1066.0C1530.7,1066.3 1533.5,1069.3 1534.7,1072.6C1536.0,1075.9 1536.5,1081.8 1535.7,1085.7C1534.9,1089.6 1532.5,1094.5 1530.0,1096.0C1527.5,1097.6 1523.0,1097.7 1520.7,1095.1C1518.3,1092.4 1516.1,1084.1 1516.0,1080.1Z" fill="#222" stroke="#222" stroke-width="6" stroke-linejoin="round"/>
<path d="M1516.0,1080.1C1515.8,1076.0 1517.7,1073.0 1519.7,1070.7C1521.8,1068.4 1525.7,1065.7 1528.2,1066.0C1530.7,1066.3 1533.5,1069.3 1534.7,1072.6C1536.0,1075.9 1536.5,1081.8 1535.7,1085.7C1534.9,1089.6 1532.5,1094.5 1530.0,1096.0C1527.5,1097.6 1523.0,1097.7 1520.7,1095.1C1518.3,1092.4 1516.1,1084.1 1516.0,1080.1Z" fill="url(#gG)"/>
<defs><path id="s92" d="M1578.8,1046.3C1579.6,1043.7 1584.0,1038.6 1586.3,1036.9C1588.7,1035.3 1593.1,1034.4 1595.7,1034.7C1598.3,1034.9 1601.7,1038.2 1605.1,1038.8C1608.5,1039.4 1615.4,1038.5 1620.1,1038.8C1624.8,1039.1 1634.1,1040.2 1638.9,1040.7C1643.6,1041.2 1651.1,1041.8 1653.9,1042.6C1656.6,1043.3 1657.4,1043.9 1658.6,1046.3C1659.7,1048.7 1661.0,1055.8 1662.3,1059.4C1663.6,1063.1 1667.7,1068.9 1667.9,1072.6C1668.2,1076.3 1666.2,1083.1 1664.2,1085.7C1662.2,1088.3 1657.7,1090.0 1653.9,1091.3C1650.1,1092.6 1641.7,1094.4 1637.0,1095.1C1632.3,1095.7 1624.0,1096.0 1620.1,1096.0C1616.2,1096.0 1611.5,1096.3 1608.8,1095.1C1606.2,1093.9 1602.9,1089.9 1601.3,1087.6C1599.8,1085.2 1599.9,1080.0 1597.6,1078.2C1595.2,1076.4 1587.3,1076.3 1584.5,1074.5C1581.6,1072.6 1577.5,1067.7 1576.9,1065.1C1576.4,1062.4 1580.4,1058.3 1580.7,1055.7C1581.0,1053.1 1578.0,1048.9 1578.8,1046.3Z"/><clipPath id="cs92"><use href="#s92"/></clipPath></defs>
<use href="#s92" fill="#333" stroke="#333" stroke-width="5" stroke-linejoin="round"/>
<g clip-path="url(#cs92)"><use href="#s92" fill="#e00c06"/><use href="#s92" fill="none" stroke="#f41a08" stroke-width="26" stroke-linejoin="round" filter="url(#blur3)"/><use href="#s92" fill="none" stroke="#ff3c08" stroke-width="15" stroke-linejoin="round" filter="url(#blur3)"/><use href="#s92" fill="none" stroke="#ff6c04" stroke-width="8" stroke-linejoin="round" filter="url(#blur2)"/><use href="#s92" fill="none" stroke="#ffa400" stroke-width="4.2" stroke-linejoin="round" filter="url(#blur1)"/><use href="#s92" fill="none" stroke="#ffec00" stroke-width="1.9" stroke-linejoin="round"/></g>
<ellipse cx="1601.3" cy="1062.3" rx="10.3" ry="9.4" fill="#a00000"/>
<defs><path id="s94" d="M1698.9,1021.9C1699.7,1016.6 1703.0,1015.7 1705.5,1014.4C1708.0,1013.2 1711.6,1012.9 1713.9,1014.4C1716.2,1016.0 1717.6,1019.1 1719.5,1023.8C1721.4,1028.5 1723.0,1036.3 1725.2,1042.6C1727.3,1048.8 1730.5,1055.4 1732.7,1061.3C1734.8,1067.3 1737.0,1072.6 1738.3,1078.2C1739.5,1083.8 1740.8,1090.1 1740.2,1095.1C1739.5,1100.1 1737.3,1105.1 1734.5,1108.2C1731.7,1111.3 1727.0,1113.8 1723.3,1113.8C1719.5,1113.8 1714.8,1112.0 1712.0,1108.2C1709.2,1104.5 1707.6,1097.9 1706.4,1091.3C1705.1,1084.8 1705.5,1076.3 1704.5,1068.8C1703.6,1061.3 1701.7,1054.1 1700.8,1046.3C1699.8,1038.5 1698.1,1027.2 1698.9,1021.9Z"/><clipPath id="cs94"><use href="#s94"/></clipPath></defs>
<use href="#s94" fill="#333" stroke="#333" stroke-width="5" stroke-linejoin="round"/>
<g clip-path="url(#cs94)"><use href="#s94" fill="#fc3006"/><use href="#s94" fill="#f81c04" filter="url(#blur4)" transform="translate(1718.3 1063.5) scale(0.5) translate(-1718.3 -1063.5)"/><use href="#s94" fill="none" stroke="#ff5006" stroke-width="20" stroke-linejoin="round" filter="url(#blur3)"/><use href="#s94" fill="none" stroke="#ff7600" stroke-width="11" stroke-linejoin="round" filter="url(#blur2)"/><use href="#s94" fill="none" stroke="#ffa400" stroke-width="5" stroke-linejoin="round" filter="url(#blur1)"/><use href="#s94" fill="none" stroke="#ffe600" stroke-width="2.0" stroke-linejoin="round"/></g>
<defs><path id="s95" d="M1511.3,1160.7C1510.8,1157.7 1513.5,1153.0 1515.0,1151.4C1516.5,1149.7 1520.5,1148.1 1522.5,1148.6C1524.5,1149.1 1528.3,1152.5 1530.0,1155.1C1531.8,1157.7 1533.4,1168.3 1535.7,1168.3C1537.9,1168.3 1543.7,1157.9 1546.9,1155.1C1550.2,1152.4 1556.8,1148.9 1560.1,1147.6C1563.3,1146.4 1569.7,1145.0 1571.3,1145.7C1572.9,1146.5 1573.3,1150.7 1572.3,1153.2C1571.3,1155.7 1566.4,1162.0 1563.8,1164.5C1561.2,1167.0 1554.8,1169.8 1552.6,1172.0C1550.3,1174.3 1548.3,1178.8 1546.9,1181.4C1545.6,1184.0 1543.7,1190.6 1542.2,1191.7C1540.7,1192.8 1537.6,1191.5 1535.7,1189.8C1533.8,1188.2 1530.4,1181.6 1528.2,1179.5C1525.9,1177.4 1521.0,1176.4 1518.8,1173.9C1516.5,1171.4 1511.8,1163.7 1511.3,1160.7Z"/><clipPath id="cs95"><use href="#s95"/></clipPath></defs>
<use href="#s95" fill="#a0a0a0" stroke="#a0a0a0" stroke-width="5" stroke-linejoin="round"/>
<g clip-path="url(#cs95)"><use href="#s95" fill="#ff9000"/><use href="#s95" fill="#ff7c00" filter="url(#blur4)" transform="translate(1540.8 1164.9) scale(0.5) translate(-1540.8 -1164.9)"/><use href="#s95" fill="none" stroke="#ffa600" stroke-width="18" stroke-linejoin="round" filter="url(#blur3)"/><use href="#s95" fill="none" stroke="#ffc000" stroke-width="10" stroke-linejoin="round" filter="url(#blur2)"/><use href="#s95" fill="none" stroke="#ffdc00" stroke-width="5" stroke-linejoin="round" filter="url(#blur1)"/><use href="#s95" fill="none" stroke="#fff000" stroke-width="2.0" stroke-linejoin="round"/></g>
<ellipse cx="1614.5" cy="1171.1" rx="13.9" ry="20.4" fill="#202020"/>
<ellipse cx="1614.5" cy="1171.1" rx="11.3" ry="17.8" fill="url(#gG)"/>
<ellipse cx="1641.7" cy="1172.0" rx="13.9" ry="20.4" fill="#202020"/>
<ellipse cx="1641.7" cy="1172.0" rx="11.3" ry="17.8" fill="url(#gG)"/>
<defs><path id="s98" d="M1685.8,1172.0C1685.9,1168.3 1687.3,1162.6 1689.5,1158.9C1691.7,1155.1 1695.1,1151.5 1698.9,1149.5C1702.6,1147.5 1707.3,1147.3 1712.0,1146.7C1716.7,1146.1 1723.7,1144.3 1727.0,1145.7C1730.3,1147.1 1731.1,1150.7 1731.7,1155.1C1732.3,1159.5 1731.9,1167.3 1730.8,1172.0C1729.7,1176.7 1728.3,1180.3 1725.2,1183.3C1722.0,1186.2 1716.7,1189.0 1712.0,1189.8C1707.3,1190.6 1700.9,1189.4 1697.0,1188.0C1693.1,1186.5 1690.4,1184.0 1688.6,1181.4C1686.7,1178.7 1685.6,1175.8 1685.8,1172.0Z"/><clipPath id="cs98"><use href="#s98"/></clipPath></defs>
<use href="#s98" fill="#333" stroke="#333" stroke-width="5" stroke-linejoin="round"/>
<g clip-path="url(#cs98)"><use href="#s98" fill="#f04004"/><use href="#s98" fill="#a00a04" filter="url(#blur4)" transform="translate(1709.0 1167.5) scale(0.5) translate(-1709.0 -1167.5)"/><use href="#s98" fill="none" stroke="#ff6404" stroke-width="16" stroke-linejoin="round" filter="url(#blur3)"/><use href="#s98" fill="none" stroke="#ff8e00" stroke-width="9" stroke-linejoin="round" filter="url(#blur2)"/><use href="#s98" fill="none" stroke="#ffb800" stroke-width="4.6" stroke-linejoin="round" filter="url(#blur1)"/><use href="#s98" fill="none" stroke="#ffec00" stroke-width="2.2" stroke-linejoin="round"/></g>
<text x="1523.2" y="1011.0" font-size="27.6" font-weight="bold" fill="#fff" textLength="19.9" lengthAdjust="spacingAndGlyphs">H</text>
<text x="1613.6" y="1011.0" font-size="27.6" font-weight="bold" fill="#fff" textLength="24.5" lengthAdjust="spacingAndGlyphs">Li</text>
<text x="1715.0" y="1011.0" font-size="27.6" font-weight="bold" fill="#fff" textLength="18.4" lengthAdjust="spacingAndGlyphs">S</text>
<text x="1520.7" y="1218.0" font-size="27.6" font-weight="bold" fill="#fff" textLength="33.7" lengthAdjust="spacingAndGlyphs">Lu</text>
<text x="1621.2" y="1218.0" font-size="27.6" font-weight="bold" fill="#fff" textLength="19.9" lengthAdjust="spacingAndGlyphs">K</text>
<text x="1712.7" y="1218.0" font-size="27.6" font-weight="bold" fill="#fff" textLength="16.9" lengthAdjust="spacingAndGlyphs">T</text>
</g>
<text x="-0.8" y="592.0" font-size="28.5" font-weight="bold" fill="#231815" textLength="17.4" lengthAdjust="spacingAndGlyphs">d</text>
<text x="44.6" y="786.0" font-size="28.18" font-weight="bold" fill="#231815" textLength="40.7" lengthAdjust="spacingAndGlyphs">4 h</text>
<text x="39.0" y="1106.6" font-size="28.51" font-weight="bold" fill="#231815" textLength="57.1" lengthAdjust="spacingAndGlyphs">12 h</text>
<text x="196.6" y="1317.0" font-size="28.73" font-weight="bold" fill="#231815" textLength="170.7" lengthAdjust="spacingAndGlyphs">DiR-solution</text>
<text x="487.7" y="1317.0" font-size="28.53" font-weight="bold" fill="#231815" textLength="265.8" lengthAdjust="spacingAndGlyphs">DTX-STeS-DTX NPs</text>
<text x="824.4" y="1317.0" font-size="28.46" font-weight="bold" fill="#231815" textLength="268.8" lengthAdjust="spacingAndGlyphs">DTX-SSeS-DTX NPs</text>
<text x="1168.2" y="1317.0" font-size="28.43" font-weight="bold" fill="#231815" textLength="252.8" lengthAdjust="spacingAndGlyphs">DTX-SSS-DTX NPs</text>
<text x="1505.7" y="1317.0" font-size="28.55" font-weight="bold" fill="#231815" textLength="255.4" lengthAdjust="spacingAndGlyphs">DTX-SCS-DTX NPs</text>
<defs><linearGradient id="cbar" x1="0" y1="0" x2="0" y2="1">
<stop offset="0" stop-color="#3c0507"/><stop offset="0.082" stop-color="#56090c"/><stop offset="0.164" stop-color="#7a181c"/>
<stop offset="0.25" stop-color="#992024"/><stop offset="0.327" stop-color="#b62126"/><stop offset="0.372" stop-color="#cc161c"/>
<stop offset="0.4" stop-color="#de0a10"/><stop offset="0.43" stop-color="#e41a1a"/><stop offset="0.492" stop-color="#e62222"/>
<stop offset="0.57" stop-color="#e63a1e"/><stop offset="0.655" stop-color="#e8541e"/><stop offset="0.735" stop-color="#ee7c1e"/>
<stop offset="0.818" stop-color="#f5a21a"/><stop offset="0.87" stop-color="#fcc80c"/><stop offset="0.9" stop-color="#ffd800"/>
<stop offset="0.935" stop-color="#ffee00"/><stop offset="0.97" stop-color="#f6ea18"/><stop offset="1" stop-color="#f4e81c"/>
</linearGradient></defs>
<rect x="1876.2" y="603.6" width="18.8" height="651.4" fill="url(#cbar)" stroke="#3a1010" stroke-width="0.8"/>
<line x1="1895.0" y1="603.6" x2="1906.8" y2="603.6" stroke="#111" stroke-width="1.2" />
<line x1="1895.0" y1="625.0" x2="1902.0" y2="625.0" stroke="#111" stroke-width="1.2" />
<line x1="1895.0" y1="646.3" x2="1902.0" y2="646.3" stroke="#111" stroke-width="1.2" />
<line x1="1895.0" y1="667.7" x2="1902.0" y2="667.7" stroke="#111" stroke-width="1.2" />
<line x1="1895.0" y1="689.0" x2="1902.0" y2="689.0" stroke="#111" stroke-width="1.2" />
<line x1="1895.0" y1="710.4" x2="1906.8" y2="710.4" stroke="#111" stroke-width="1.2" />
<line x1="1895.0" y1="731.8" x2="1902.0" y2="731.8" stroke="#111" stroke-width="1.2" />
<line x1="1895.0" y1="753.1" x2="1902.0" y2="753.1" stroke="#111" stroke-width="1.2" />
<line x1="1895.0" y1="774.5" x2="1902.0" y2="774.5" stroke="#111" stroke-width="1.2" />
<line x1="1895.0" y1="795.8" x2="1902.0" y2="795.8" stroke="#111" stroke-width="1.2" />
<line x1="1895.0" y1="817.2" x2="1906.8" y2="817.2" stroke="#111" stroke-width="1.2" />
<line x1="1895.0" y1="838.6" x2="1902.0" y2="838.6" stroke="#111" stroke-width="1.2" />
<line x1="1895.0" y1="859.9" x2="1902.0" y2="859.9" stroke="#111" stroke-width="1.2" />
<line x1="1895.0" y1="881.3" x2="1902.0" y2="881.3" stroke="#111" stroke-width="1.2" />
<line x1="1895.0" y1="902.6" x2="1902.0" y2="902.6" stroke="#111" stroke-width="1.2" />
<line x1="1895.0" y1="924.0" x2="1906.8" y2="924.0" stroke="#111" stroke-width="1.2" />
<line x1="1895.0" y1="945.4" x2="1902.0" y2="945.4" stroke="#111" stroke-width="1.2" />
<line x1="1895.0" y1="966.7" x2="1902.0" y2="966.7" stroke="#111" stroke-width="1.2" />
<line x1="1895.0" y1="988.1" x2="1902.0" y2="988.1" stroke="#111" stroke-width="1.2" />
<line x1="1895.0" y1="1009.4" x2="1902.0" y2="1009.4" stroke="#111" stroke-width="1.2" />
<line x1="1895.0" y1="1030.8" x2="1906.8" y2="1030.8" stroke="#111" stroke-width="1.2" />
<line x1="1895.0" y1="1052.2" x2="1902.0" y2="1052.2" stroke="#111" stroke-width="1.2" />
<line x1="1895.0" y1="1073.5" x2="1902.0" y2="1073.5" stroke="#111" stroke-width="1.2" />
<line x1="1895.0" y1="1094.9" x2="1902.0" y2="1094.9" stroke="#111" stroke-width="1.2" />
<line x1="1895.0" y1="1116.2" x2="1902.0" y2="1116.2" stroke="#111" stroke-width="1.2" />
<line x1="1895.0" y1="1137.6" x2="1906.8" y2="1137.6" stroke="#111" stroke-width="1.2" />
<line x1="1895.0" y1="1159.0" x2="1902.0" y2="1159.0" stroke="#111" stroke-width="1.2" />
<line x1="1895.0" y1="1180.3" x2="1902.0" y2="1180.3" stroke="#111" stroke-width="1.2" />
<line x1="1895.0" y1="1201.7" x2="1902.0" y2="1201.7" stroke="#111" stroke-width="1.2" />
<line x1="1895.0" y1="1223.0" x2="1902.0" y2="1223.0" stroke="#111" stroke-width="1.2" />
<line x1="1895.0" y1="1244.4" x2="1906.8" y2="1244.4" stroke="#111" stroke-width="1.2" />
<text x="1912.0" y="602.8" font-size="15.07" fill="#111" textLength="18.8" lengthAdjust="spacingAndGlyphs" font-family='"Liberation Serif", "DejaVu Serif", serif'>1.6</text>
<text x="1912.0" y="709.6" font-size="14.87" fill="#111" textLength="18.6" lengthAdjust="spacingAndGlyphs" font-family='"Liberation Serif", "DejaVu Serif", serif'>1.4</text>
<text x="1912.0" y="816.4" font-size="15.41" fill="#111" textLength="19.3" lengthAdjust="spacingAndGlyphs" font-family='"Liberation Serif", "DejaVu Serif", serif'>1.2</text>
<text x="1912.0" y="923.2" font-size="15.2" fill="#111" textLength="19.0" lengthAdjust="spacingAndGlyphs" font-family='"Liberation Serif", "DejaVu Serif", serif'>1.0</text>
<text x="1912.7" y="1030.0" font-size="14.62" fill="#111" textLength="18.3" lengthAdjust="spacingAndGlyphs" font-family='"Liberation Serif", "DejaVu Serif", serif'>0.8</text>
<text x="1912.7" y="1136.8" font-size="14.49" fill="#111" textLength="18.1" lengthAdjust="spacingAndGlyphs" font-family='"Liberation Serif", "DejaVu Serif", serif'>0.6</text>
<text x="1912.7" y="1243.6" font-size="14.31" fill="#111" textLength="17.9" lengthAdjust="spacingAndGlyphs" font-family='"Liberation Serif", "DejaVu Serif", serif'>0.4</text>
<text x="1941.7" y="929.5" font-size="14.23" font-weight="bold" fill="#111" textLength="21.3" lengthAdjust="spacingAndGlyphs" font-family='"Liberation Serif", "DejaVu Serif", serif'>x10</text>
<text x="1962.4" y="923.0" font-size="16.93" font-weight="bold" fill="#111" textLength="16.9" lengthAdjust="spacingAndGlyphs" font-family='"Liberation Serif", "DejaVu Serif", serif'>10</text>
<text x="1801.1" y="581.0" font-size="21.6" fill="#111" textLength="178.6" lengthAdjust="spacingAndGlyphs" font-family='"DejaVu Sans", "Liberation Sans", sans-serif'>Epi-fluorescence</text>
<text x="1832.0" y="1293.2" font-size="19.07" fill="#111" textLength="171.1" lengthAdjust="spacingAndGlyphs" font-family='"DejaVu Sans", "Liberation Sans", sans-serif'>Radiant Efficiency</text>
<text x="1843.8" y="1319.0" font-size="18.77" fill="#111" textLength="116.2" lengthAdjust="spacingAndGlyphs" font-family='"DejaVu Sans", "Liberation Sans", sans-serif'>p/sec/cm²/sr</text>
<line x1="1840.5" y1="1324.0" x2="1954.7" y2="1324.0" stroke="#111" stroke-width="1.3" />
<text x="1872.2" y="1343.7" font-size="19.12" fill="#111" textLength="74.3" lengthAdjust="spacingAndGlyphs" font-family='"DejaVu Sans", "Liberation Sans", sans-serif'>µW/cm²</text>
<text x="1832.5" y="1331.0" font-size="20" fill="#111" font-family='"DejaVu Sans", "Liberation Sans", sans-serif'>(</text>
<text x="1961.0" y="1331.0" font-size="20" fill="#111" font-family='"DejaVu Sans", "Liberation Sans", sans-serif'>)</text>
<path d="M187.5,1783.6V1780.3Q187.5,1778.3 189.5,1778.3H199.1Q201.1,1778.3 201.1,1780.3V1783.6Z" fill="#e7444a"/>
<path d="M200.8,1783.6V1717.0Q200.8,1715.0 202.8,1715.0H212.4Q214.4,1715.0 214.4,1717.0V1783.6Z" fill="#f4a044"/>
<path d="M214.1,1783.6V1707.4Q214.1,1705.4 216.1,1705.4H225.6Q227.6,1705.4 227.6,1707.4V1783.6Z" fill="#3dae3c"/>
<path d="M227.3,1783.6V1711.4Q227.3,1709.4 229.3,1709.4H238.9Q240.9,1709.4 240.9,1711.4V1783.6Z" fill="#1f4fa4"/>
<path d="M240.6,1783.6V1725.5Q240.6,1723.5 242.6,1723.5H252.1Q254.1,1723.5 254.1,1725.5V1783.6Z" fill="#6e2a90"/>
<line x1="194.2" y1="1780.3" x2="194.2" y2="1776.3" stroke="#a01f28" stroke-width="5.0" stroke-linecap="butt" />
<ellipse cx="194.2" cy="1777.3" rx="5.6" ry="3.4" fill="#a01f28"/>
<line x1="207.4" y1="1717.0" x2="207.4" y2="1710.0" stroke="#c8651a" stroke-width="5.0" stroke-linecap="butt" />
<rect x="202.6" y="1718.4" width="5.2" height="5.2" fill="#c8651a" />
<rect x="207.4" y="1716.7" width="5.2" height="5.2" fill="#c8651a" />
<line x1="220.7" y1="1707.4" x2="220.7" y2="1696.0" stroke="#0f6030" stroke-width="5.0" stroke-linecap="butt" />
<polygon points="218.5,1708.8 221.1,1714.0 215.9,1714.0" fill="#0f6030" stroke="none" stroke-width="1" />
<polygon points="223.3,1708.2 225.9,1713.3 220.7,1713.3" fill="#0f6030" stroke="none" stroke-width="1" />
<line x1="234.0" y1="1711.4" x2="234.0" y2="1701.8" stroke="#1e2a6a" stroke-width="5.0" stroke-linecap="butt" />
<polygon points="231.8,1718.0 234.4,1712.8 229.2,1712.8" fill="#1e2a6a" stroke="none" stroke-width="1" />
<polygon points="236.6,1716.9 239.2,1711.7 234.0,1711.7" fill="#1e2a6a" stroke="none" stroke-width="1" />
<line x1="247.2" y1="1725.5" x2="247.2" y2="1717.0" stroke="#3a2355" stroke-width="5.0" stroke-linecap="butt" />
<polygon points="245.0,1726.5 248.0,1729.5 245.0,1732.5 242.0,1729.5" fill="#3a2355" stroke="none" stroke-width="1" />
<polygon points="249.8,1725.1 252.8,1728.1 249.8,1731.1 246.8,1728.1" fill="#3a2355" stroke="none" stroke-width="1" />
<path d="M263.6,1783.6V1675.5Q263.6,1673.5 265.6,1673.5H275.1Q277.1,1673.5 277.1,1675.5V1783.6Z" fill="#e7444a"/>
<path d="M276.8,1783.6V1526.2Q276.8,1524.2 278.8,1524.2H288.4Q290.4,1524.2 290.4,1526.2V1783.6Z" fill="#f4a044"/>
<path d="M290.1,1783.6V1521.4Q290.1,1519.4 292.1,1519.4H301.6Q303.6,1519.4 303.6,1521.4V1783.6Z" fill="#3dae3c"/>
<path d="M303.3,1783.6V1520.6Q303.3,1518.6 305.3,1518.6H314.9Q316.9,1518.6 316.9,1520.6V1783.6Z" fill="#1f4fa4"/>
<path d="M316.6,1783.6V1533.9Q316.6,1531.9 318.6,1531.9H328.2Q330.2,1531.9 330.2,1533.9V1783.6Z" fill="#6e2a90"/>
<line x1="270.2" y1="1675.5" x2="270.2" y2="1658.2" stroke="#a01f28" stroke-width="5.0" stroke-linecap="butt" />
<circle cx="268.0" cy="1681.5" r="2.6" fill="#a01f28"/>
<circle cx="272.8" cy="1680.3" r="2.6" fill="#a01f28"/>
<line x1="283.4" y1="1526.2" x2="283.4" y2="1503.3" stroke="#c8651a" stroke-width="5.0" stroke-linecap="butt" />
<rect x="278.6" y="1529.6" width="5.2" height="5.2" fill="#c8651a" />
<rect x="283.4" y="1529.8" width="5.2" height="5.2" fill="#c8651a" />
<line x1="296.7" y1="1521.4" x2="296.7" y2="1507.0" stroke="#0f6030" stroke-width="5.0" stroke-linecap="butt" />
<polygon points="294.5,1524.8 297.1,1530.0 291.9,1530.0" fill="#0f6030" stroke="none" stroke-width="1" />
<polygon points="299.3,1522.9 301.9,1528.1 296.7,1528.1" fill="#0f6030" stroke="none" stroke-width="1" />
<line x1="310.0" y1="1520.6" x2="310.0" y2="1509.7" stroke="#1e2a6a" stroke-width="5.0" stroke-linecap="butt" />
<polygon points="307.8,1529.2 310.4,1524.0 305.2,1524.0" fill="#1e2a6a" stroke="none" stroke-width="1" />
<polygon points="312.6,1526.4 315.2,1521.2 310.0,1521.2" fill="#1e2a6a" stroke="none" stroke-width="1" />
<line x1="323.2" y1="1533.9" x2="323.2" y2="1516.8" stroke="#3a2355" stroke-width="5.0" stroke-linecap="butt" />
<polygon points="321.0,1536.9 324.0,1539.9 321.0,1542.9 318.0,1539.9" fill="#3a2355" stroke="none" stroke-width="1" />
<polygon points="325.8,1535.7 328.8,1538.7 325.8,1541.7 322.8,1538.7" fill="#3a2355" stroke="none" stroke-width="1" />
<path d="M341.0,1783.6V1669.9Q341.0,1667.9 343.0,1667.9H352.5Q354.5,1667.9 354.5,1669.9V1783.6Z" fill="#e7444a"/>
<path d="M354.2,1783.6V1643.0Q354.2,1641.0 356.2,1641.0H365.8Q367.8,1641.0 367.8,1643.0V1783.6Z" fill="#f4a044"/>
<path d="M367.5,1783.6V1607.4Q367.5,1605.4 369.5,1605.4H379.0Q381.0,1605.4 381.0,1607.4V1783.6Z" fill="#3dae3c"/>
<path d="M380.7,1783.6V1634.0Q380.7,1632.0 382.7,1632.0H392.3Q394.3,1632.0 394.3,1634.0V1783.6Z" fill="#1f4fa4"/>
<path d="M394.0,1783.6V1669.3Q394.0,1667.3 396.0,1667.3H405.6Q407.6,1667.3 407.6,1669.3V1783.6Z" fill="#6e2a90"/>
<line x1="347.6" y1="1669.9" x2="347.6" y2="1662.8" stroke="#a01f28" stroke-width="5.0" stroke-linecap="butt" />
<circle cx="345.4" cy="1673.9" r="2.6" fill="#a01f28"/>
<circle cx="350.2" cy="1672.2" r="2.6" fill="#a01f28"/>
<line x1="360.8" y1="1643.0" x2="360.8" y2="1622.7" stroke="#c8651a" stroke-width="5.0" stroke-linecap="butt" />
<rect x="356.0" y="1644.4" width="5.2" height="5.2" fill="#c8651a" />
<rect x="360.8" y="1646.0" width="5.2" height="5.2" fill="#c8651a" />
<line x1="374.1" y1="1607.4" x2="374.1" y2="1585.5" stroke="#0f6030" stroke-width="5.0" stroke-linecap="butt" />
<polygon points="371.9,1608.8 374.5,1614.0 369.3,1614.0" fill="#0f6030" stroke="none" stroke-width="1" />
<polygon points="376.7,1610.8 379.3,1616.0 374.1,1616.0" fill="#0f6030" stroke="none" stroke-width="1" />
<line x1="387.4" y1="1634.0" x2="387.4" y2="1616.0" stroke="#1e2a6a" stroke-width="5.0" stroke-linecap="butt" />
<polygon points="385.2,1640.6 387.8,1635.4 382.6,1635.4" fill="#1e2a6a" stroke="none" stroke-width="1" />
<polygon points="390.0,1641.6 392.6,1636.4 387.4,1636.4" fill="#1e2a6a" stroke="none" stroke-width="1" />
<line x1="400.6" y1="1669.3" x2="400.6" y2="1657.0" stroke="#3a2355" stroke-width="5.0" stroke-linecap="butt" />
<polygon points="398.4,1670.3 401.4,1673.3 398.4,1676.3 395.4,1673.3" fill="#3a2355" stroke="none" stroke-width="1" />
<polygon points="403.2,1669.9 406.2,1672.9 403.2,1675.9 400.2,1672.9" fill="#3a2355" stroke="none" stroke-width="1" />
<path d="M417.6,1783.6V1706.3Q417.6,1704.3 419.6,1704.3H429.1Q431.1,1704.3 431.1,1706.3V1783.6Z" fill="#e7444a"/>
<path d="M430.8,1783.6V1597.0Q430.8,1595.0 432.8,1595.0H442.4Q444.4,1595.0 444.4,1597.0V1783.6Z" fill="#f4a044"/>
<path d="M444.1,1783.6V1592.8Q444.1,1590.8 446.1,1590.8H455.6Q457.6,1590.8 457.6,1592.8V1783.6Z" fill="#3dae3c"/>
<path d="M457.3,1783.6V1622.7Q457.3,1620.7 459.3,1620.7H468.9Q470.9,1620.7 470.9,1622.7V1783.6Z" fill="#1f4fa4"/>
<path d="M470.6,1783.6V1649.0Q470.6,1647.0 472.6,1647.0H482.2Q484.2,1647.0 484.2,1649.0V1783.6Z" fill="#6e2a90"/>
<line x1="424.2" y1="1706.3" x2="424.2" y2="1677.3" stroke="#a01f28" stroke-width="5.0" stroke-linecap="butt" />
<circle cx="422.0" cy="1712.3" r="2.6" fill="#a01f28"/>
<circle cx="426.8" cy="1714.0" r="2.6" fill="#a01f28"/>
<line x1="437.4" y1="1597.0" x2="437.4" y2="1534.7" stroke="#c8651a" stroke-width="5.0" stroke-linecap="butt" />
<rect x="432.6" y="1600.4" width="5.2" height="5.2" fill="#c8651a" />
<rect x="437.4" y="1610.5" width="5.2" height="5.2" fill="#c8651a" />
<line x1="450.7" y1="1592.8" x2="450.7" y2="1567.0" stroke="#0f6030" stroke-width="5.0" stroke-linecap="butt" />
<polygon points="448.5,1596.2 451.1,1601.4 445.9,1601.4" fill="#0f6030" stroke="none" stroke-width="1" />
<polygon points="453.3,1597.2 455.9,1602.3 450.7,1602.3" fill="#0f6030" stroke="none" stroke-width="1" />
<line x1="464.0" y1="1622.7" x2="464.0" y2="1608.4" stroke="#1e2a6a" stroke-width="5.0" stroke-linecap="butt" />
<polygon points="461.8,1631.3 464.4,1626.1 459.2,1626.1" fill="#1e2a6a" stroke="none" stroke-width="1" />
<polygon points="466.6,1629.4 469.2,1624.2 464.0,1624.2" fill="#1e2a6a" stroke="none" stroke-width="1" />
<line x1="477.2" y1="1649.0" x2="477.2" y2="1634.7" stroke="#3a2355" stroke-width="5.0" stroke-linecap="butt" />
<polygon points="475.0,1652.0 478.0,1655.0 475.0,1658.0 472.0,1655.0" fill="#3a2355" stroke="none" stroke-width="1" />
<polygon points="479.8,1650.1 482.8,1653.1 479.8,1656.1 476.8,1653.1" fill="#3a2355" stroke="none" stroke-width="1" />
<path d="M494.6,1783.6V1780.3Q494.6,1778.3 496.6,1778.3H506.1Q508.1,1778.3 508.1,1780.3V1783.6Z" fill="#e7444a"/>
<path d="M507.8,1783.6V1688.5Q507.8,1686.5 509.8,1686.5H519.4Q521.4,1686.5 521.4,1688.5V1783.6Z" fill="#f4a044"/>
<path d="M521.1,1783.6V1677.0Q521.1,1675.0 523.1,1675.0H532.6Q534.6,1675.0 534.6,1677.0V1783.6Z" fill="#3dae3c"/>
<path d="M534.3,1783.6V1696.6Q534.3,1694.6 536.3,1694.6H545.9Q547.9,1694.6 547.9,1696.6V1783.6Z" fill="#1f4fa4"/>
<path d="M547.6,1783.6V1709.4Q547.6,1707.4 549.6,1707.4H559.1Q561.1,1707.4 561.1,1709.4V1783.6Z" fill="#6e2a90"/>
<line x1="501.2" y1="1780.3" x2="501.2" y2="1775.0" stroke="#a01f28" stroke-width="5.0" stroke-linecap="butt" />
<ellipse cx="501.2" cy="1777.3" rx="5.6" ry="3.4" fill="#a01f28"/>
<line x1="514.4" y1="1688.5" x2="514.4" y2="1672.4" stroke="#c8651a" stroke-width="5.0" stroke-linecap="butt" />
<rect x="509.6" y="1689.9" width="5.2" height="5.2" fill="#c8651a" />
<rect x="514.4" y="1690.4" width="5.2" height="5.2" fill="#c8651a" />
<line x1="527.7" y1="1677.0" x2="527.7" y2="1670.0" stroke="#0f6030" stroke-width="5.0" stroke-linecap="butt" />
<polygon points="525.5,1678.4 528.1,1683.6 522.9,1683.6" fill="#0f6030" stroke="none" stroke-width="1" />
<polygon points="530.3,1676.7 532.9,1681.8 527.7,1681.8" fill="#0f6030" stroke="none" stroke-width="1" />
<line x1="541.0" y1="1696.6" x2="541.0" y2="1687.0" stroke="#1e2a6a" stroke-width="5.0" stroke-linecap="butt" />
<polygon points="538.8,1703.2 541.4,1698.0 536.2,1698.0" fill="#1e2a6a" stroke="none" stroke-width="1" />
<polygon points="543.6,1702.1 546.2,1696.9 541.0,1696.9" fill="#1e2a6a" stroke="none" stroke-width="1" />
<line x1="554.2" y1="1709.4" x2="554.2" y2="1693.4" stroke="#3a2355" stroke-width="5.0" stroke-linecap="butt" />
<polygon points="552.0,1710.4 555.0,1713.4 552.0,1716.4 549.0,1713.4" fill="#3a2355" stroke="none" stroke-width="1" />
<polygon points="556.8,1710.9 559.8,1713.9 556.8,1716.9 553.8,1713.9" fill="#3a2355" stroke="none" stroke-width="1" />
<path d="M571.1,1783.6V1777.0Q571.1,1775.0 573.1,1775.0H582.6Q584.6,1775.0 584.6,1777.0V1783.6Z" fill="#e7444a"/>
<path d="M584.3,1783.6V1684.6Q584.3,1682.6 586.3,1682.6H595.9Q597.9,1682.6 597.9,1684.6V1783.6Z" fill="#f4a044"/>
<path d="M597.6,1783.6V1698.7Q597.6,1696.7 599.6,1696.7H609.1Q611.1,1696.7 611.1,1698.7V1783.6Z" fill="#3dae3c"/>
<path d="M610.8,1783.6V1665.5Q610.8,1663.5 612.8,1663.5H622.4Q624.4,1663.5 624.4,1665.5V1783.6Z" fill="#1f4fa4"/>
<path d="M624.1,1783.6V1669.9Q624.1,1667.9 626.1,1667.9H635.6Q637.6,1667.9 637.6,1669.9V1783.6Z" fill="#6e2a90"/>
<line x1="577.7" y1="1777.0" x2="577.7" y2="1771.0" stroke="#a01f28" stroke-width="5.0" stroke-linecap="butt" />
<ellipse cx="577.7" cy="1774.0" rx="5.6" ry="3.4" fill="#a01f28"/>
<line x1="590.9" y1="1684.6" x2="590.9" y2="1634.0" stroke="#c8651a" stroke-width="5.0" stroke-linecap="butt" />
<rect x="586.1" y="1688.0" width="5.2" height="5.2" fill="#c8651a" />
<rect x="590.9" y="1695.2" width="5.2" height="5.2" fill="#c8651a" />
<line x1="604.2" y1="1698.7" x2="604.2" y2="1665.3" stroke="#0f6030" stroke-width="5.0" stroke-linecap="butt" />
<polygon points="602.0,1702.1 604.6,1707.3 599.4,1707.3" fill="#0f6030" stroke="none" stroke-width="1" />
<polygon points="606.8,1705.0 609.4,1710.2 604.2,1710.2" fill="#0f6030" stroke="none" stroke-width="1" />
<line x1="617.5" y1="1665.5" x2="617.5" y2="1611.2" stroke="#1e2a6a" stroke-width="5.0" stroke-linecap="butt" />
<polygon points="615.3,1674.1 617.9,1668.9 612.7,1668.9" fill="#1e2a6a" stroke="none" stroke-width="1" />
<polygon points="620.1,1682.2 622.7,1677.0 617.5,1677.0" fill="#1e2a6a" stroke="none" stroke-width="1" />
<line x1="630.7" y1="1669.9" x2="630.7" y2="1645.4" stroke="#3a2355" stroke-width="5.0" stroke-linecap="butt" />
<polygon points="628.5,1672.9 631.5,1675.9 628.5,1678.9 625.5,1675.9" fill="#3a2355" stroke="none" stroke-width="1" />
<polygon points="633.3,1673.5 636.3,1676.5 633.3,1679.5 630.3,1676.5" fill="#3a2355" stroke="none" stroke-width="1" />
<line x1="179.7" y1="1465.5" x2="179.7" y2="1785.8" stroke="#000" stroke-width="4.3" />
<line x1="172.7" y1="1783.6" x2="647.2" y2="1783.6" stroke="#000" stroke-width="4.5" />
<line x1="172.7" y1="1467.6" x2="179.7" y2="1467.6" stroke="#000" stroke-width="4.3" />
<line x1="172.7" y1="1573.5" x2="179.7" y2="1573.5" stroke="#000" stroke-width="4.3" />
<line x1="172.7" y1="1678.6" x2="179.7" y2="1678.6" stroke="#000" stroke-width="4.3" />
<line x1="220.7" y1="1783.6" x2="220.7" y2="1791.0" stroke="#000" stroke-width="4.3" />
<line x1="296.7" y1="1783.6" x2="296.7" y2="1791.0" stroke="#000" stroke-width="4.3" />
<line x1="374.1" y1="1783.6" x2="374.1" y2="1791.0" stroke="#000" stroke-width="4.3" />
<line x1="450.7" y1="1783.6" x2="450.7" y2="1791.0" stroke="#000" stroke-width="4.3" />
<line x1="527.7" y1="1783.6" x2="527.7" y2="1791.0" stroke="#000" stroke-width="4.3" />
<line x1="604.2" y1="1783.6" x2="604.2" y2="1791.0" stroke="#000" stroke-width="4.3" />
<text x="72.4" y="1476.5" font-size="26.26" font-weight="bold" textLength="81.1" lengthAdjust="spacingAndGlyphs">1.5×10</text>
<text x="151.6" y="1469.1" font-size="17.0" font-weight="bold" textLength="18.9" lengthAdjust="spacingAndGlyphs">10</text>
<text x="96.7" y="1582.4" font-size="25.21" font-weight="bold" textLength="56.8" lengthAdjust="spacingAndGlyphs">1×10</text>
<text x="151.6" y="1575.0" font-size="17.0" font-weight="bold" textLength="18.9" lengthAdjust="spacingAndGlyphs">10</text>
<text x="103.9" y="1687.8" font-size="22.29" font-weight="bold" textLength="50.2" lengthAdjust="spacingAndGlyphs">5×10</text>
<text x="152.8" y="1680.4" font-size="17.0" font-weight="bold" textLength="9.5" lengthAdjust="spacingAndGlyphs">9</text>
<text x="151.4" y="1792.9" font-size="23.16" font-weight="bold" textLength="12.9" lengthAdjust="spacingAndGlyphs">0</text>
<text x="62.5" y="1799.1" font-size="24.49" font-weight="bold" textLength="359.5" lengthAdjust="spacingAndGlyphs" transform="rotate(-90 62.5 1799.1)" xml:space="preserve"><tspan>Average singnal (p s</tspan><tspan font-size="15.19" dy="-9.31">-1</tspan><tspan dy="9.31"> cm</tspan><tspan font-size="15.19" dy="-9.31">-2</tspan><tspan dy="9.31"> sr</tspan><tspan font-size="15.19" dy="-9.31">-1</tspan><tspan dy="9.31">)</tspan></text>
<text x="229.0" y="1816.0" font-size="25.4" font-weight="bold" text-anchor="end" transform="rotate(-45 229.0 1816.0)" letter-spacing="0.3">Heart</text>
<text x="305.0" y="1816.0" font-size="25.4" font-weight="bold" text-anchor="end" transform="rotate(-45 305.0 1816.0)" letter-spacing="0.3">Liver</text>
<text x="382.4" y="1816.0" font-size="25.4" font-weight="bold" text-anchor="end" transform="rotate(-45 382.4 1816.0)" letter-spacing="0.3">Spleen</text>
<text x="459.0" y="1816.0" font-size="25.4" font-weight="bold" text-anchor="end" transform="rotate(-45 459.0 1816.0)" letter-spacing="0.3">Lung</text>
<text x="536.0" y="1816.0" font-size="25.4" font-weight="bold" text-anchor="end" transform="rotate(-45 536.0 1816.0)" letter-spacing="0.3">Kindey</text>
<text x="612.5" y="1816.0" font-size="25.4" font-weight="bold" text-anchor="end" transform="rotate(-45 612.5 1816.0)" letter-spacing="0.3">Tumor</text>
<rect x="188.3" y="1459.2" width="24.7" height="10.4" fill="#e7444a" />
<rect x="188.3" y="1481.7" width="24.7" height="10.4" fill="#f4a044" />
<rect x="424.9" y="1459.2" width="24.7" height="10.4" fill="#3dae3c" />
<rect x="424.9" y="1481.6" width="24.7" height="10.4" fill="#1f4fa4" />
<rect x="424.9" y="1502.8" width="24.7" height="10.4" fill="#6e2a90" />
<text x="219.1" y="1470.9" font-size="24.57" font-weight="bold" textLength="146.0" lengthAdjust="spacingAndGlyphs">DiR-solution</text>
<text x="219.1" y="1493.9" font-size="24.45" font-weight="bold" textLength="173.4" lengthAdjust="spacingAndGlyphs">DTX-STeS-DTX</text>
<text x="219.1" y="1515.3" font-size="24.62" font-weight="bold" textLength="47.9" lengthAdjust="spacingAndGlyphs">NPs</text>
<text x="455.7" y="1470.9" font-size="24.3" font-weight="bold" textLength="229.6" lengthAdjust="spacingAndGlyphs">DTX-SSeS-DTX NPs</text>
<text x="455.7" y="1492.8" font-size="24.45" font-weight="bold" textLength="217.4" lengthAdjust="spacingAndGlyphs">DTX-SSS-DTX NPs</text>
<text x="455.7" y="1515.0" font-size="24.3" font-weight="bold" textLength="217.4" lengthAdjust="spacingAndGlyphs">DTX-SCS-DTX NPs</text>
<text x="13.2" y="1416.6" font-size="28.5" font-weight="bold" fill="#231815" textLength="15.9" lengthAdjust="spacingAndGlyphs">e</text>
<path d="M867.8,1777.2V1773.2Q867.8,1771.2 869.8,1771.2H881.1Q883.1,1771.2 883.1,1773.2V1777.2Z" fill="#e7444a"/>
<path d="M879.3,1777.2V1733.6Q879.3,1731.6 881.3,1731.6H893.9Q895.9,1731.6 895.9,1733.6V1777.2Z" fill="#f4a044"/>
<path d="M895.9,1777.2V1726.0Q895.9,1724.0 897.9,1724.0H906.1Q908.1,1724.0 908.1,1726.0V1777.2Z" fill="#3dae3c"/>
<path d="M908.1,1777.2V1733.6Q908.1,1731.6 910.1,1731.6H918.3Q920.3,1731.6 920.3,1733.6V1777.2Z" fill="#1f4fa4"/>
<path d="M920.3,1777.2V1746.4Q920.3,1744.4 922.3,1744.4H930.3Q932.3,1744.4 932.3,1746.4V1777.2Z" fill="#6e2a90"/>
<line x1="875.5" y1="1772.2" x2="875.5" y2="1767.5" stroke="#a01f28" stroke-width="2.6" />
<line x1="871.9" y1="1767.5" x2="879.1" y2="1767.5" stroke="#a01f28" stroke-width="2.6" />
<circle cx="872.1" cy="1772.7" r="2.3" fill="#a01f28"/>
<circle cx="878.7" cy="1772.2" r="2.3" fill="#a01f28"/>
<circle cx="875.5" cy="1769.2" r="2.3" fill="#a01f28"/>
<line x1="887.6" y1="1732.6" x2="887.6" y2="1728.6" stroke="#c8651a" stroke-width="2.6" />
<line x1="884.0" y1="1728.6" x2="891.2" y2="1728.6" stroke="#c8651a" stroke-width="2.6" />
<rect x="882.7" y="1735.3" width="4.6" height="4.6" fill="#c8651a" />
<rect x="887.7" y="1731.8" width="4.6" height="4.6" fill="#c8651a" />
<line x1="902.0" y1="1725.0" x2="902.0" y2="1718.9" stroke="#0f6030" stroke-width="2.6" />
<line x1="898.4" y1="1718.9" x2="905.6" y2="1718.9" stroke="#0f6030" stroke-width="2.6" />
<polygon points="899.4,1727.7 901.7,1732.3 897.1,1732.3" fill="#0f6030" stroke="none" stroke-width="1" />
<polygon points="904.4,1724.2 906.7,1728.8 902.1,1728.8" fill="#0f6030" stroke="none" stroke-width="1" />
<line x1="914.2" y1="1732.6" x2="914.2" y2="1725.3" stroke="#1e2a6a" stroke-width="2.6" />
<line x1="910.6" y1="1725.3" x2="917.8" y2="1725.3" stroke="#1e2a6a" stroke-width="2.6" />
<polygon points="911.6,1739.9 913.9,1735.3 909.3,1735.3" fill="#1e2a6a" stroke="none" stroke-width="1" />
<polygon points="916.6,1736.4 918.9,1731.8 914.3,1731.8" fill="#1e2a6a" stroke="none" stroke-width="1" />
<line x1="926.3" y1="1745.4" x2="926.3" y2="1741.0" stroke="#3a2355" stroke-width="2.6" />
<line x1="922.7" y1="1741.0" x2="929.9" y2="1741.0" stroke="#3a2355" stroke-width="2.6" />
<polygon points="923.7,1747.7 926.4,1750.4 923.7,1753.1 921.0,1750.4" fill="#3a2355" stroke="none" stroke-width="1" />
<polygon points="928.7,1744.2 931.4,1746.9 928.7,1749.6 926.0,1746.9" fill="#3a2355" stroke="none" stroke-width="1" />
<path d="M939.5,1777.2V1672.4Q939.5,1670.4 941.5,1670.4H953.8Q955.8,1670.4 955.8,1672.4V1777.2Z" fill="#e7444a"/>
<path d="M951.5,1777.2V1552.5Q951.5,1550.5 953.5,1550.5H966.0Q968.0,1550.5 968.0,1552.5V1777.2Z" fill="#f4a044"/>
<path d="M968.0,1777.2V1560.2Q968.0,1558.2 970.0,1558.2H978.3Q980.3,1558.2 980.3,1560.2V1777.2Z" fill="#3dae3c"/>
<path d="M976.2,1777.2V1544.9Q976.2,1542.9 978.2,1542.9H990.8Q992.8,1542.9 992.8,1544.9V1777.2Z" fill="#1f4fa4"/>
<path d="M992.8,1777.2V1586.2Q992.8,1584.2 994.8,1584.2H1002.5Q1004.5,1584.2 1004.5,1586.2V1777.2Z" fill="#6e2a90"/>
<line x1="947.6" y1="1671.4" x2="947.6" y2="1648.7" stroke="#a01f28" stroke-width="2.6" />
<line x1="944.0" y1="1648.7" x2="951.2" y2="1648.7" stroke="#a01f28" stroke-width="2.6" />
<circle cx="945.0" cy="1676.4" r="2.3" fill="#a01f28"/>
<circle cx="950.0" cy="1672.9" r="2.3" fill="#a01f28"/>
<circle cx="947.6" cy="1650.2" r="2.3" fill="#a01f28"/>
<line x1="959.8" y1="1551.5" x2="959.8" y2="1540.8" stroke="#c8651a" stroke-width="2.6" />
<line x1="956.1" y1="1540.8" x2="963.4" y2="1540.8" stroke="#c8651a" stroke-width="2.6" />
<rect x="954.9" y="1554.2" width="4.6" height="4.6" fill="#c8651a" />
<rect x="959.9" y="1550.7" width="4.6" height="4.6" fill="#c8651a" />
<line x1="974.1" y1="1559.2" x2="974.1" y2="1542.9" stroke="#0f6030" stroke-width="2.6" />
<line x1="970.5" y1="1542.9" x2="977.8" y2="1542.9" stroke="#0f6030" stroke-width="2.6" />
<polygon points="971.5,1561.9 973.8,1566.5 969.2,1566.5" fill="#0f6030" stroke="none" stroke-width="1" />
<polygon points="976.5,1558.4 978.8,1563.0 974.2,1563.0" fill="#0f6030" stroke="none" stroke-width="1" />
<polygon points="974.1,1542.1 976.4,1546.7 971.9,1546.7" fill="#0f6030" stroke="none" stroke-width="1" />
<line x1="984.5" y1="1543.9" x2="984.5" y2="1537.8" stroke="#1e2a6a" stroke-width="2.6" />
<line x1="980.9" y1="1537.8" x2="988.1" y2="1537.8" stroke="#1e2a6a" stroke-width="2.6" />
<polygon points="981.9,1551.2 984.2,1546.6 979.6,1546.6" fill="#1e2a6a" stroke="none" stroke-width="1" />
<polygon points="986.9,1547.7 989.2,1543.1 984.6,1543.1" fill="#1e2a6a" stroke="none" stroke-width="1" />
<line x1="998.6" y1="1585.2" x2="998.6" y2="1579.3" stroke="#3a2355" stroke-width="2.6" />
<line x1="995.0" y1="1579.3" x2="1002.2" y2="1579.3" stroke="#3a2355" stroke-width="2.6" />
<polygon points="996.0,1587.5 998.7,1590.2 996.0,1592.9 993.4,1590.2" fill="#3a2355" stroke="none" stroke-width="1" />
<polygon points="1001.0,1584.0 1003.7,1586.7 1001.0,1589.4 998.4,1586.7" fill="#3a2355" stroke="none" stroke-width="1" />
<path d="M1012.0,1777.2V1606.0Q1012.0,1604.0 1014.0,1604.0H1026.0Q1028.0,1604.0 1028.0,1606.0V1777.2Z" fill="#e7444a"/>
<path d="M1028.0,1777.2V1603.5Q1028.0,1601.5 1030.0,1601.5H1038.8Q1040.8,1601.5 1040.8,1603.5V1777.2Z" fill="#f4a044"/>
<path d="M1040.8,1777.2V1634.1Q1040.8,1632.1 1042.8,1632.1H1051.0Q1053.0,1632.1 1053.0,1634.1V1777.2Z" fill="#3dae3c"/>
<path d="M1048.5,1777.2V1620.1Q1048.5,1618.1 1050.5,1618.1H1063.0Q1065.0,1618.1 1065.0,1620.1V1777.2Z" fill="#1f4fa4"/>
<path d="M1060.5,1777.2V1599.7Q1060.5,1597.7 1062.5,1597.7H1075.3Q1077.3,1597.7 1077.3,1599.7V1777.2Z" fill="#6e2a90"/>
<line x1="1020.0" y1="1605.0" x2="1020.0" y2="1576.0" stroke="#a01f28" stroke-width="2.6" />
<line x1="1016.4" y1="1576.0" x2="1023.6" y2="1576.0" stroke="#a01f28" stroke-width="2.6" />
<circle cx="1017.4" cy="1610.0" r="2.3" fill="#a01f28"/>
<circle cx="1022.4" cy="1606.5" r="2.3" fill="#a01f28"/>
<circle cx="1020.0" cy="1577.5" r="2.3" fill="#a01f28"/>
<line x1="1034.4" y1="1602.5" x2="1034.4" y2="1590.8" stroke="#c8651a" stroke-width="2.6" />
<line x1="1030.8" y1="1590.8" x2="1038.0" y2="1590.8" stroke="#c8651a" stroke-width="2.6" />
<rect x="1029.5" y="1605.2" width="4.6" height="4.6" fill="#c8651a" />
<rect x="1034.5" y="1601.7" width="4.6" height="4.6" fill="#c8651a" />
<line x1="1046.9" y1="1633.1" x2="1046.9" y2="1623.7" stroke="#0f6030" stroke-width="2.6" />
<line x1="1043.3" y1="1623.7" x2="1050.5" y2="1623.7" stroke="#0f6030" stroke-width="2.6" />
<polygon points="1044.3,1635.8 1046.6,1640.4 1042.0,1640.4" fill="#0f6030" stroke="none" stroke-width="1" />
<polygon points="1049.3,1632.3 1051.6,1636.9 1047.0,1636.9" fill="#0f6030" stroke="none" stroke-width="1" />
<line x1="1056.8" y1="1619.1" x2="1056.8" y2="1616.8" stroke="#1e2a6a" stroke-width="2.6" />
<line x1="1053.2" y1="1616.8" x2="1060.3" y2="1616.8" stroke="#1e2a6a" stroke-width="2.6" />
<polygon points="1054.2,1626.4 1056.5,1621.8 1051.9,1621.8" fill="#1e2a6a" stroke="none" stroke-width="1" />
<polygon points="1059.2,1622.9 1061.5,1618.3 1056.9,1618.3" fill="#1e2a6a" stroke="none" stroke-width="1" />
<line x1="1068.9" y1="1598.7" x2="1068.9" y2="1569.6" stroke="#3a2355" stroke-width="2.6" />
<line x1="1065.3" y1="1569.6" x2="1072.5" y2="1569.6" stroke="#3a2355" stroke-width="2.6" />
<polygon points="1066.3,1601.0 1069.0,1603.7 1066.3,1606.4 1063.6,1603.7" fill="#3a2355" stroke="none" stroke-width="1" />
<polygon points="1071.3,1597.5 1074.0,1600.2 1071.3,1602.9 1068.6,1600.2" fill="#3a2355" stroke="none" stroke-width="1" />
<polygon points="1068.9,1568.4 1071.6,1571.1 1068.9,1573.8 1066.2,1571.1" fill="#3a2355" stroke="none" stroke-width="1" />
<path d="M1084.2,1777.2V1715.8Q1084.2,1713.8 1086.2,1713.8H1098.8Q1100.8,1713.8 1100.8,1715.8V1777.2Z" fill="#e7444a"/>
<path d="M1096.4,1777.2V1662.2Q1096.4,1660.2 1098.4,1660.2H1111.0Q1113.0,1660.2 1113.0,1662.2V1777.2Z" fill="#f4a044"/>
<path d="M1109.0,1777.2V1645.6Q1109.0,1643.6 1111.0,1643.6H1123.0Q1125.0,1643.6 1125.0,1645.6V1777.2Z" fill="#3dae3c"/>
<path d="M1125.0,1777.2V1664.8Q1125.0,1662.8 1127.0,1662.8H1135.2Q1137.2,1662.8 1137.2,1664.8V1777.2Z" fill="#1f4fa4"/>
<path d="M1136.0,1777.2V1666.5Q1136.0,1664.5 1138.0,1664.5H1147.2Q1149.2,1664.5 1149.2,1666.5V1777.2Z" fill="#6e2a90"/>
<line x1="1092.5" y1="1714.8" x2="1092.5" y2="1707.4" stroke="#a01f28" stroke-width="2.6" />
<line x1="1088.9" y1="1707.4" x2="1096.1" y2="1707.4" stroke="#a01f28" stroke-width="2.6" />
<circle cx="1089.9" cy="1719.8" r="2.3" fill="#a01f28"/>
<circle cx="1094.9" cy="1716.3" r="2.3" fill="#a01f28"/>
<line x1="1104.7" y1="1661.2" x2="1104.7" y2="1651.3" stroke="#c8651a" stroke-width="2.6" />
<line x1="1101.1" y1="1651.3" x2="1108.3" y2="1651.3" stroke="#c8651a" stroke-width="2.6" />
<rect x="1099.8" y="1663.9" width="4.6" height="4.6" fill="#c8651a" />
<rect x="1104.8" y="1660.4" width="4.6" height="4.6" fill="#c8651a" />
<line x1="1117.0" y1="1644.6" x2="1117.0" y2="1640.3" stroke="#0f6030" stroke-width="2.6" />
<line x1="1113.4" y1="1640.3" x2="1120.6" y2="1640.3" stroke="#0f6030" stroke-width="2.6" />
<polygon points="1114.4,1647.3 1116.7,1651.9 1112.1,1651.9" fill="#0f6030" stroke="none" stroke-width="1" />
<polygon points="1119.4,1643.8 1121.7,1648.4 1117.1,1648.4" fill="#0f6030" stroke="none" stroke-width="1" />
<line x1="1131.1" y1="1663.8" x2="1131.1" y2="1660.7" stroke="#1e2a6a" stroke-width="2.6" />
<line x1="1127.5" y1="1660.7" x2="1134.7" y2="1660.7" stroke="#1e2a6a" stroke-width="2.6" />
<polygon points="1128.5,1671.1 1130.8,1666.5 1126.2,1666.5" fill="#1e2a6a" stroke="none" stroke-width="1" />
<polygon points="1133.5,1667.6 1135.8,1663.0 1131.2,1663.0" fill="#1e2a6a" stroke="none" stroke-width="1" />
<line x1="1142.6" y1="1665.5" x2="1142.6" y2="1648.7" stroke="#3a2355" stroke-width="2.6" />
<line x1="1139.0" y1="1648.7" x2="1146.2" y2="1648.7" stroke="#3a2355" stroke-width="2.6" />
<polygon points="1140.0,1667.8 1142.7,1670.5 1140.0,1673.2 1137.3,1670.5" fill="#3a2355" stroke="none" stroke-width="1" />
<polygon points="1145.0,1664.3 1147.7,1667.0 1145.0,1669.7 1142.3,1667.0" fill="#3a2355" stroke="none" stroke-width="1" />
<polygon points="1142.6,1647.5 1145.3,1650.2 1142.6,1652.9 1139.9,1650.2" fill="#3a2355" stroke="none" stroke-width="1" />
<path d="M1156.9,1777.2V1772.7Q1156.9,1770.7 1158.9,1770.7H1171.5Q1173.5,1770.7 1173.5,1772.7V1777.2Z" fill="#e7444a"/>
<path d="M1168.9,1777.2V1708.1Q1168.9,1706.1 1170.9,1706.1H1183.5Q1185.5,1706.1 1185.5,1708.1V1777.2Z" fill="#f4a044"/>
<path d="M1185.5,1777.2V1701.7Q1185.5,1699.7 1187.5,1699.7H1195.7Q1197.7,1699.7 1197.7,1701.7V1777.2Z" fill="#3dae3c"/>
<path d="M1197.7,1777.2V1708.1Q1197.7,1706.1 1199.7,1706.1H1207.7Q1209.7,1706.1 1209.7,1708.1V1777.2Z" fill="#1f4fa4"/>
<path d="M1209.7,1777.2V1725.2Q1209.7,1723.2 1211.7,1723.2H1220.0Q1222.0,1723.2 1222.0,1725.2V1777.2Z" fill="#6e2a90"/>
<line x1="1165.2" y1="1771.7" x2="1165.2" y2="1767.5" stroke="#a01f28" stroke-width="2.6" />
<line x1="1161.6" y1="1767.5" x2="1168.8" y2="1767.5" stroke="#a01f28" stroke-width="2.6" />
<circle cx="1161.8" cy="1772.2" r="2.3" fill="#a01f28"/>
<circle cx="1168.4" cy="1771.7" r="2.3" fill="#a01f28"/>
<circle cx="1165.2" cy="1768.7" r="2.3" fill="#a01f28"/>
<line x1="1177.2" y1="1707.1" x2="1177.2" y2="1703.0" stroke="#c8651a" stroke-width="2.6" />
<line x1="1173.6" y1="1703.0" x2="1180.8" y2="1703.0" stroke="#c8651a" stroke-width="2.6" />
<rect x="1172.3" y="1709.8" width="4.6" height="4.6" fill="#c8651a" />
<rect x="1177.3" y="1706.3" width="4.6" height="4.6" fill="#c8651a" />
<line x1="1191.6" y1="1700.7" x2="1191.6" y2="1687.0" stroke="#0f6030" stroke-width="2.6" />
<line x1="1188.0" y1="1687.0" x2="1195.2" y2="1687.0" stroke="#0f6030" stroke-width="2.6" />
<polygon points="1189.0,1703.4 1191.3,1708.0 1186.7,1708.0" fill="#0f6030" stroke="none" stroke-width="1" />
<polygon points="1194.0,1699.9 1196.3,1704.5 1191.7,1704.5" fill="#0f6030" stroke="none" stroke-width="1" />
<polygon points="1191.6,1686.2 1193.9,1690.8 1189.3,1690.8" fill="#0f6030" stroke="none" stroke-width="1" />
<line x1="1203.7" y1="1707.1" x2="1203.7" y2="1703.5" stroke="#1e2a6a" stroke-width="2.6" />
<line x1="1200.1" y1="1703.5" x2="1207.3" y2="1703.5" stroke="#1e2a6a" stroke-width="2.6" />
<polygon points="1201.1,1714.4 1203.4,1709.8 1198.8,1709.8" fill="#1e2a6a" stroke="none" stroke-width="1" />
<polygon points="1206.1,1710.9 1208.4,1706.3 1203.8,1706.3" fill="#1e2a6a" stroke="none" stroke-width="1" />
<line x1="1215.8" y1="1724.2" x2="1215.8" y2="1718.9" stroke="#3a2355" stroke-width="2.6" />
<line x1="1212.2" y1="1718.9" x2="1219.4" y2="1718.9" stroke="#3a2355" stroke-width="2.6" />
<polygon points="1213.2,1726.5 1216.0,1729.2 1213.2,1731.9 1210.5,1729.2" fill="#3a2355" stroke="none" stroke-width="1" />
<polygon points="1218.2,1723.0 1221.0,1725.7 1218.2,1728.4 1215.5,1725.7" fill="#3a2355" stroke="none" stroke-width="1" />
<path d="M1229.0,1777.2V1770.6Q1229.0,1768.6 1231.0,1768.6H1243.7Q1245.7,1768.6 1245.7,1770.6V1777.2Z" fill="#e7444a"/>
<path d="M1241.6,1777.2V1613.7Q1241.6,1611.7 1243.6,1611.7H1255.7Q1257.7,1611.7 1257.7,1613.7V1777.2Z" fill="#f4a044"/>
<path d="M1257.7,1777.2V1625.7Q1257.7,1623.7 1259.7,1623.7H1268.0Q1270.0,1623.7 1270.0,1625.7V1777.2Z" fill="#3dae3c"/>
<path d="M1270.0,1777.2V1627.8Q1270.0,1625.8 1272.0,1625.8H1280.4Q1282.4,1625.8 1282.4,1627.8V1777.2Z" fill="#1f4fa4"/>
<path d="M1280.6,1777.2V1626.5Q1280.6,1624.5 1282.6,1624.5H1292.6Q1294.6,1624.5 1294.6,1626.5V1777.2Z" fill="#6e2a90"/>
<line x1="1237.3" y1="1769.6" x2="1237.3" y2="1762.0" stroke="#a01f28" stroke-width="2.6" />
<line x1="1233.8" y1="1762.0" x2="1240.9" y2="1762.0" stroke="#a01f28" stroke-width="2.6" />
<circle cx="1233.9" cy="1770.1" r="2.3" fill="#a01f28"/>
<circle cx="1240.5" cy="1769.6" r="2.3" fill="#a01f28"/>
<circle cx="1237.3" cy="1766.6" r="2.3" fill="#a01f28"/>
<line x1="1249.7" y1="1612.7" x2="1249.7" y2="1564.0" stroke="#c8651a" stroke-width="2.6" />
<line x1="1246.1" y1="1564.0" x2="1253.2" y2="1564.0" stroke="#c8651a" stroke-width="2.6" />
<rect x="1244.8" y="1615.4" width="4.6" height="4.6" fill="#c8651a" />
<rect x="1249.8" y="1611.9" width="4.6" height="4.6" fill="#c8651a" />
<rect x="1247.4" y="1563.2" width="4.6" height="4.6" fill="#c8651a" />
<line x1="1263.8" y1="1624.7" x2="1263.8" y2="1567.0" stroke="#0f6030" stroke-width="2.6" />
<line x1="1260.2" y1="1567.0" x2="1267.4" y2="1567.0" stroke="#0f6030" stroke-width="2.6" />
<polygon points="1261.2,1627.4 1263.5,1632.0 1259.0,1632.0" fill="#0f6030" stroke="none" stroke-width="1" />
<polygon points="1266.2,1623.9 1268.5,1628.5 1264.0,1628.5" fill="#0f6030" stroke="none" stroke-width="1" />
<polygon points="1263.8,1566.2 1266.1,1570.8 1261.5,1570.8" fill="#0f6030" stroke="none" stroke-width="1" />
<line x1="1276.2" y1="1626.8" x2="1276.2" y2="1548.0" stroke="#1e2a6a" stroke-width="2.6" />
<line x1="1272.6" y1="1548.0" x2="1279.8" y2="1548.0" stroke="#1e2a6a" stroke-width="2.6" />
<polygon points="1273.6,1634.1 1275.9,1629.5 1271.3,1629.5" fill="#1e2a6a" stroke="none" stroke-width="1" />
<polygon points="1278.6,1630.6 1280.9,1626.0 1276.3,1626.0" fill="#1e2a6a" stroke="none" stroke-width="1" />
<polygon points="1276.2,1551.8 1278.5,1547.2 1273.9,1547.2" fill="#1e2a6a" stroke="none" stroke-width="1" />
<line x1="1287.6" y1="1625.5" x2="1287.6" y2="1607.0" stroke="#3a2355" stroke-width="2.6" />
<line x1="1284.0" y1="1607.0" x2="1291.2" y2="1607.0" stroke="#3a2355" stroke-width="2.6" />
<polygon points="1285.0,1627.8 1287.7,1630.5 1285.0,1633.2 1282.3,1630.5" fill="#3a2355" stroke="none" stroke-width="1" />
<polygon points="1290.0,1624.3 1292.7,1627.0 1290.0,1629.7 1287.3,1627.0" fill="#3a2355" stroke="none" stroke-width="1" />
<polygon points="1287.6,1605.8 1290.3,1608.5 1287.6,1611.2 1284.9,1608.5" fill="#3a2355" stroke="none" stroke-width="1" />
<line x1="1244.0" y1="1585.0" x2="1255.5" y2="1585.0" stroke="#c8651a" stroke-width="4.6" />
<line x1="1249.7" y1="1564.0" x2="1249.7" y2="1611.0" stroke="#c8651a" stroke-width="3.4" />
<line x1="859.3" y1="1467.2" x2="859.3" y2="1779.4" stroke="#000" stroke-width="4.3" />
<line x1="850.7" y1="1777.2" x2="1303.2" y2="1777.2" stroke="#000" stroke-width="4.5" />
<line x1="850.7" y1="1469.4" x2="859.3" y2="1469.4" stroke="#000" stroke-width="4.3" />
<line x1="850.7" y1="1572.2" x2="859.3" y2="1572.2" stroke="#000" stroke-width="4.3" />
<line x1="850.7" y1="1675.0" x2="859.3" y2="1675.0" stroke="#000" stroke-width="4.3" />
<line x1="899.2" y1="1777.2" x2="899.2" y2="1787.2" stroke="#000" stroke-width="4.3" />
<line x1="971.4" y1="1777.2" x2="971.4" y2="1787.2" stroke="#000" stroke-width="4.3" />
<line x1="1044.1" y1="1777.2" x2="1044.1" y2="1787.2" stroke="#000" stroke-width="4.3" />
<line x1="1116.6" y1="1777.2" x2="1116.6" y2="1787.2" stroke="#000" stroke-width="4.3" />
<line x1="1188.8" y1="1777.2" x2="1188.8" y2="1787.2" stroke="#000" stroke-width="4.3" />
<line x1="1261.5" y1="1777.2" x2="1261.5" y2="1787.2" stroke="#000" stroke-width="4.3" />
<text x="754.3" y="1477.8" font-size="24.86" font-weight="bold" textLength="76.7" lengthAdjust="spacingAndGlyphs">1.5×10</text>
<text x="829.2" y="1470.4" font-size="17.0" font-weight="bold" textLength="18.9" lengthAdjust="spacingAndGlyphs">10</text>
<text x="776.5" y="1581.0" font-size="24.19" font-weight="bold" textLength="54.5" lengthAdjust="spacingAndGlyphs">1×10</text>
<text x="829.2" y="1573.6" font-size="17.0" font-weight="bold" textLength="18.9" lengthAdjust="spacingAndGlyphs">10</text>
<text x="783.2" y="1683.0" font-size="23.99" font-weight="bold" textLength="54.0" lengthAdjust="spacingAndGlyphs">5×10</text>
<text x="835.8" y="1675.6" font-size="17.0" font-weight="bold" textLength="9.5" lengthAdjust="spacingAndGlyphs">9</text>
<text x="833.7" y="1785.0" font-size="23.16" font-weight="bold" textLength="12.9" lengthAdjust="spacingAndGlyphs">0</text>
<text x="745.6" y="1802.4" font-size="24.54" font-weight="bold" textLength="360.2" lengthAdjust="spacingAndGlyphs" transform="rotate(-90 745.6 1802.4)" xml:space="preserve"><tspan>Average singnal (p s</tspan><tspan font-size="15.22" dy="-9.33">-1</tspan><tspan dy="9.33"> cm</tspan><tspan font-size="15.22" dy="-9.33">-2</tspan><tspan dy="9.33"> sr</tspan><tspan font-size="15.22" dy="-9.33">-1</tspan><tspan dy="9.33">)</tspan></text>
<text x="907.5" y="1813.5" font-size="25.4" font-weight="bold" text-anchor="end" transform="rotate(-45 907.5 1813.5)" letter-spacing="0.3">Heart</text>
<text x="979.7" y="1813.5" font-size="25.4" font-weight="bold" text-anchor="end" transform="rotate(-45 979.7 1813.5)" letter-spacing="0.3">Liver</text>
<text x="1052.4" y="1813.5" font-size="25.4" font-weight="bold" text-anchor="end" transform="rotate(-45 1052.4 1813.5)" letter-spacing="0.3">Spleen</text>
<text x="1124.9" y="1813.5" font-size="25.4" font-weight="bold" text-anchor="end" transform="rotate(-45 1124.9 1813.5)" letter-spacing="0.3">Lung</text>
<text x="1197.1" y="1813.5" font-size="25.4" font-weight="bold" text-anchor="end" transform="rotate(-45 1197.1 1813.5)" letter-spacing="0.3">Kindey</text>
<text x="1269.8" y="1813.5" font-size="25.4" font-weight="bold" text-anchor="end" transform="rotate(-45 1269.8 1813.5)" letter-spacing="0.3">Tumor</text>
<rect x="869.8" y="1465.0" width="21.7" height="9.2" fill="#e7444a" />
<rect x="869.8" y="1488.0" width="21.7" height="9.2" fill="#f4a044" />
<rect x="1091.0" y="1465.8" width="21.7" height="9.2" fill="#3dae3c" />
<rect x="1091.0" y="1489.3" width="21.7" height="9.2" fill="#1f4fa4" />
<rect x="1091.0" y="1513.5" width="21.7" height="9.2" fill="#6e2a90" />
<text x="897.6" y="1476.5" font-size="24.79" font-weight="bold" textLength="147.4" lengthAdjust="spacingAndGlyphs">DiR-solution</text>
<text x="897.6" y="1499.5" font-size="24.7" font-weight="bold" textLength="175.2" lengthAdjust="spacingAndGlyphs">DTX-STeS-DTX</text>
<text x="897.6" y="1521.2" font-size="24.78" font-weight="bold" textLength="48.2" lengthAdjust="spacingAndGlyphs">NPs</text>
<text x="1117.8" y="1476.5" font-size="24.23" font-weight="bold" textLength="228.9" lengthAdjust="spacingAndGlyphs">DTX-SSeS-DTX NPs</text>
<text x="1117.8" y="1500.3" font-size="24.39" font-weight="bold" textLength="216.9" lengthAdjust="spacingAndGlyphs">DTX-SSS-DTX NPs</text>
<text x="1117.8" y="1524.2" font-size="24.24" font-weight="bold" textLength="216.9" lengthAdjust="spacingAndGlyphs">DTX-SCS-DTX NPs</text>
<text x="1122.6" y="1561.5" font-size="24.39" font-weight="bold" fill="#231815" textLength="105.1" lengthAdjust="spacingAndGlyphs">P=0.0178</text>
<path d="M1238.2,1557V1552H1248.6V1557" fill="none" stroke="#000" stroke-width="3.2"/>
<text x="1243.6" y="1554.0" font-size="24" font-weight="bold" text-anchor="middle">*</text>
<text x="701.6" y="1415.3" font-size="28.5" font-weight="bold" fill="#231815" textLength="9.5" lengthAdjust="spacingAndGlyphs">f</text>
<path d="M1462.8,1792.6V1602.9H1481.8V1792.6" fill="none" stroke="#e7444a" stroke-width="5.2"/>
<line x1="1472.3" y1="1601.3" x2="1472.3" y2="1567.0" stroke="#e7444a" stroke-width="3.6" />
<line x1="1466.3" y1="1568.0" x2="1478.3" y2="1568.0" stroke="#e7444a" stroke-width="3.2" />
<circle cx="1472.3" cy="1582.0" r="3.0" fill="#e7444a"/>
<circle cx="1472.3" cy="1624.3" r="3.0" fill="#e7444a"/>
<path d="M1491.6,1792.6V1758.0H1510.7V1792.6" fill="none" stroke="#f4a044" stroke-width="5.2"/>
<line x1="1501.2" y1="1756.4" x2="1501.2" y2="1752.0" stroke="#f4a044" stroke-width="3.6" />
<line x1="1495.2" y1="1753.0" x2="1507.2" y2="1753.0" stroke="#f4a044" stroke-width="3.2" />
<rect x="1498.2" y="1768.4" width="6.0" height="6.0" fill="#f4a044" />
<path d="M1521.0,1792.6V1743.2H1539.4V1792.6" fill="none" stroke="#3dae3c" stroke-width="5.2"/>
<line x1="1530.2" y1="1741.6" x2="1530.2" y2="1729.8" stroke="#3dae3c" stroke-width="3.6" />
<line x1="1524.2" y1="1730.8" x2="1536.2" y2="1730.8" stroke="#3dae3c" stroke-width="3.2" />
<polygon points="1530.2,1753.6 1533.2,1759.6 1527.2,1759.6" fill="#3dae3c" stroke="none" stroke-width="1" />
<path d="M1549.8,1792.6V1776.3H1568.6V1792.6" fill="none" stroke="#4a61ad" stroke-width="5.2"/>
<line x1="1559.2" y1="1774.7" x2="1559.2" y2="1767.0" stroke="#4a61ad" stroke-width="3.6" />
<line x1="1553.2" y1="1768.0" x2="1565.2" y2="1768.0" stroke="#4a61ad" stroke-width="3.2" />
<polygon points="1559.2,1792.7 1562.2,1786.7 1556.2,1786.7" fill="#4a61ad" stroke="none" stroke-width="1" />
<path d="M1578.9,1792.6V1779.6H1597.4V1792.6" fill="none" stroke="#7c4499" stroke-width="5.2"/>
<line x1="1588.2" y1="1778.0" x2="1588.2" y2="1774.5" stroke="#7c4499" stroke-width="3.6" />
<line x1="1582.2" y1="1775.5" x2="1594.2" y2="1775.5" stroke="#7c4499" stroke-width="3.2" />
<polygon points="1588.2,1789.6 1591.6,1793.0 1588.2,1796.4 1584.8,1793.0" fill="#7c4499" stroke="none" stroke-width="1" />
<path d="M1631.9,1792.6V1696.0H1650.4V1792.6" fill="none" stroke="#e7444a" stroke-width="5.2"/>
<line x1="1641.2" y1="1694.4" x2="1641.2" y2="1689.5" stroke="#e7444a" stroke-width="3.6" />
<line x1="1635.2" y1="1690.5" x2="1647.2" y2="1690.5" stroke="#e7444a" stroke-width="3.2" />
<circle cx="1641.2" cy="1709.4" r="3.0" fill="#e7444a"/>
<path d="M1660.5,1792.6V1669.2H1679.1V1792.6" fill="none" stroke="#f4a044" stroke-width="5.2"/>
<line x1="1669.8" y1="1667.6" x2="1669.8" y2="1621.2" stroke="#f4a044" stroke-width="3.6" />
<line x1="1663.8" y1="1622.2" x2="1675.8" y2="1622.2" stroke="#f4a044" stroke-width="3.2" />
<rect x="1666.8" y="1638.6" width="6.0" height="6.0" fill="#f4a044" />
<rect x="1666.8" y="1687.6" width="6.0" height="6.0" fill="#f4a044" />
<path d="M1689.1,1792.6V1712.0H1708.1V1792.6" fill="none" stroke="#3dae3c" stroke-width="5.2"/>
<line x1="1698.6" y1="1710.4" x2="1698.6" y2="1675.5" stroke="#3dae3c" stroke-width="3.6" />
<line x1="1692.6" y1="1676.5" x2="1704.6" y2="1676.5" stroke="#3dae3c" stroke-width="3.2" />
<polygon points="1698.6,1687.8 1701.6,1693.8 1695.6,1693.8" fill="#3dae3c" stroke="none" stroke-width="1" />
<polygon points="1698.6,1730.4 1701.6,1736.4 1695.6,1736.4" fill="#3dae3c" stroke="none" stroke-width="1" />
<path d="M1717.9,1792.6V1722.8H1737.0V1792.6" fill="none" stroke="#4a61ad" stroke-width="5.2"/>
<line x1="1727.4" y1="1721.2" x2="1727.4" y2="1707.4" stroke="#4a61ad" stroke-width="3.6" />
<line x1="1721.4" y1="1708.4" x2="1733.4" y2="1708.4" stroke="#4a61ad" stroke-width="3.2" />
<polygon points="1727.4,1739.2 1730.4,1733.2 1724.4,1733.2" fill="#4a61ad" stroke="none" stroke-width="1" />
<path d="M1747.3,1792.6V1717.6H1766.3V1792.6" fill="none" stroke="#7c4499" stroke-width="5.2"/>
<line x1="1756.8" y1="1716.0" x2="1756.8" y2="1707.4" stroke="#7c4499" stroke-width="3.6" />
<line x1="1750.8" y1="1708.4" x2="1762.8" y2="1708.4" stroke="#7c4499" stroke-width="3.2" />
<polygon points="1756.8,1727.6 1760.2,1731.0 1756.8,1734.4 1753.4,1731.0" fill="#7c4499" stroke="none" stroke-width="1" />
<path d="M1800.3,1792.6V1735.5H1819.4V1792.6" fill="none" stroke="#e7444a" stroke-width="5.2"/>
<line x1="1809.8" y1="1733.9" x2="1809.8" y2="1724.5" stroke="#e7444a" stroke-width="3.6" />
<line x1="1803.8" y1="1725.5" x2="1815.8" y2="1725.5" stroke="#e7444a" stroke-width="3.2" />
<circle cx="1809.8" cy="1748.9" r="3.0" fill="#e7444a"/>
<path d="M1829.4,1792.6V1541.1H1848.4V1792.6" fill="none" stroke="#f4a044" stroke-width="5.2"/>
<line x1="1838.9" y1="1539.5" x2="1838.9" y2="1504.6" stroke="#f4a044" stroke-width="3.6" />
<line x1="1832.9" y1="1505.6" x2="1844.9" y2="1505.6" stroke="#f4a044" stroke-width="3.2" />
<rect x="1835.9" y="1516.9" width="6.0" height="6.0" fill="#f4a044" />
<rect x="1835.9" y="1559.5" width="6.0" height="6.0" fill="#f4a044" />
<path d="M1858.2,1792.6V1647.5H1877.3V1792.6" fill="none" stroke="#3dae3c" stroke-width="5.2"/>
<line x1="1867.8" y1="1645.9" x2="1867.8" y2="1622.0" stroke="#3dae3c" stroke-width="3.6" />
<line x1="1861.8" y1="1623.0" x2="1873.8" y2="1623.0" stroke="#3dae3c" stroke-width="3.2" />
<polygon points="1867.8,1629.3 1870.8,1635.3 1864.8,1635.3" fill="#3dae3c" stroke="none" stroke-width="1" />
<polygon points="1867.8,1657.9 1870.8,1663.9 1864.8,1663.9" fill="#3dae3c" stroke="none" stroke-width="1" />
<path d="M1886.8,1792.6V1722.8H1905.8V1792.6" fill="none" stroke="#4a61ad" stroke-width="5.2"/>
<line x1="1896.3" y1="1721.2" x2="1896.3" y2="1708.7" stroke="#4a61ad" stroke-width="3.6" />
<line x1="1890.3" y1="1709.7" x2="1902.3" y2="1709.7" stroke="#4a61ad" stroke-width="3.2" />
<polygon points="1896.3,1739.2 1899.3,1733.2 1893.3,1733.2" fill="#4a61ad" stroke="none" stroke-width="1" />
<path d="M1916.1,1792.6V1697.8H1934.7V1792.6" fill="none" stroke="#7c4499" stroke-width="5.2"/>
<line x1="1925.4" y1="1696.2" x2="1925.4" y2="1666.6" stroke="#7c4499" stroke-width="3.6" />
<line x1="1919.4" y1="1667.6" x2="1931.4" y2="1667.6" stroke="#7c4499" stroke-width="3.2" />
<polygon points="1925.4,1676.1 1928.8,1679.5 1925.4,1682.9 1922.0,1679.5" fill="#7c4499" stroke="none" stroke-width="1" />
<polygon points="1925.4,1715.8 1928.8,1719.2 1925.4,1722.6 1922.0,1719.2" fill="#7c4499" stroke="none" stroke-width="1" />
<line x1="1447.8" y1="1456.0" x2="1447.8" y2="1794.9" stroke="#000" stroke-width="4.4" />
<line x1="1434.2" y1="1792.6" x2="1952.0" y2="1792.6" stroke="#000" stroke-width="4.6" />
<line x1="1434.2" y1="1458.2" x2="1447.8" y2="1458.2" stroke="#000" stroke-width="4.4" />
<line x1="1434.2" y1="1569.1" x2="1447.8" y2="1569.1" stroke="#000" stroke-width="4.4" />
<line x1="1434.2" y1="1680.6" x2="1447.8" y2="1680.6" stroke="#000" stroke-width="4.4" />
<line x1="1530.4" y1="1792.6" x2="1530.4" y2="1807.0" stroke="#000" stroke-width="4.4" />
<line x1="1698.2" y1="1792.6" x2="1698.2" y2="1807.0" stroke="#000" stroke-width="4.4" />
<line x1="1866.6" y1="1792.6" x2="1866.6" y2="1807.0" stroke="#000" stroke-width="4.4" />
<text x="1415.9" y="1466.6" font-size="24.5" font-weight="bold" textLength="13.6" lengthAdjust="spacingAndGlyphs">3</text>
<text x="1416.0" y="1577.4" font-size="24.5" font-weight="bold" textLength="13.6" lengthAdjust="spacingAndGlyphs">2</text>
<text x="1415.6" y="1689.6" font-size="24.5" font-weight="bold" textLength="13.6" lengthAdjust="spacingAndGlyphs">1</text>
<text x="1416.0" y="1801.2" font-size="24.5" font-weight="bold" textLength="13.6" lengthAdjust="spacingAndGlyphs">0</text>
<text x="1515.5" y="1833.9" font-size="24.5" font-weight="bold" textLength="28.6" lengthAdjust="spacingAndGlyphs">1h</text>
<text x="1676.8" y="1833.9" font-size="24.75" font-weight="bold" textLength="42.6" lengthAdjust="spacingAndGlyphs">12h</text>
<text x="1845.3" y="1833.9" font-size="24.62" font-weight="bold" textLength="42.4" lengthAdjust="spacingAndGlyphs">24h</text>
<text x="1401.0" y="1754.3" font-size="24.37" font-weight="bold" textLength="281.4" lengthAdjust="spacingAndGlyphs" transform="rotate(-90 1401.0 1754.3)" xml:space="preserve"><tspan>Concentration (nmol g</tspan><tspan font-size="15.11" dy="-9.26">-1</tspan><tspan dy="9.26">)</tspan></text>
<rect x="1519.2" y="1460.4" width="30.2" height="6.8" fill="#fff" stroke="#e7444a" stroke-width="4.4"/>
<text x="1573.0" y="1470.9" font-size="24.25" font-weight="bold" textLength="99.3" lengthAdjust="spacingAndGlyphs">Taxotere</text>
<rect x="1519.2" y="1487.2" width="30.2" height="6.8" fill="#fff" stroke="#f4a044" stroke-width="4.4"/>
<text x="1571.6" y="1497.4" font-size="24.57" font-weight="bold" textLength="228.9" lengthAdjust="spacingAndGlyphs">DTX-STeS-DTX NPs</text>
<rect x="1519.2" y="1513.7" width="30.2" height="6.8" fill="#fff" stroke="#3dae3c" stroke-width="4.4"/>
<text x="1571.6" y="1523.2" font-size="24.37" font-weight="bold" textLength="230.2" lengthAdjust="spacingAndGlyphs">DTX-SSeS-DTX NPs</text>
<rect x="1519.2" y="1536.9" width="30.2" height="6.8" fill="#fff" stroke="#4a61ad" stroke-width="4.4"/>
<text x="1571.6" y="1546.7" font-size="24.31" font-weight="bold" textLength="216.2" lengthAdjust="spacingAndGlyphs">DTX-SSS-DTX NPs</text>
<rect x="1519.2" y="1560.9" width="30.2" height="6.8" fill="#fff" stroke="#7c4499" stroke-width="4.4"/>
<text x="1571.6" y="1570.4" font-size="24.36" font-weight="bold" textLength="217.9" lengthAdjust="spacingAndGlyphs">DTX-SCS-DTX NPs</text>
<path d="M1474.1,1561.2V1554.2H1501.3V1561.2" fill="none" stroke="#000" stroke-width="3.4"/>
<text x="1479.0" y="1552.5" font-size="21.47" textLength="16.7" lengthAdjust="spacingAndGlyphs">**</text>
<text x="1481.8" y="1594.4" font-size="24.21" font-weight="bold" fill="#231815" textLength="104.3" lengthAdjust="spacingAndGlyphs">P=0.0142</text>
<text x="1729.5" y="1470.2" font-size="24.44" font-weight="bold" fill="#231815" textLength="105.3" lengthAdjust="spacingAndGlyphs">P=0.0003</text>
<text x="1839.2" y="1470.2" font-size="24.56" font-weight="bold" fill="#231815" textLength="105.8" lengthAdjust="spacingAndGlyphs">P=0.0063</text>
<path d="M1806.7,1501.3V1495.3H1834.8V1501.3" fill="none" stroke="#000" stroke-width="3.4"/>
<path d="M1842.5,1501.3V1495.3H1871.0V1501.3" fill="none" stroke="#000" stroke-width="3.4"/>
<text x="1808.1" y="1494.0" font-size="21.75" textLength="25.4" lengthAdjust="spacingAndGlyphs">***</text>
<text x="1849.0" y="1494.0" font-size="20.4" textLength="15.9" lengthAdjust="spacingAndGlyphs">**</text>
<text x="1859.9" y="1573.5" font-size="23.89" font-weight="bold" fill="#231815" textLength="102.9" lengthAdjust="spacingAndGlyphs">P=0.0061</text>
<text x="1873.2" y="1593.0" font-size="20.4" textLength="15.9" lengthAdjust="spacingAndGlyphs">**</text>
<path d="M1868.0,1601.0V1594.3H1896.0V1601.0" fill="none" stroke="#000" stroke-width="3.4"/>
<text x="1891.8" y="1627.0" font-size="24.34" font-weight="bold" fill="#231815" textLength="104.9" lengthAdjust="spacingAndGlyphs">P=0.2128</text>
<text x="1894.8" y="1647.0" font-size="24.09" font-weight="bold" textLength="41.5" lengthAdjust="spacingAndGlyphs">n.s.</text>
<path d="M1896.9,1662.0V1655.0H1924.9V1662.0" fill="none" stroke="#000" stroke-width="3.4"/>
<text x="1366.5" y="1415.5" font-size="28.5" font-weight="bold" fill="#231815" textLength="17.4" lengthAdjust="spacingAndGlyphs">g</text>
</svg>
</body></html>
